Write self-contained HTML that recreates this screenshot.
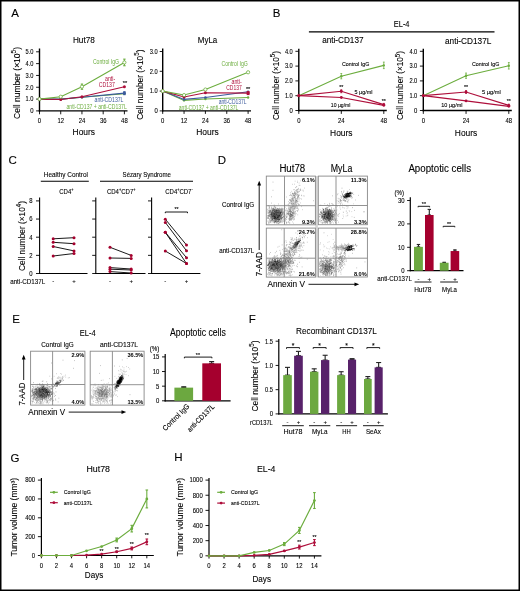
<!DOCTYPE html><html><head><meta charset="utf-8"><style>html,body{margin:0;padding:0;background:#fff;}svg{display:block;}text{font-family:"Liberation Sans", sans-serif;stroke-width:.1px;}</style></head><body>
<svg width="520" height="591" viewBox="0 0 520 591">
<rect x="0" y="0" width="520" height="591" fill="#fff"/>
<defs><filter id="bl" x="-10%" y="-10%" width="120%" height="120%"><feGaussianBlur stdDeviation="0.4"/></filter><filter id="gb" x="0" y="0" width="520" height="591" filterUnits="userSpaceOnUse"><feGaussianBlur stdDeviation="0.28"/></filter></defs>
<g filter="url(#gb)">
<rect x="0" y="0" width="520" height="591" fill="#fff"/>
<text x="11.2" y="16.7" font-size="11.5" stroke="#000">A</text>
<text x="272.8" y="16.7" font-size="11.5" stroke="#000">B</text>
<text x="8.6" y="164" font-size="11.5" stroke="#000">C</text>
<text x="217.8" y="163.8" font-size="11.5" stroke="#000">D</text>
<text x="12.3" y="323.3" font-size="11.5" stroke="#000">E</text>
<text x="248.8" y="323" font-size="11.5" stroke="#000">F</text>
<text x="10.4" y="461.8" font-size="11.5" stroke="#000">G</text>
<text x="174.3" y="461.2" font-size="11.5" stroke="#000">H</text>
<text x="72.95" y="43.01" font-size="8.6" stroke="#000" textLength="21.9" lengthAdjust="spacingAndGlyphs">Hut78</text>
<line x1="39.5" y1="48.5" x2="39.5" y2="111.6" stroke="#000" stroke-width="1.4"/>
<line x1="38.8" y1="110.9" x2="127.5" y2="110.9" stroke="#000" stroke-width="1.4"/>
<line x1="36.1" y1="110.9" x2="39.5" y2="110.9" stroke="#000" stroke-width="0.9"/>
<text x="30.2" y="113.28" font-size="6.6" stroke="#000" textLength="3.3" lengthAdjust="spacingAndGlyphs">0</text>
<line x1="36.1" y1="99.08" x2="39.5" y2="99.08" stroke="#000" stroke-width="0.9"/>
<text x="25.58" y="101.46" font-size="6.6" stroke="#000" textLength="7.92" lengthAdjust="spacingAndGlyphs">1.0</text>
<line x1="36.1" y1="87.26" x2="39.5" y2="87.26" stroke="#000" stroke-width="0.9"/>
<text x="25.58" y="89.64" font-size="6.6" stroke="#000" textLength="7.92" lengthAdjust="spacingAndGlyphs">2.0</text>
<line x1="36.1" y1="75.44" x2="39.5" y2="75.44" stroke="#000" stroke-width="0.9"/>
<text x="25.58" y="77.82" font-size="6.6" stroke="#000" textLength="7.92" lengthAdjust="spacingAndGlyphs">3.0</text>
<line x1="36.1" y1="63.62" x2="39.5" y2="63.62" stroke="#000" stroke-width="0.9"/>
<text x="25.58" y="66" font-size="6.6" stroke="#000" textLength="7.92" lengthAdjust="spacingAndGlyphs">4.0</text>
<line x1="36.1" y1="51.8" x2="39.5" y2="51.8" stroke="#000" stroke-width="0.9"/>
<text x="25.58" y="54.18" font-size="6.6" stroke="#000" textLength="7.92" lengthAdjust="spacingAndGlyphs">5.0</text>
<line x1="39.5" y1="110.9" x2="39.5" y2="114.3" stroke="#000" stroke-width="0.9"/>
<text x="37.85" y="123.3" font-size="6.6" stroke="#000" textLength="3.3" lengthAdjust="spacingAndGlyphs">0</text>
<line x1="60.73" y1="110.9" x2="60.73" y2="114.3" stroke="#000" stroke-width="0.9"/>
<text x="57.43" y="123.3" font-size="6.6" stroke="#000" textLength="6.6" lengthAdjust="spacingAndGlyphs">12</text>
<line x1="81.95" y1="110.9" x2="81.95" y2="114.3" stroke="#000" stroke-width="0.9"/>
<text x="78.65" y="123.3" font-size="6.6" stroke="#000" textLength="6.6" lengthAdjust="spacingAndGlyphs">24</text>
<line x1="103.18" y1="110.9" x2="103.18" y2="114.3" stroke="#000" stroke-width="0.9"/>
<text x="99.88" y="123.3" font-size="6.6" stroke="#000" textLength="6.6" lengthAdjust="spacingAndGlyphs">36</text>
<line x1="124.4" y1="110.9" x2="124.4" y2="114.3" stroke="#000" stroke-width="0.9"/>
<text x="121.1" y="123.3" font-size="6.6" stroke="#000" textLength="6.6" lengthAdjust="spacingAndGlyphs">48</text>
<polyline points="39.5,99.08 60.73,99.32 81.95,97.31 124.4,93.76" fill="none" stroke="#6cad3e" stroke-width="1.1"/>
<circle cx="39.5" cy="99.08" r="1.2" fill="#6cad3e"/>
<circle cx="60.73" cy="99.32" r="1.2" fill="#6cad3e"/>
<circle cx="81.95" cy="97.31" r="1.2" fill="#6cad3e"/>
<circle cx="124.4" cy="93.76" r="1.2" fill="#6cad3e"/>
<polyline points="39.5,99.08 60.73,99.08 81.95,97.31 124.4,93.17" fill="none" stroke="#3b5a9c" stroke-width="1.1"/>
<circle cx="39.5" cy="99.08" r="1.3" fill="#3b5a9c"/>
<circle cx="60.73" cy="99.08" r="1.3" fill="#3b5a9c"/>
<circle cx="81.95" cy="97.31" r="1.3" fill="#3b5a9c"/>
<circle cx="124.4" cy="93.17" r="1.3" fill="#3b5a9c"/>
<rect x="123.2" y="91.17" width="2.4" height="4" fill="#3b5a9c"/>
<polyline points="39.5,99.08 60.73,99.43 81.95,96.72 124.4,86.67" fill="none" stroke="#ae0f3b" stroke-width="1.1"/>
<circle cx="39.5" cy="99.08" r="1.5" fill="#ae0f3b"/>
<circle cx="60.73" cy="99.43" r="1.5" fill="#ae0f3b"/>
<circle cx="81.95" cy="96.72" r="1.5" fill="#ae0f3b"/>
<circle cx="124.4" cy="86.67" r="1.5" fill="#ae0f3b"/>
<line x1="81.95" y1="84.07" x2="81.95" y2="89.27" stroke="#6cad3e" stroke-width="1.1"/>
<line x1="80.75" y1="84.07" x2="83.15" y2="84.07" stroke="#6cad3e" stroke-width="1.1"/>
<line x1="80.75" y1="89.27" x2="83.15" y2="89.27" stroke="#6cad3e" stroke-width="1.1"/>
<line x1="124.4" y1="59.14" x2="124.4" y2="65.74" stroke="#6cad3e" stroke-width="1.1"/>
<line x1="123.2" y1="59.14" x2="125.6" y2="59.14" stroke="#6cad3e" stroke-width="1.1"/>
<line x1="123.2" y1="65.74" x2="125.6" y2="65.74" stroke="#6cad3e" stroke-width="1.1"/>
<polyline points="39.5,99.08 60.73,96.72 81.95,86.67 124.4,62.44" fill="none" stroke="#6cad3e" stroke-width="1.1"/>
<circle cx="39.5" cy="99.08" r="1.6" fill="#fff" stroke="#6cad3e" stroke-width="0.8"/>
<circle cx="60.73" cy="96.72" r="1.6" fill="#fff" stroke="#6cad3e" stroke-width="0.8"/>
<circle cx="81.95" cy="86.67" r="1.6" fill="#fff" stroke="#6cad3e" stroke-width="0.8"/>
<circle cx="124.4" cy="62.44" r="1.6" fill="#fff" stroke="#6cad3e" stroke-width="0.8"/>
<text x="92.9" y="63.54" font-size="6.4" fill="#6cad3e" textLength="26.2" lengthAdjust="spacingAndGlyphs">Control IgG</text>
<text x="105" y="80.54" font-size="6.4" fill="#ae0f3b" textLength="10.2" lengthAdjust="spacingAndGlyphs">anti-</text>
<text x="98.7" y="86.84" font-size="6.4" fill="#ae0f3b" textLength="16.1" lengthAdjust="spacingAndGlyphs">CD137</text>
<text x="122.7" y="85.14" font-size="5.5" stroke="#000" textLength="4.4" lengthAdjust="spacingAndGlyphs">**</text>
<text x="94.6" y="102.04" font-size="6.4" fill="#3b5a9c" textLength="28.9" lengthAdjust="spacingAndGlyphs">anti-CD137L</text>
<text x="66.5" y="109.24" font-size="6.4" fill="#6cad3e" textLength="60.3" lengthAdjust="spacingAndGlyphs">anti-CD137 + anti-CD137L</text>
<text x="72.55" y="135.15" font-size="9" stroke="#000" textLength="22.5" lengthAdjust="spacingAndGlyphs">Hours</text>
<text x="19.8" y="119" font-size="9" text-anchor="start" textLength="72" lengthAdjust="spacingAndGlyphs" transform="rotate(-90 19.8 119)" stroke="#000">Cell number (×10<tspan dy="-3.6" font-size="6.75">5</tspan><tspan dy="3.6">)</tspan></text>
<text x="197.75" y="43.31" font-size="8.6" stroke="#000" textLength="19.5" lengthAdjust="spacingAndGlyphs">MyLa</text>
<line x1="162.7" y1="48.5" x2="162.7" y2="111.6" stroke="#000" stroke-width="1.4"/>
<line x1="162" y1="110.9" x2="251" y2="110.9" stroke="#000" stroke-width="1.4"/>
<line x1="159.7" y1="110.9" x2="162.7" y2="110.9" stroke="#000" stroke-width="0.9"/>
<text x="154.4" y="113.28" font-size="6.6" stroke="#000" textLength="3.3" lengthAdjust="spacingAndGlyphs">0</text>
<line x1="159.7" y1="91.1" x2="162.7" y2="91.1" stroke="#000" stroke-width="0.9"/>
<text x="149.78" y="93.48" font-size="6.6" stroke="#000" textLength="7.92" lengthAdjust="spacingAndGlyphs">1.0</text>
<line x1="159.7" y1="71.3" x2="162.7" y2="71.3" stroke="#000" stroke-width="0.9"/>
<text x="149.78" y="73.68" font-size="6.6" stroke="#000" textLength="7.92" lengthAdjust="spacingAndGlyphs">2.0</text>
<line x1="159.7" y1="51.5" x2="162.7" y2="51.5" stroke="#000" stroke-width="0.9"/>
<text x="149.78" y="53.88" font-size="6.6" stroke="#000" textLength="7.92" lengthAdjust="spacingAndGlyphs">3.0</text>
<line x1="162.7" y1="110.9" x2="162.7" y2="113.9" stroke="#000" stroke-width="0.9"/>
<text x="161.05" y="123.3" font-size="6.6" stroke="#000" textLength="3.3" lengthAdjust="spacingAndGlyphs">0</text>
<line x1="184.05" y1="110.9" x2="184.05" y2="113.9" stroke="#000" stroke-width="0.9"/>
<text x="180.75" y="123.3" font-size="6.6" stroke="#000" textLength="6.6" lengthAdjust="spacingAndGlyphs">12</text>
<line x1="205.4" y1="110.9" x2="205.4" y2="113.9" stroke="#000" stroke-width="0.9"/>
<text x="202.1" y="123.3" font-size="6.6" stroke="#000" textLength="6.6" lengthAdjust="spacingAndGlyphs">24</text>
<line x1="226.75" y1="110.9" x2="226.75" y2="113.9" stroke="#000" stroke-width="0.9"/>
<text x="223.45" y="123.3" font-size="6.6" stroke="#000" textLength="6.6" lengthAdjust="spacingAndGlyphs">36</text>
<line x1="248.1" y1="110.9" x2="248.1" y2="113.9" stroke="#000" stroke-width="0.9"/>
<text x="244.8" y="123.3" font-size="6.6" stroke="#000" textLength="6.6" lengthAdjust="spacingAndGlyphs">48</text>
<polyline points="162.7,91.1 184.05,100.41 205.4,99.02 248.1,97.44" fill="none" stroke="#6cad3e" stroke-width="1.1"/>
<circle cx="162.7" cy="91.1" r="1.2" fill="#6cad3e"/>
<circle cx="184.05" cy="100.41" r="1.2" fill="#6cad3e"/>
<circle cx="205.4" cy="99.02" r="1.2" fill="#6cad3e"/>
<circle cx="248.1" cy="97.44" r="1.2" fill="#6cad3e"/>
<polyline points="162.7,91.1 184.05,99.42 205.4,97.44 248.1,91.69" fill="none" stroke="#3b5a9c" stroke-width="1.1"/>
<circle cx="162.7" cy="91.1" r="1.3" fill="#3b5a9c"/>
<circle cx="184.05" cy="99.42" r="1.3" fill="#3b5a9c"/>
<circle cx="205.4" cy="97.44" r="1.3" fill="#3b5a9c"/>
<circle cx="248.1" cy="91.69" r="1.3" fill="#3b5a9c"/>
<polyline points="162.7,91.1 184.05,97.04 205.4,92.68 248.1,93.08" fill="none" stroke="#ae0f3b" stroke-width="1.1"/>
<circle cx="162.7" cy="91.1" r="1.5" fill="#ae0f3b"/>
<circle cx="184.05" cy="97.04" r="1.5" fill="#ae0f3b"/>
<circle cx="205.4" cy="92.68" r="1.5" fill="#ae0f3b"/>
<circle cx="248.1" cy="93.08" r="1.5" fill="#ae0f3b"/>
<rect x="246.7" y="91.08" width="2.8" height="4" fill="#ae0f3b"/>
<polyline points="162.7,91.1 184.05,95.06 205.4,89.52 248.1,72.29" fill="none" stroke="#6cad3e" stroke-width="1.1"/>
<circle cx="162.7" cy="91.1" r="1.6" fill="#fff" stroke="#6cad3e" stroke-width="0.8"/>
<circle cx="184.05" cy="95.06" r="1.6" fill="#fff" stroke="#6cad3e" stroke-width="0.8"/>
<circle cx="205.4" cy="89.52" r="1.6" fill="#fff" stroke="#6cad3e" stroke-width="0.8"/>
<circle cx="248.1" cy="72.29" r="1.6" fill="#fff" stroke="#6cad3e" stroke-width="0.8"/>
<text x="221.5" y="66.24" font-size="6.4" fill="#6cad3e" textLength="26.3" lengthAdjust="spacingAndGlyphs">Control IgG</text>
<text x="231.5" y="84.44" font-size="6.4" fill="#ae0f3b" textLength="10.2" lengthAdjust="spacingAndGlyphs">anti-</text>
<text x="226.2" y="90.44" font-size="6.4" fill="#ae0f3b" textLength="15.5" lengthAdjust="spacingAndGlyphs">CD137</text>
<text x="245.9" y="90.94" font-size="5.5" stroke="#000" textLength="4.4" lengthAdjust="spacingAndGlyphs">**</text>
<text x="218.7" y="103.84" font-size="6.4" fill="#3b5a9c" textLength="27.9" lengthAdjust="spacingAndGlyphs">anti-CD137L</text>
<text x="178.8" y="109.94" font-size="6.4" fill="#6cad3e" textLength="59.6" lengthAdjust="spacingAndGlyphs">anti-CD137 + anti-CD137L</text>
<text x="196.25" y="135.15" font-size="9" stroke="#000" textLength="22.5" lengthAdjust="spacingAndGlyphs">Hours</text>
<text x="142.8" y="119.85" font-size="9" text-anchor="start" textLength="70.3" lengthAdjust="spacingAndGlyphs" transform="rotate(-90 142.8 119.85)" stroke="#000">Cell number (×10<tspan dy="-3.6" font-size="6.75">5</tspan><tspan dy="3.6">)</tspan></text>
<text x="393.8" y="26.76" font-size="8.6" stroke="#000" textLength="15.7" lengthAdjust="spacingAndGlyphs">EL-4</text>
<line x1="308.9" y1="31.9" x2="494.5" y2="31.9" stroke="#000" stroke-width="1.1"/>
<text x="322.2" y="43.31" font-size="8.6" stroke="#000" textLength="41.3" lengthAdjust="spacingAndGlyphs">anti-CD137</text>
<text x="445" y="43.51" font-size="8.6" stroke="#000" textLength="46.3" lengthAdjust="spacingAndGlyphs">anti-CD137L</text>
<line x1="298.8" y1="48.8" x2="298.8" y2="111.2" stroke="#000" stroke-width="1.4"/>
<line x1="298.1" y1="110.5" x2="386.8" y2="110.5" stroke="#000" stroke-width="1.4"/>
<line x1="295.4" y1="110.5" x2="298.8" y2="110.5" stroke="#000" stroke-width="0.9"/>
<text x="289.5" y="112.88" font-size="6.6" stroke="#000" textLength="3.3" lengthAdjust="spacingAndGlyphs">0</text>
<line x1="295.4" y1="95.7" x2="298.8" y2="95.7" stroke="#000" stroke-width="0.9"/>
<text x="284.88" y="98.08" font-size="6.6" stroke="#000" textLength="7.92" lengthAdjust="spacingAndGlyphs">1.0</text>
<line x1="295.4" y1="80.9" x2="298.8" y2="80.9" stroke="#000" stroke-width="0.9"/>
<text x="284.88" y="83.28" font-size="6.6" stroke="#000" textLength="7.92" lengthAdjust="spacingAndGlyphs">2.0</text>
<line x1="295.4" y1="66.1" x2="298.8" y2="66.1" stroke="#000" stroke-width="0.9"/>
<text x="284.88" y="68.48" font-size="6.6" stroke="#000" textLength="7.92" lengthAdjust="spacingAndGlyphs">3.0</text>
<line x1="295.4" y1="51.3" x2="298.8" y2="51.3" stroke="#000" stroke-width="0.9"/>
<text x="284.88" y="53.68" font-size="6.6" stroke="#000" textLength="7.92" lengthAdjust="spacingAndGlyphs">4.0</text>
<line x1="298.8" y1="110.5" x2="298.8" y2="113.9" stroke="#000" stroke-width="0.9"/>
<text x="297.15" y="122.9" font-size="6.6" stroke="#000" textLength="3.3" lengthAdjust="spacingAndGlyphs">0</text>
<line x1="341.3" y1="110.5" x2="341.3" y2="113.9" stroke="#000" stroke-width="0.9"/>
<text x="338" y="122.9" font-size="6.6" stroke="#000" textLength="6.6" lengthAdjust="spacingAndGlyphs">24</text>
<line x1="383.8" y1="110.5" x2="383.8" y2="113.9" stroke="#000" stroke-width="0.9"/>
<text x="380.5" y="122.9" font-size="6.6" stroke="#000" textLength="6.6" lengthAdjust="spacingAndGlyphs">48</text>
<line x1="341.3" y1="73.5" x2="341.3" y2="78.83" stroke="#6cad3e" stroke-width="0.8"/>
<line x1="340.4" y1="73.5" x2="342.2" y2="73.5" stroke="#6cad3e" stroke-width="0.8"/>
<line x1="340.4" y1="78.83" x2="342.2" y2="78.83" stroke="#6cad3e" stroke-width="0.8"/>
<line x1="383.8" y1="62.1" x2="383.8" y2="68.62" stroke="#6cad3e" stroke-width="0.8"/>
<line x1="382.9" y1="62.1" x2="384.7" y2="62.1" stroke="#6cad3e" stroke-width="0.8"/>
<line x1="382.9" y1="68.62" x2="384.7" y2="68.62" stroke="#6cad3e" stroke-width="0.8"/>
<polyline points="298.8,95.7 341.3,76.16 383.8,65.36" fill="none" stroke="#6cad3e" stroke-width="1.1"/>
<circle cx="298.8" cy="95.7" r="1.2" fill="#6cad3e"/>
<circle cx="341.3" cy="76.16" r="1.2" fill="#6cad3e"/>
<circle cx="383.8" cy="65.36" r="1.2" fill="#6cad3e"/>
<line x1="341.3" y1="89.78" x2="341.3" y2="92.74" stroke="#ae0f3b" stroke-width="0.8"/>
<line x1="340.4" y1="89.78" x2="342.2" y2="89.78" stroke="#ae0f3b" stroke-width="0.8"/>
<line x1="340.4" y1="92.74" x2="342.2" y2="92.74" stroke="#ae0f3b" stroke-width="0.8"/>
<line x1="383.8" y1="103.4" x2="383.8" y2="105.76" stroke="#ae0f3b" stroke-width="0.8"/>
<line x1="382.9" y1="103.4" x2="384.7" y2="103.4" stroke="#ae0f3b" stroke-width="0.8"/>
<line x1="382.9" y1="105.76" x2="384.7" y2="105.76" stroke="#ae0f3b" stroke-width="0.8"/>
<polyline points="298.8,95.7 341.3,91.26 383.8,104.58" fill="none" stroke="#ae0f3b" stroke-width="1.2"/>
<circle cx="298.8" cy="95.7" r="1.4" fill="#ae0f3b"/>
<circle cx="341.3" cy="91.26" r="1.4" fill="#ae0f3b"/>
<circle cx="383.8" cy="104.58" r="1.4" fill="#ae0f3b"/>
<polyline points="298.8,95.7 341.3,97.48 383.8,105.32" fill="none" stroke="#ae0f3b" stroke-width="1.2"/>
<circle cx="298.8" cy="95.7" r="1.4" fill="#ae0f3b"/>
<circle cx="341.3" cy="97.48" r="1.4" fill="#ae0f3b"/>
<circle cx="383.8" cy="105.32" r="1.4" fill="#ae0f3b"/>
<text x="342" y="65.71" font-size="5.6" stroke="#000" textLength="27.3" lengthAdjust="spacingAndGlyphs">Control IgG</text>
<text x="354.5" y="93.76" font-size="5.6" stroke="#000" textLength="18" lengthAdjust="spacingAndGlyphs">5 µg/ml</text>
<text x="330.8" y="107.46" font-size="5.6" stroke="#000" textLength="19.7" lengthAdjust="spacingAndGlyphs">10 µg/ml</text>
<text x="339.22" y="88.76" font-size="5.2" stroke="#000" textLength="4.16" lengthAdjust="spacingAndGlyphs">**</text>
<text x="381.72" y="102.96" font-size="5.2" stroke="#000" textLength="4.16" lengthAdjust="spacingAndGlyphs">**</text>
<text x="330.05" y="135.65" font-size="9" stroke="#000" textLength="22.5" lengthAdjust="spacingAndGlyphs">Hours</text>
<text x="278.8" y="120.1" font-size="8.6" text-anchor="start" textLength="69" lengthAdjust="spacingAndGlyphs" transform="rotate(-90 278.8 120.1)" stroke="#000">Cell number (×10<tspan dy="-3.44" font-size="6.45">5</tspan><tspan dy="3.44">)</tspan></text>
<line x1="423.3" y1="48.8" x2="423.3" y2="111.2" stroke="#000" stroke-width="1.4"/>
<line x1="422.6" y1="110.5" x2="511.8" y2="110.5" stroke="#000" stroke-width="1.4"/>
<line x1="419.9" y1="110.5" x2="423.3" y2="110.5" stroke="#000" stroke-width="0.9"/>
<text x="414" y="112.88" font-size="6.6" stroke="#000" textLength="3.3" lengthAdjust="spacingAndGlyphs">0</text>
<line x1="419.9" y1="95.7" x2="423.3" y2="95.7" stroke="#000" stroke-width="0.9"/>
<text x="409.38" y="98.08" font-size="6.6" stroke="#000" textLength="7.92" lengthAdjust="spacingAndGlyphs">1.0</text>
<line x1="419.9" y1="80.9" x2="423.3" y2="80.9" stroke="#000" stroke-width="0.9"/>
<text x="409.38" y="83.28" font-size="6.6" stroke="#000" textLength="7.92" lengthAdjust="spacingAndGlyphs">2.0</text>
<line x1="419.9" y1="66.1" x2="423.3" y2="66.1" stroke="#000" stroke-width="0.9"/>
<text x="409.38" y="68.48" font-size="6.6" stroke="#000" textLength="7.92" lengthAdjust="spacingAndGlyphs">3.0</text>
<line x1="419.9" y1="51.3" x2="423.3" y2="51.3" stroke="#000" stroke-width="0.9"/>
<text x="409.38" y="53.68" font-size="6.6" stroke="#000" textLength="7.92" lengthAdjust="spacingAndGlyphs">4.0</text>
<line x1="423.3" y1="110.5" x2="423.3" y2="113.9" stroke="#000" stroke-width="0.9"/>
<text x="421.65" y="122.9" font-size="6.6" stroke="#000" textLength="3.3" lengthAdjust="spacingAndGlyphs">0</text>
<line x1="466.05" y1="110.5" x2="466.05" y2="113.9" stroke="#000" stroke-width="0.9"/>
<text x="462.75" y="122.9" font-size="6.6" stroke="#000" textLength="6.6" lengthAdjust="spacingAndGlyphs">24</text>
<line x1="508.8" y1="110.5" x2="508.8" y2="113.9" stroke="#000" stroke-width="0.9"/>
<text x="505.5" y="122.9" font-size="6.6" stroke="#000" textLength="6.6" lengthAdjust="spacingAndGlyphs">48</text>
<line x1="466.05" y1="73.06" x2="466.05" y2="78.38" stroke="#6cad3e" stroke-width="0.8"/>
<line x1="465.15" y1="73.06" x2="466.95" y2="73.06" stroke="#6cad3e" stroke-width="0.8"/>
<line x1="465.15" y1="78.38" x2="466.95" y2="78.38" stroke="#6cad3e" stroke-width="0.8"/>
<line x1="508.8" y1="62.55" x2="508.8" y2="69.06" stroke="#6cad3e" stroke-width="0.8"/>
<line x1="507.9" y1="62.55" x2="509.7" y2="62.55" stroke="#6cad3e" stroke-width="0.8"/>
<line x1="507.9" y1="69.06" x2="509.7" y2="69.06" stroke="#6cad3e" stroke-width="0.8"/>
<polyline points="423.3,95.7 466.05,75.72 508.8,65.8" fill="none" stroke="#6cad3e" stroke-width="1.1"/>
<circle cx="423.3" cy="95.7" r="1.2" fill="#6cad3e"/>
<circle cx="466.05" cy="75.72" r="1.2" fill="#6cad3e"/>
<circle cx="508.8" cy="65.8" r="1.2" fill="#6cad3e"/>
<line x1="466.05" y1="90.52" x2="466.05" y2="93.48" stroke="#ae0f3b" stroke-width="0.8"/>
<line x1="465.15" y1="90.52" x2="466.95" y2="90.52" stroke="#ae0f3b" stroke-width="0.8"/>
<line x1="465.15" y1="93.48" x2="466.95" y2="93.48" stroke="#ae0f3b" stroke-width="0.8"/>
<line x1="508.8" y1="104.14" x2="508.8" y2="106.5" stroke="#ae0f3b" stroke-width="0.8"/>
<line x1="507.9" y1="104.14" x2="509.7" y2="104.14" stroke="#ae0f3b" stroke-width="0.8"/>
<line x1="507.9" y1="106.5" x2="509.7" y2="106.5" stroke="#ae0f3b" stroke-width="0.8"/>
<polyline points="423.3,95.7 466.05,92 508.8,105.32" fill="none" stroke="#ae0f3b" stroke-width="1.2"/>
<circle cx="423.3" cy="95.7" r="1.4" fill="#ae0f3b"/>
<circle cx="466.05" cy="92" r="1.4" fill="#ae0f3b"/>
<circle cx="508.8" cy="105.32" r="1.4" fill="#ae0f3b"/>
<polyline points="423.3,95.7 466.05,100.88 508.8,106.36" fill="none" stroke="#ae0f3b" stroke-width="1.2"/>
<circle cx="423.3" cy="95.7" r="1.4" fill="#ae0f3b"/>
<circle cx="466.05" cy="100.88" r="1.4" fill="#ae0f3b"/>
<circle cx="508.8" cy="106.36" r="1.4" fill="#ae0f3b"/>
<text x="472" y="65.71" font-size="5.6" stroke="#000" textLength="27.3" lengthAdjust="spacingAndGlyphs">Control IgG</text>
<text x="482" y="93.96" font-size="5.6" stroke="#000" textLength="18.8" lengthAdjust="spacingAndGlyphs">5 µg/ml</text>
<text x="441.3" y="107.46" font-size="5.6" stroke="#000" textLength="21.2" lengthAdjust="spacingAndGlyphs">10 µg/ml</text>
<text x="463.97" y="89.26" font-size="5.2" stroke="#000" textLength="4.16" lengthAdjust="spacingAndGlyphs">**</text>
<text x="506.72" y="102.96" font-size="5.2" stroke="#000" textLength="4.16" lengthAdjust="spacingAndGlyphs">**</text>
<text x="454.8" y="135.65" font-size="9" stroke="#000" textLength="22.5" lengthAdjust="spacingAndGlyphs">Hours</text>
<text x="403.3" y="120.1" font-size="8.6" text-anchor="start" textLength="69" lengthAdjust="spacingAndGlyphs" transform="rotate(-90 403.3 120.1)" stroke="#000">Cell number (×10<tspan dy="-3.44" font-size="6.45">5</tspan><tspan dy="3.44">)</tspan></text>
<text x="43.8" y="176.92" font-size="7.2" stroke="#000" textLength="44.2" lengthAdjust="spacingAndGlyphs">Healthy Control</text>
<line x1="40.8" y1="181.2" x2="88.8" y2="181.2" stroke="#000" stroke-width="1.1"/>
<text x="122.6" y="176.82" font-size="7.2" stroke="#000" textLength="48.3" lengthAdjust="spacingAndGlyphs">Sézary Syndrome</text>
<line x1="100" y1="181.2" x2="193" y2="181.2" stroke="#000" stroke-width="1.1"/>
<text x="59.3" y="193.9" font-size="7.6" stroke="#000" textLength="14.2" lengthAdjust="spacingAndGlyphs">CD4<tspan dy="-2.6" font-size="4.8">+</tspan></text>
<text x="106.9" y="193.9" font-size="7.6" stroke="#000" textLength="28.6" lengthAdjust="spacingAndGlyphs">CD4<tspan dy="-2.6" font-size="4.8">+</tspan><tspan dy="2.6">CD7</tspan><tspan dy="-2.6" font-size="4.8">+</tspan></text>
<text x="165.3" y="193.9" font-size="7.6" stroke="#000" textLength="27.4" lengthAdjust="spacingAndGlyphs">CD4<tspan dy="-2.6" font-size="4.8">+</tspan><tspan dy="2.6">CD7</tspan><tspan dy="-2.6" font-size="4.8">-</tspan></text>
<line x1="39.6" y1="197.6" x2="39.6" y2="274.05" stroke="#000" stroke-width="1.1"/>
<line x1="39.05" y1="273.5" x2="87.5" y2="273.5" stroke="#000" stroke-width="1.1"/>
<line x1="36" y1="273.5" x2="39.6" y2="273.5" stroke="#000" stroke-width="0.9"/>
<line x1="36" y1="255.35" x2="39.6" y2="255.35" stroke="#000" stroke-width="0.9"/>
<line x1="36" y1="237.2" x2="39.6" y2="237.2" stroke="#000" stroke-width="0.9"/>
<line x1="36" y1="219.05" x2="39.6" y2="219.05" stroke="#000" stroke-width="0.9"/>
<line x1="36" y1="200.9" x2="39.6" y2="200.9" stroke="#000" stroke-width="0.9"/>
<line x1="95.8" y1="197.6" x2="95.8" y2="274.05" stroke="#000" stroke-width="1.1"/>
<line x1="95.25" y1="273.5" x2="145.5" y2="273.5" stroke="#000" stroke-width="1.1"/>
<line x1="92.2" y1="273.5" x2="95.8" y2="273.5" stroke="#000" stroke-width="0.9"/>
<line x1="92.2" y1="255.35" x2="95.8" y2="255.35" stroke="#000" stroke-width="0.9"/>
<line x1="92.2" y1="237.2" x2="95.8" y2="237.2" stroke="#000" stroke-width="0.9"/>
<line x1="92.2" y1="219.05" x2="95.8" y2="219.05" stroke="#000" stroke-width="0.9"/>
<line x1="92.2" y1="200.9" x2="95.8" y2="200.9" stroke="#000" stroke-width="0.9"/>
<line x1="151.6" y1="197.6" x2="151.6" y2="274.05" stroke="#000" stroke-width="1.1"/>
<line x1="151.05" y1="273.5" x2="200.4" y2="273.5" stroke="#000" stroke-width="1.1"/>
<line x1="148" y1="273.5" x2="151.6" y2="273.5" stroke="#000" stroke-width="0.9"/>
<line x1="148" y1="255.35" x2="151.6" y2="255.35" stroke="#000" stroke-width="0.9"/>
<line x1="148" y1="237.2" x2="151.6" y2="237.2" stroke="#000" stroke-width="0.9"/>
<line x1="148" y1="219.05" x2="151.6" y2="219.05" stroke="#000" stroke-width="0.9"/>
<line x1="148" y1="200.9" x2="151.6" y2="200.9" stroke="#000" stroke-width="0.9"/>
<text x="29.3" y="275.88" font-size="6.6" stroke="#000" textLength="3.3" lengthAdjust="spacingAndGlyphs">0</text>
<text x="29.3" y="257.73" font-size="6.6" stroke="#000" textLength="3.3" lengthAdjust="spacingAndGlyphs">2</text>
<text x="29.3" y="239.58" font-size="6.6" stroke="#000" textLength="3.3" lengthAdjust="spacingAndGlyphs">4</text>
<text x="29.3" y="221.43" font-size="6.6" stroke="#000" textLength="3.3" lengthAdjust="spacingAndGlyphs">6</text>
<text x="29.3" y="203.28" font-size="6.6" stroke="#000" textLength="3.3" lengthAdjust="spacingAndGlyphs">8</text>
<text x="25" y="271" font-size="8.8" text-anchor="start" textLength="70" lengthAdjust="spacingAndGlyphs" transform="rotate(-90 25 271)" stroke="#000">Cell number (×10<tspan dy="-3.52" font-size="6.6">4</tspan><tspan dy="3.52">)</tspan></text>
<text x="10.2" y="283.6" font-size="6.5" stroke="#000" textLength="35" lengthAdjust="spacingAndGlyphs">anti-CD137L</text>
<text x="53.3" y="283" font-size="6" text-anchor="middle" stroke="#000">-</text>
<text x="74" y="283" font-size="6" text-anchor="middle" stroke="#000">+</text>
<text x="110" y="283" font-size="6" text-anchor="middle" stroke="#000">-</text>
<text x="131.2" y="283" font-size="6" text-anchor="middle" stroke="#000">+</text>
<text x="165.3" y="283" font-size="6" text-anchor="middle" stroke="#000">-</text>
<text x="186.5" y="283" font-size="6" text-anchor="middle" stroke="#000">+</text>
<line x1="53.2" y1="238.8" x2="74" y2="237.7" stroke="#000" stroke-width="0.9"/>
<line x1="53.2" y1="242.3" x2="74" y2="243.7" stroke="#000" stroke-width="0.9"/>
<line x1="53.2" y1="246.5" x2="74" y2="250.9" stroke="#000" stroke-width="0.9"/>
<line x1="53.2" y1="256" x2="74" y2="253.5" stroke="#000" stroke-width="0.9"/>
<circle cx="53.2" cy="238.8" r="1.5" fill="#a5002d"/>
<circle cx="74" cy="237.7" r="1.5" fill="#a5002d"/>
<circle cx="53.2" cy="242.3" r="1.5" fill="#a5002d"/>
<circle cx="74" cy="243.7" r="1.5" fill="#a5002d"/>
<circle cx="53.2" cy="246.5" r="1.5" fill="#a5002d"/>
<circle cx="74" cy="250.9" r="1.5" fill="#a5002d"/>
<circle cx="53.2" cy="256" r="1.5" fill="#a5002d"/>
<circle cx="74" cy="253.5" r="1.5" fill="#a5002d"/>
<line x1="110" y1="247.3" x2="131.2" y2="255.4" stroke="#000" stroke-width="0.9"/>
<line x1="110" y1="258" x2="131.2" y2="258.4" stroke="#000" stroke-width="0.9"/>
<line x1="110" y1="267.6" x2="131.2" y2="269" stroke="#000" stroke-width="0.9"/>
<line x1="110" y1="269.2" x2="131.2" y2="270" stroke="#000" stroke-width="0.9"/>
<line x1="110" y1="271.6" x2="131.2" y2="273" stroke="#000" stroke-width="0.9"/>
<circle cx="110" cy="247.3" r="1.5" fill="#a5002d"/>
<circle cx="131.2" cy="255.4" r="1.5" fill="#a5002d"/>
<circle cx="110" cy="258" r="1.5" fill="#a5002d"/>
<circle cx="131.2" cy="258.4" r="1.5" fill="#a5002d"/>
<circle cx="110" cy="267.6" r="1.5" fill="#a5002d"/>
<circle cx="131.2" cy="269" r="1.5" fill="#a5002d"/>
<circle cx="110" cy="269.2" r="1.5" fill="#a5002d"/>
<circle cx="131.2" cy="270" r="1.5" fill="#a5002d"/>
<circle cx="110" cy="271.6" r="1.5" fill="#a5002d"/>
<circle cx="131.2" cy="273" r="1.5" fill="#a5002d"/>
<line x1="165.3" y1="219.2" x2="186.5" y2="245" stroke="#000" stroke-width="0.9"/>
<line x1="165.3" y1="222.4" x2="186.5" y2="250.8" stroke="#000" stroke-width="0.9"/>
<line x1="165.3" y1="232.3" x2="186.5" y2="257.7" stroke="#000" stroke-width="0.9"/>
<line x1="165.3" y1="232.3" x2="186.5" y2="263.5" stroke="#000" stroke-width="0.9"/>
<line x1="165.3" y1="251" x2="186.5" y2="263.5" stroke="#000" stroke-width="0.9"/>
<circle cx="165.3" cy="219.2" r="1.5" fill="#a5002d"/>
<circle cx="186.5" cy="245" r="1.5" fill="#a5002d"/>
<circle cx="165.3" cy="222.4" r="1.5" fill="#a5002d"/>
<circle cx="186.5" cy="250.8" r="1.5" fill="#a5002d"/>
<circle cx="165.3" cy="232.3" r="1.5" fill="#a5002d"/>
<circle cx="186.5" cy="257.7" r="1.5" fill="#a5002d"/>
<circle cx="165.3" cy="232.3" r="1.5" fill="#a5002d"/>
<circle cx="186.5" cy="263.5" r="1.5" fill="#a5002d"/>
<circle cx="165.3" cy="251" r="1.5" fill="#a5002d"/>
<circle cx="186.5" cy="263.5" r="1.5" fill="#a5002d"/>
<polyline points="165.3,213.2 165.3,212 187.5,212 187.5,213.2" fill="none" stroke="#000" stroke-width="0.9"/>
<text x="174.42" y="211.46" font-size="5.2" stroke="#000" textLength="4.16" lengthAdjust="spacingAndGlyphs">**</text>
<text x="279.4" y="172" font-size="10" stroke="#000" textLength="25.8" lengthAdjust="spacingAndGlyphs">Hut78</text>
<text x="330.8" y="172" font-size="10" stroke="#000" textLength="21.5" lengthAdjust="spacingAndGlyphs">MyLa</text>
<rect x="315.3" y="176" width="2.6" height="101.5" fill="#d4d4d4"/>
<rect x="266.3" y="176.1" width="49.1" height="48.7" fill="#fff"/>
<g filter="url(#bl)">
<path d="M276.3 214.9h.6M277.1 214.8h.6M275.6 214.2h.6M273.9 215.2h.6M275.1 213.9h.6M273.6 214.8h.6M276.5 212.2h.6M279.9 214.0h.6M275.0 220.9h.6M274.6 214.8h.6M277.6 214.4h.6M277.3 216.4h.6M276.6 216.8h.6M273.8 212.1h.6M276.2 214.5h.6M278.2 217.4h.6M272.7 215.7h.6M275.1 215.3h.6M271.2 219.0h.6M272.8 213.2h.6M271.3 215.2h.6M275.7 213.6h.6M272.9 218.9h.6M277.0 209.9h.6M276.7 213.3h.6M275.8 213.6h.6M269.5 216.7h.6M274.8 216.6h.6M276.2 218.6h.6M276.6 210.9h.6M272.2 217.0h.6M275.0 214.2h.6M273.7 213.3h.6M274.1 216.4h.6M279.2 212.6h.6M274.1 209.6h.6M276.2 214.0h.6M278.7 211.1h.6M274.7 213.3h.6M276.0 216.0h.6M276.6 215.8h.6M276.5 219.1h.6M273.0 214.5h.6M276.5 211.0h.6M280.0 213.0h.6M272.1 212.6h.6M278.6 211.8h.6M276.6 216.1h.6M274.6 213.3h.6M281.7 209.9h.6M278.4 216.8h.6M273.1 214.7h.6M276.5 215.9h.6M277.9 215.3h.6M275.8 216.6h.6M278.1 215.1h.6M276.1 218.2h.6M278.1 216.1h.6M280.2 216.0h.6M274.5 216.1h.6M276.8 211.2h.6M275.0 214.6h.6M276.6 214.3h.6M273.1 215.5h.6M274.7 211.5h.6M275.8 219.2h.6M278.7 215.3h.6M279.4 211.9h.6M272.7 210.6h.6M274.2 214.3h.6M278.0 214.8h.6M270.9 213.1h.6M275.0 215.2h.6M276.0 213.3h.6M279.7 216.4h.6M278.2 213.1h.6M275.4 214.9h.6M275.3 217.5h.6M275.6 221.7h.6M280.4 212.4h.6M275.1 213.8h.6M275.5 212.8h.6M277.3 217.0h.6M276.0 212.0h.6M275.8 213.7h.6M273.3 214.9h.6M276.3 212.5h.6M275.1 212.5h.6M279.4 213.8h.6M278.1 209.5h.6M276.2 211.2h.6M278.1 213.9h.6M275.4 215.4h.6M279.1 214.5h.6M276.3 210.4h.6M277.9 213.8h.6M272.8 217.1h.6M277.2 216.4h.6M271.7 214.8h.6M270.8 212.7h.6M275.5 216.6h.6M273.9 213.5h.6M276.7 212.0h.6M282.4 212.9h.6M274.1 218.8h.6M274.6 215.6h.6M276.9 218.0h.6M277.6 213.8h.6M275.8 217.4h.6M275.7 213.4h.6M278.2 214.6h.6M277.7 221.5h.6M273.5 217.0h.6M276.1 213.7h.6M276.4 214.8h.6M273.5 215.8h.6M277.0 218.1h.6M274.0 213.7h.6M278.9 210.5h.6M276.8 214.3h.6M276.5 215.0h.6M274.7 215.3h.6M276.0 218.4h.6M270.9 215.8h.6M273.2 217.1h.6M277.3 212.1h.6M270.6 217.3h.6M278.6 220.5h.6M271.6 217.0h.6M278.3 215.7h.6M274.0 215.4h.6M278.4 219.6h.6M276.7 212.6h.6M272.2 214.7h.6M279.7 216.2h.6M280.2 216.9h.6M276.1 213.9h.6M275.6 215.8h.6M275.9 214.3h.6M273.7 215.3h.6M279.3 214.7h.6M274.8 212.0h.6M276.2 214.9h.6M274.2 217.3h.6M274.6 212.5h.6M272.9 214.4h.6M279.7 216.7h.6M275.9 212.2h.6M278.9 215.5h.6M276.3 212.2h.6M274.4 218.0h.6M275.4 221.0h.6M274.8 220.3h.6M276.3 214.4h.6M275.3 216.9h.6M275.5 215.3h.6M272.6 215.3h.6M274.1 219.0h.6M280.8 211.6h.6M274.5 217.7h.6M273.5 214.9h.6M277.2 218.7h.6M280.1 215.5h.6M272.4 213.3h.6M275.7 215.7h.6M274.6 216.9h.6M271.5 215.1h.6M278.3 216.3h.6M276.2 213.6h.6M276.5 209.5h.6M274.3 217.3h.6M277.5 216.8h.6M274.8 215.4h.6M275.9 215.2h.6M273.3 217.7h.6M273.0 213.8h.6M279.9 213.2h.6M274.9 214.5h.6M277.1 218.1h.6M276.2 211.4h.6M275.1 218.1h.6M274.9 213.3h.6M278.0 212.1h.6M275.5 218.3h.6M275.9 214.7h.6M276.4 211.6h.6M279.5 214.1h.6M278.1 217.4h.6M277.3 218.1h.6M274.8 213.9h.6M272.6 216.1h.6M278.9 216.9h.6M278.9 213.3h.6M275.9 215.9h.6M277.8 214.9h.6M278.4 213.6h.6M278.5 213.7h.6M278.8 215.2h.6M275.1 215.1h.6M280.4 213.5h.6M272.9 213.9h.6M278.6 217.9h.6M277.6 215.6h.6M278.7 217.3h.6M281.4 218.1h.6M280.3 216.5h.6M273.2 220.9h.6M271.7 212.9h.6M278.5 217.1h.6M273.6 214.2h.6M276.3 219.8h.6M278.6 219.4h.6M271.9 209.9h.6M270.6 212.5h.6M277.0 216.7h.6M276.4 217.1h.6M275.6 216.9h.6M276.4 214.8h.6M274.0 216.2h.6M272.2 216.7h.6M275.9 214.8h.6M273.7 217.7h.6M271.9 209.1h.6M277.7 216.6h.6M276.1 212.3h.6M277.4 217.5h.6M273.6 214.4h.6M274.5 212.7h.6M273.6 216.0h.6M273.9 212.6h.6M276.8 212.6h.6M274.2 210.9h.6M277.3 214.9h.6M277.2 216.3h.6M281.8 217.7h.6M272.5 214.6h.6M278.7 217.7h.6M276.1 215.0h.6M276.3 214.8h.6M272.4 216.5h.6M275.1 217.8h.6M278.3 214.1h.6M276.1 214.4h.6M276.5 214.6h.6M275.5 215.2h.6M279.4 212.7h.6M276.2 217.7h.6M270.4 214.0h.6M274.4 216.2h.6M271.0 212.9h.6M267.5 215.9h.6M274.9 216.0h.6M279.9 213.9h.6M276.4 220.3h.6M273.1 216.0h.6M273.8 219.6h.6M279.4 217.5h.6M276.7 213.3h.6M276.4 214.0h.6M276.2 216.1h.6M276.4 215.2h.6M278.5 215.1h.6M277.8 214.3h.6M276.9 210.3h.6M273.5 214.4h.6M277.7 209.2h.6M274.5 216.0h.6M279.3 213.1h.6M272.9 213.1h.6M275.9 214.4h.6M276.3 215.7h.6M272.7 211.3h.6M280.9 210.5h.6M280.2 212.2h.6M275.0 209.7h.6M278.4 212.5h.6M277.3 219.1h.6M269.2 212.3h.6M277.0 216.7h.6M276.1 211.4h.6M276.5 215.8h.6M273.4 214.2h.6M275.6 214.8h.6M275.8 216.5h.6M279.5 219.6h.6M277.2 215.5h.6M276.3 215.3h.6M280.4 212.5h.6M274.8 216.5h.6M275.2 214.4h.6M271.4 217.2h.6M280.5 214.9h.6M278.9 219.5h.6M278.8 209.8h.6M278.1 214.2h.6M276.6 217.3h.6M276.9 214.1h.6M275.6 212.9h.6M275.8 214.3h.6M276.4 211.4h.6M280.4 215.3h.6M277.8 221.3h.6M276.1 218.0h.6M274.7 212.1h.6M274.6 212.7h.6M280.6 213.9h.6M277.7 217.6h.6M276.5 212.9h.6M275.4 213.2h.6M273.3 217.3h.6M276.1 217.2h.6M278.7 214.0h.6M275.2 212.1h.6M275.7 211.0h.6M275.7 213.2h.6M276.6 209.2h.6M272.0 216.9h.6M275.7 213.4h.6M274.0 216.3h.6M278.7 219.9h.6M274.2 218.0h.6M277.9 212.0h.6M280.4 217.3h.6M275.5 218.0h.6M274.7 213.1h.6M276.8 212.5h.6M276.3 214.7h.6M273.6 210.8h.6M277.5 218.8h.6M281.7 208.7h.6M275.6 212.1h.6M275.8 214.3h.6M273.5 214.4h.6M277.2 215.4h.6M272.9 215.7h.6M273.3 214.4h.6M279.8 218.0h.6M273.9 209.4h.6M279.2 215.0h.6M280.4 213.1h.6M277.0 215.3h.6M277.8 215.6h.6M281.6 212.6h.6M275.8 213.3h.6M274.7 217.1h.6M272.6 215.9h.6M276.4 213.2h.6M280.3 220.3h.6M278.9 221.0h.6M273.8 211.2h.6M274.0 215.8h.6M274.9 221.5h.6M277.1 217.0h.6M275.7 215.6h.6M276.9 214.5h.6M277.1 213.6h.6M275.5 214.4h.6M276.2 213.6h.6M276.9 216.9h.6M276.1 214.0h.6M277.7 213.9h.6M281.4 211.9h.6M277.9 214.9h.6M276.5 212.7h.6M271.7 214.5h.6M277.3 217.7h.6M271.0 216.0h.6M272.5 216.3h.6M278.6 215.9h.6M278.2 215.2h.6M275.9 214.7h.6M271.7 214.2h.6M275.3 217.0h.6M274.5 212.2h.6M278.0 218.5h.6M282.4 215.1h.6M276.9 213.1h.6M274.2 213.7h.6M273.1 213.2h.6M276.1 215.4h.6M275.8 213.1h.6M273.2 218.0h.6M276.6 213.0h.6M273.2 209.1h.6M279.3 213.1h.6M279.2 209.8h.6M279.2 214.9h.6M275.0 217.8h.6M277.7 216.7h.6M275.9 211.5h.6M275.3 213.0h.6M275.4 219.6h.6M272.8 215.8h.6M272.4 215.0h.6M278.4 217.7h.6M275.8 221.4h.6M276.9 218.4h.6M279.0 215.4h.6M271.6 215.9h.6M274.2 216.6h.6M276.8 213.4h.6M277.4 212.2h.6M275.3 215.1h.6M279.1 212.5h.6M276.9 214.8h.6M273.0 215.2h.6M273.8 221.1h.6M278.5 212.8h.6M277.6 214.7h.6M271.2 214.6h.6M279.9 216.1h.6M277.9 217.7h.6M279.9 213.7h.6M275.3 212.9h.6M275.5 210.7h.6M273.3 212.6h.6M283.1 216.4h.6M275.8 215.1h.6M280.6 212.4h.6M274.6 214.0h.6M276.7 215.1h.6M271.8 216.3h.6M275.3 213.5h.6M279.0 214.3h.6M272.9 210.3h.6M279.2 212.0h.6M277.2 219.2h.6M273.5 209.3h.6M274.9 214.1h.6M275.1 215.6h.6M276.2 214.0h.6M274.9 212.9h.6M274.1 214.8h.6M275.5 215.0h.6M273.5 214.8h.6M272.8 210.1h.6M276.2 214.6h.6M278.7 212.8h.6M272.2 213.6h.6M276.3 215.6h.6M274.5 216.7h.6M273.7 217.3h.6M278.6 213.7h.6M274.9 217.4h.6M280.3 218.1h.6M274.2 218.0h.6M277.3 218.6h.6M275.7 214.6h.6M274.3 214.5h.6M277.9 217.1h.6M275.9 211.4h.6M277.9 215.5h.6M276.2 213.6h.6M273.4 214.0h.6M276.0 210.5h.6M276.4 212.7h.6M278.9 214.9h.6M273.9 217.3h.6M276.2 217.6h.6M271.7 214.8h.6M278.1 214.5h.6M273.4 212.8h.6M271.4 216.0h.6M276.1 214.4h.6M279.3 216.6h.6M272.2 219.6h.6M273.4 214.9h.6M274.3 211.1h.6M273.3 212.8h.6M277.3 211.2h.6M274.1 211.9h.6M274.4 218.4h.6M277.9 215.6h.6M274.3 211.0h.6M277.5 216.7h.6M273.7 218.3h.6M273.0 214.1h.6M271.3 213.2h.6M281.3 214.1h.6M275.4 215.7h.6M277.0 216.7h.6M276.2 218.1h.6M276.7 218.2h.6M276.4 218.1h.6M281.5 218.5h.6M273.5 216.7h.6M272.1 211.0h.6M273.6 214.7h.6M272.7 215.8h.6M278.3 214.0h.6M278.5 217.4h.6M273.7 214.1h.6M272.5 212.6h.6M275.3 218.8h.6M280.1 216.7h.6M268.7 215.6h.6M277.7 217.4h.6M273.4 217.8h.6M279.1 215.9h.6M273.4 208.6h.6M275.5 213.2h.6M272.2 213.8h.6M273.7 212.4h.6M280.0 215.5h.6M278.5 218.1h.6M275.2 213.7h.6M274.0 212.0h.6M271.2 220.3h.6M275.2 213.8h.6M276.2 211.8h.6M276.1 215.6h.6M276.0 216.1h.6M273.3 213.2h.6M276.1 217.1h.6M276.2 213.7h.6M279.8 212.6h.6M281.3 215.5h.6M275.9 217.0h.6M274.2 213.4h.6M276.1 215.9h.6M274.7 214.8h.6M274.3 222.3h.6M276.1 213.2h.6M273.5 218.6h.6M277.9 214.9h.6M276.0 214.7h.6M277.0 216.9h.6M275.8 217.3h.6M274.3 218.3h.6M273.7 215.9h.6M275.7 213.4h.6M274.8 213.6h.6M276.9 216.3h.6M276.3 216.5h.6M272.6 218.6h.6M276.5 216.1h.6M272.7 217.8h.6M274.6 218.9h.6M275.5 215.4h.6M270.7 211.1h.6M276.5 211.9h.6M276.7 211.3h.6M275.9 219.1h.6M275.2 212.8h.6M275.3 218.2h.6M273.7 216.5h.6M275.6 219.5h.6M274.8 217.6h.6M276.5 214.7h.6M273.0 214.5h.6M276.9 215.2h.6M276.7 215.5h.6M275.9 213.6h.6M275.1 214.9h.6M277.8 219.2h.6M271.8 210.6h.6M277.5 215.7h.6M277.0 212.6h.6M277.1 215.5h.6M277.3 217.2h.6M274.5 214.9h.6M275.6 217.0h.6M278.0 210.9h.6M277.5 217.9h.6M276.9 213.4h.6M272.2 216.6h.6M277.8 215.5h.6M279.5 208.3h.6M279.0 213.0h.6M276.9 215.6h.6M272.1 219.0h.6M278.8 215.7h.6M275.9 215.7h.6M269.5 211.3h.6M277.3 218.7h.6M272.3 219.7h.6M272.8 215.1h.6M274.6 214.4h.6M279.7 210.8h.6M275.3 217.3h.6M277.0 222.0h.6M281.0 216.9h.6M280.6 218.3h.6M276.0 216.4h.6M275.6 212.4h.6M272.9 218.5h.6M274.4 211.8h.6M277.4 214.5h.6M277.4 215.7h.6M276.6 217.3h.6M279.0 216.1h.6M274.2 216.0h.6M276.1 213.0h.6M278.3 211.6h.6M277.9 215.2h.6M279.2 213.2h.6M277.4 211.6h.6M275.5 211.7h.6M277.3 213.7h.6M273.6 210.2h.6M271.9 211.5h.6M277.9 210.7h.6M276.2 215.5h.6M277.1 216.1h.6M271.7 220.2h.6M275.3 211.1h.6M274.7 213.2h.6M274.0 217.4h.6M270.2 214.4h.6M275.4 214.1h.6M278.7 219.4h.6M277.3 214.1h.6M274.7 212.0h.6M276.3 211.6h.6M278.3 215.9h.6M268.8 215.8h.6M276.0 211.4h.6M277.8 212.4h.6M278.1 216.4h.6M280.9 216.5h.6M279.4 213.3h.6M277.1 216.6h.6M277.1 216.5h.6M278.4 210.4h.6M274.8 214.2h.6M276.2 216.1h.6M278.7 213.5h.6M281.6 209.4h.6M275.9 214.3h.6M276.2 217.0h.6M276.8 219.1h.6M279.9 209.3h.6M276.2 221.8h.6M280.3 212.1h.6M273.7 217.5h.6M275.8 218.2h.6M275.8 217.6h.6M278.4 215.4h.6M279.1 212.0h.6M272.2 216.6h.6M273.8 213.1h.6M277.2 208.4h.6M274.5 222.4h.6M272.2 216.8h.6M279.1 219.7h.6M277.6 212.6h.6M277.6 218.8h.6M275.0 219.1h.6M279.1 219.0h.6M275.7 214.9h.6M279.3 211.9h.6M273.8 214.5h.6M274.0 209.3h.6M276.9 210.6h.6M274.4 215.2h.6M278.1 212.4h.6M277.0 214.6h.6M273.8 214.7h.6M276.5 220.0h.6M275.4 218.4h.6M278.8 214.9h.6M274.6 218.1h.6M275.1 213.0h.6M279.6 214.1h.6M282.3 217.4h.6M281.7 211.8h.6M276.5 214.3h.6M276.9 211.6h.6M280.4 215.3h.6M276.0 219.2h.6M273.7 213.0h.6M276.6 215.6h.6M277.5 212.7h.6M274.1 212.0h.6M271.9 211.8h.6M272.4 218.8h.6M278.1 221.1h.6M274.3 216.3h.6M275.9 213.1h.6M276.9 216.8h.6M278.0 214.1h.6M275.4 217.1h.6M277.6 215.8h.6M273.9 215.7h.6M275.3 216.6h.6M273.5 213.5h.6M279.4 213.9h.6M276.2 210.5h.6M274.3 213.9h.6M275.3 211.3h.6M275.7 214.6h.6M278.2 212.5h.6M272.0 215.3h.6M273.5 216.2h.6M275.3 211.3h.6M283.1 212.9h.6M278.9 212.5h.6M276.0 216.9h.6M278.2 219.4h.6M281.9 217.2h.6M275.7 214.1h.6M275.3 218.8h.6M279.6 211.1h.6M277.6 218.9h.6M278.1 213.3h.6M274.9 207.8h.6M281.5 221.9h.6M280.9 219.1h.6M277.8 212.3h.6M278.1 215.4h.6M270.8 214.4h.6M278.0 215.3h.6M275.8 211.1h.6M277.5 213.2h.6M278.1 216.2h.6M275.4 215.6h.6M271.7 218.1h.6M277.3 215.2h.6M274.3 221.1h.6M275.4 213.1h.6M274.7 215.7h.6M275.4 210.0h.6M270.1 211.7h.6M279.6 218.5h.6M277.0 212.5h.6M279.3 216.4h.6M281.6 214.8h.6M276.4 212.3h.6M271.4 214.1h.6M273.9 213.7h.6M273.0 213.7h.6M274.9 217.0h.6M276.5 216.7h.6M270.9 213.5h.6M277.2 212.6h.6M272.2 215.7h.6M277.1 214.7h.6M276.0 217.7h.6M275.5 221.9h.6M276.1 217.2h.6M274.8 214.9h.6M274.6 214.6h.6M271.8 212.8h.6M276.2 212.6h.6M281.3 212.4h.6M281.6 214.0h.6M279.9 213.9h.6M278.2 216.9h.6M274.5 214.0h.6M280.2 214.5h.6" stroke="#000" stroke-width=".6" fill="none"/>
<path d="M268.9 220.4h.6M283.2 216.0h.6M277.5 214.8h.6M283.9 214.3h.6M279.0 217.0h.6M282.4 211.6h.6M273.8 213.3h.6M278.6 215.3h.6M288.5 213.0h.6M268.9 215.0h.6M280.9 212.8h.6M277.1 221.3h.6M278.8 217.5h.6M281.4 215.3h.6M277.1 216.9h.6M270.6 215.1h.6M271.5 216.8h.6M271.8 216.8h.6M274.3 221.7h.6M275.7 215.4h.6M267.7 211.6h.6M285.1 218.6h.6M280.9 211.1h.6M278.7 223.5h.6M273.2 214.0h.6M274.5 215.2h.6M277.8 219.6h.6M277.1 221.0h.6M278.8 214.0h.6M289.9 209.4h.6M280.1 215.1h.6M276.9 214.0h.6M274.4 212.5h.6M282.0 213.8h.6M268.9 212.2h.6M275.8 217.8h.6M282.5 222.2h.6M274.0 207.0h.6M272.9 215.0h.6M275.6 213.7h.6M272.7 217.7h.6M282.9 211.3h.6M270.3 214.9h.6M279.5 210.9h.6M268.6 218.6h.6M278.4 215.9h.6M274.5 214.8h.6M275.0 214.4h.6M269.5 208.7h.6M272.7 218.1h.6M282.9 216.8h.6M269.3 214.8h.6M269.6 219.8h.6M282.4 220.9h.6M275.6 210.7h.6M282.9 212.1h.6M276.7 222.3h.6M270.5 221.7h.6M274.7 212.3h.6M281.3 210.3h.6M279.8 212.7h.6M275.0 213.3h.6M275.3 208.5h.6M274.4 215.6h.6M272.0 209.9h.6M284.9 210.2h.6M275.0 219.5h.6M269.2 212.5h.6M272.5 215.2h.6M278.7 218.3h.6M278.3 219.1h.6M274.3 214.0h.6M271.6 215.7h.6M275.1 211.9h.6M268.3 218.4h.6M279.1 210.6h.6M272.5 215.5h.6M276.9 218.6h.6M281.3 217.6h.6M278.3 223.5h.6M275.1 221.5h.6M285.9 213.1h.6M278.4 215.1h.6M273.2 209.9h.6M278.8 216.6h.6M277.1 216.2h.6M275.4 215.9h.6M274.2 206.3h.6M274.1 216.0h.6M273.5 210.0h.6M272.7 211.7h.6M273.2 217.0h.6M274.8 214.8h.6M275.5 211.6h.6M269.2 219.0h.6M278.3 213.1h.6M268.8 213.3h.6M273.8 209.4h.6M281.7 212.0h.6M271.4 218.4h.6M272.4 208.4h.6M280.5 215.2h.6M273.0 218.7h.6M273.5 213.8h.6M276.1 216.6h.6M280.4 210.6h.6M270.7 220.3h.6M269.8 216.5h.6M269.4 207.8h.6M270.6 210.9h.6M270.7 219.8h.6M276.5 223.0h.6M270.4 216.8h.6M275.6 221.0h.6M277.1 212.8h.6M271.3 214.7h.6M275.7 215.5h.6M283.4 217.4h.6M276.7 208.8h.6M271.7 219.6h.6M274.7 221.3h.6M270.3 210.4h.6M276.4 209.5h.6M279.4 217.0h.6M270.8 212.6h.6M273.9 205.1h.6M280.7 219.1h.6M272.5 216.2h.6M276.0 213.4h.6M270.8 216.1h.6M272.4 212.2h.6M285.9 215.9h.6M273.0 210.9h.6M272.4 212.1h.6M272.2 217.2h.6M274.2 213.1h.6M278.3 213.5h.6M275.9 222.8h.6M285.3 219.3h.6M276.1 219.0h.6M282.2 217.8h.6M276.4 217.6h.6M278.0 221.9h.6M267.8 215.4h.6M274.7 211.3h.6M273.8 214.4h.6M279.4 214.0h.6M273.1 217.8h.6M272.8 221.9h.6M273.7 212.6h.6M273.9 215.5h.6M277.0 213.9h.6M268.6 212.3h.6M270.3 210.3h.6M276.5 215.8h.6M275.7 207.9h.6M273.1 216.0h.6M272.1 215.6h.6M270.8 212.6h.6M274.7 211.1h.6M280.9 209.4h.6M282.6 209.6h.6M279.2 222.4h.6M272.7 218.1h.6M278.9 213.9h.6M267.7 210.4h.6M268.6 223.1h.6M273.0 211.4h.6M273.4 214.2h.6M272.4 220.1h.6M275.5 217.0h.6M277.5 213.0h.6M267.9 217.9h.6M271.7 210.0h.6M269.2 212.3h.6M268.1 205.8h.6M270.0 214.9h.6M274.9 214.9h.6M277.8 214.0h.6M270.0 215.4h.6M271.0 218.1h.6M270.4 222.5h.6M277.2 215.2h.6M281.2 217.8h.6M272.6 214.2h.6M271.1 215.8h.6M276.7 215.6h.6M280.2 211.5h.6M276.7 220.8h.6M280.3 209.4h.6M275.7 220.7h.6M281.1 219.7h.6M281.2 215.1h.6M274.5 212.1h.6M282.2 214.5h.6M275.8 217.6h.6M275.4 218.8h.6M270.4 216.8h.6M273.6 219.9h.6M278.9 213.0h.6M268.4 216.5h.6M278.2 208.6h.6M276.7 218.9h.6M276.4 216.2h.6M274.5 220.6h.6M278.2 218.5h.6M271.2 203.1h.6M275.5 215.7h.6M278.4 220.2h.6M279.4 213.2h.6M278.5 214.4h.6M273.8 217.0h.6M279.0 218.3h.6M270.4 221.2h.6M271.9 211.2h.6M286.2 222.4h.6M270.9 211.4h.6M271.5 216.7h.6M273.6 220.6h.6M269.9 218.6h.6M281.0 211.4h.6M283.6 212.4h.6M271.5 213.5h.6M280.9 220.5h.6M280.5 209.8h.6M279.1 217.6h.6M280.8 218.2h.6M270.7 218.0h.6M274.2 217.6h.6M268.1 222.2h.6M267.9 217.6h.6M279.9 219.3h.6M271.6 218.0h.6M286.4 223.4h.6M275.4 207.1h.6M271.8 221.1h.6M279.0 214.4h.6M284.0 214.3h.6M277.4 211.2h.6M268.9 207.3h.6M276.9 213.8h.6M281.9 212.5h.6M272.5 217.7h.6M271.1 209.0h.6M280.1 221.8h.6M275.7 216.7h.6M269.5 214.4h.6M273.1 212.4h.6M271.2 212.0h.6M276.5 210.5h.6M275.5 213.1h.6M280.8 215.5h.6M278.5 214.7h.6M267.2 209.3h.6M277.0 214.3h.6M279.5 211.6h.6M277.3 216.2h.6M272.3 218.3h.6M270.2 214.1h.6M279.7 208.4h.6M269.7 209.3h.6M280.1 218.7h.6M271.4 212.1h.6M273.5 215.8h.6M268.0 212.8h.6M268.4 215.9h.6M269.2 221.7h.6M273.2 212.5h.6M276.8 214.0h.6M278.8 219.3h.6M269.1 211.0h.6M269.7 210.5h.6M278.4 209.4h.6M274.6 209.3h.6M267.3 217.6h.6M270.7 211.1h.6M276.2 219.7h.6M276.0 216.6h.6M282.1 210.7h.6M272.7 214.3h.6M280.0 214.5h.6M271.3 212.5h.6M271.2 207.1h.6M273.2 217.2h.6M284.5 217.0h.6M276.6 212.9h.6M275.5 216.2h.6M286.2 219.4h.6M276.8 216.2h.6M270.9 217.3h.6M278.7 218.5h.6M269.1 206.6h.6M280.6 222.0h.6M272.1 219.8h.6M271.9 220.0h.6M275.9 209.3h.6M275.1 215.0h.6M270.1 211.9h.6M277.8 212.9h.6M272.8 212.0h.6M273.0 214.9h.6M273.6 207.1h.6M276.5 214.8h.6M268.9 215.9h.6M277.9 212.4h.6M274.1 212.3h.6M268.2 210.2h.6M269.1 210.9h.6M276.8 211.9h.6M270.2 220.8h.6M280.3 217.0h.6M280.2 212.3h.6M282.8 213.6h.6M273.5 220.2h.6M269.6 211.5h.6M280.1 221.9h.6M276.5 221.7h.6M280.6 215.8h.6M275.1 218.3h.6M281.0 218.8h.6M279.2 222.3h.6M278.6 210.9h.6M277.5 220.7h.6M277.0 213.8h.6M276.2 212.1h.6M276.1 216.0h.6M280.0 214.6h.6M272.4 211.2h.6M283.7 208.5h.6M274.5 211.4h.6M279.9 221.9h.6M273.8 218.4h.6M285.2 220.7h.6M273.5 213.2h.6M268.6 215.2h.6M271.4 216.7h.6M273.4 210.7h.6M285.8 211.1h.6M276.0 215.9h.6M279.7 214.1h.6M270.0 210.8h.6M276.8 217.2h.6M278.4 214.3h.6M284.0 220.0h.6M271.5 215.5h.6M278.0 214.2h.6M276.5 216.1h.6M269.9 214.7h.6M274.9 212.6h.6M273.7 213.7h.6M278.0 218.3h.6M277.7 221.2h.6M272.8 208.1h.6M268.3 213.8h.6M282.4 213.7h.6M276.3 216.3h.6M280.1 213.5h.6M282.1 213.2h.6M272.4 218.9h.6M279.1 216.3h.6M273.8 210.4h.6M274.7 221.4h.6M274.6 219.9h.6M275.0 213.0h.6M293.3 195.1h.6M292.7 193.7h.6M298.3 188.4h.6M298.8 185.4h.6M293.5 199.7h.6M295.9 191.3h.6M298.7 194.3h.6M294.8 194.0h.6M294.4 193.5h.6M297.3 196.9h.6M300.1 190.2h.6M296.6 193.6h.6M292.3 193.3h.6M295.8 190.3h.6M297.5 192.6h.6M295.7 194.1h.6M298.4 195.7h.6M295.1 187.6h.6M297.1 194.3h.6M293.7 195.9h.6M296.2 200.5h.6M294.3 197.4h.6M295.3 201.1h.6M294.0 195.1h.6M292.8 193.9h.6M289.8 203.9h.6M293.9 195.5h.6M294.1 192.5h.6M297.5 196.1h.6M296.1 200.9h.6M297.5 190.8h.6M292.0 198.2h.6M292.9 201.1h.6M292.1 200.1h.6M297.7 197.0h.6M297.1 192.0h.6M297.7 191.4h.6M294.6 194.8h.6M289.4 199.7h.6M292.5 198.2h.6M291.5 199.0h.6M295.4 197.0h.6M292.5 203.6h.6M293.7 195.0h.6M295.3 193.0h.6M297.7 197.7h.6M293.9 193.4h.6M291.8 199.3h.6M292.3 202.0h.6M292.7 198.2h.6M296.0 190.8h.6M297.6 192.0h.6M297.6 199.1h.6M293.5 189.7h.6M294.5 197.4h.6M297.4 189.6h.6M295.6 193.9h.6M294.0 197.8h.6M295.6 192.4h.6M295.7 200.0h.6M272.7 190.3h.6M290.5 192.8h.6M302.7 190.2h.6M271.1 196.8h.6M292.3 215.2h.6M313.1 200.7h.6M278.3 204.0h.6M272.7 182.1h.6" stroke="#666" stroke-width=".6" fill="none"/>
<path d="M297.3 197.5h.6M292.9 211.7h.6M301.4 195.7h.6M293.3 206.7h.6M294.8 212.9h.6M288.9 207.1h.6M286.8 210.4h.6M297.9 203.9h.6M298.0 204.1h.6M294.7 204.6h.6M292.3 209.8h.6M291.1 203.1h.6M293.1 223.2h.6M295.6 202.8h.6M297.3 194.5h.6M294.8 202.3h.6M295.3 208.9h.6M294.1 206.6h.6M295.0 206.3h.6M288.0 208.6h.6M293.1 210.3h.6M297.5 214.8h.6M294.3 193.2h.6M292.6 204.5h.6M298.1 196.5h.6M295.3 207.6h.6M295.1 204.4h.6M287.6 204.7h.6M295.7 200.7h.6M291.4 195.9h.6M291.0 201.6h.6M293.0 211.1h.6M290.2 211.4h.6M299.6 189.9h.6M302.0 209.7h.6M294.7 207.8h.6M298.8 191.7h.6M292.9 193.8h.6M292.3 199.1h.6M288.7 207.3h.6M297.1 182.5h.6M290.6 200.0h.6M292.3 198.9h.6M291.9 205.9h.6M286.4 216.6h.6M285.3 215.6h.6M289.8 199.6h.6M295.4 201.3h.6M292.6 206.8h.6M293.3 216.1h.6M292.7 218.6h.6M291.1 207.2h.6M291.5 218.4h.6M290.8 195.1h.6M302.9 195.8h.6M303.7 179.5h.6M294.5 196.3h.6M287.9 209.0h.6M292.0 212.8h.6M289.1 209.3h.6M294.9 206.7h.6M295.6 195.7h.6M293.0 198.5h.6M297.4 199.9h.6M290.3 201.7h.6M295.5 198.7h.6M295.0 190.8h.6M287.8 213.6h.6M293.3 209.1h.6M286.5 216.4h.6M302.9 191.2h.6M294.4 192.1h.6M301.0 199.2h.6M286.7 214.6h.6M295.3 203.4h.6M288.7 205.7h.6M289.1 202.6h.6M293.0 206.4h.6M296.4 200.3h.6M288.1 207.1h.6M298.8 197.6h.6M291.1 201.6h.6M292.7 207.3h.6M293.9 205.8h.6M293.8 209.0h.6M289.4 195.5h.6M297.3 208.3h.6M295.5 202.3h.6M290.7 207.7h.6M286.2 217.3h.6M290.0 194.8h.6M286.2 213.1h.6M296.4 198.7h.6M293.0 200.4h.6M285.4 218.8h.6M289.0 212.7h.6M296.6 210.5h.6M290.0 211.8h.6M288.3 214.9h.6M299.0 198.8h.6M293.8 207.1h.6M294.1 201.0h.6M290.1 207.9h.6M289.0 200.4h.6M287.5 210.4h.6M291.4 204.3h.6M293.8 199.0h.6M294.2 204.4h.6M293.6 209.2h.6M291.0 214.7h.6M294.1 203.1h.6M290.7 200.5h.6M285.7 205.1h.6M289.5 211.1h.6M291.4 198.7h.6M297.1 181.2h.6M291.4 207.0h.6M290.0 200.4h.6M290.5 200.1h.6M293.7 203.5h.6M289.2 210.4h.6M297.9 192.2h.6M291.7 206.6h.6M287.9 210.8h.6M292.6 206.5h.6M299.2 204.5h.6M289.5 209.1h.6M296.5 205.9h.6M293.9 218.1h.6M297.1 207.8h.6M292.4 196.7h.6M304.1 188.1h.6M295.1 198.1h.6M292.9 201.8h.6M295.2 193.4h.6M297.4 195.6h.6M297.2 189.3h.6M295.1 194.4h.6M296.7 206.6h.6M291.4 201.5h.6M290.2 202.0h.6M296.2 202.4h.6M295.7 203.2h.6M294.5 212.6h.6M284.5 222.9h.6M294.7 211.6h.6M289.5 223.5h.6M298.6 205.3h.6M289.2 203.4h.6M289.6 220.1h.6M293.8 198.0h.6M290.2 195.2h.6M291.0 203.0h.6M300.6 190.1h.6M296.2 186.9h.6M287.8 215.0h.6M298.2 195.7h.6M297.1 201.3h.6M297.1 201.5h.6M292.9 195.3h.6M291.1 211.1h.6M294.7 210.8h.6M288.9 211.5h.6M288.8 210.8h.6M295.3 206.1h.6M294.3 219.1h.6M286.9 213.1h.6M286.4 197.0h.6M288.3 203.9h.6M290.8 200.1h.6M287.9 221.7h.6M293.0 212.2h.6M291.2 209.5h.6M290.9 203.6h.6M292.0 210.0h.6M292.3 195.1h.6M292.7 205.0h.6M291.1 203.8h.6M301.3 206.6h.6M297.3 198.7h.6M289.3 208.1h.6M292.7 193.4h.6M292.8 199.9h.6M288.3 201.7h.6M290.8 203.5h.6M292.0 199.1h.6M298.2 195.9h.6M294.0 195.5h.6M291.5 200.4h.6M291.0 195.3h.6M289.7 202.4h.6M295.9 193.0h.6M292.3 204.6h.6M294.3 191.7h.6M296.5 204.4h.6M290.9 215.5h.6M292.5 206.3h.6M284.6 210.9h.6M294.2 184.2h.6M296.5 200.5h.6M293.5 220.1h.6M295.0 199.7h.6M294.4 208.8h.6M296.5 186.6h.6M289.3 213.9h.6M296.2 204.7h.6M293.2 208.0h.6M291.3 208.1h.6M295.8 201.0h.6M298.1 189.4h.6M285.7 221.3h.6M301.2 195.2h.6M292.4 209.9h.6M298.8 183.0h.6M298.6 201.7h.6M295.7 207.1h.6M295.4 194.3h.6M296.0 200.1h.6M288.2 209.1h.6M292.8 197.5h.6M284.8 207.3h.6M292.4 221.9h.6M292.1 184.3h.6M294.2 208.3h.6M288.9 209.4h.6M290.8 200.6h.6M288.6 218.7h.6M290.5 217.1h.6M293.7 209.6h.6M297.2 210.7h.6M294.3 204.1h.6M298.5 194.9h.6M290.0 208.4h.6M296.4 200.6h.6M295.0 199.1h.6M288.9 214.1h.6M293.3 202.3h.6M290.5 213.1h.6M296.2 194.9h.6M295.4 200.7h.6M291.5 203.9h.6M287.4 216.2h.6M295.6 204.1h.6M285.9 210.1h.6M292.8 197.5h.6M297.5 206.9h.6M282.6 209.7h.6M293.1 195.4h.6M296.9 198.4h.6M286.4 208.6h.6M303.9 196.0h.6M284.3 205.1h.6M296.7 208.5h.6M298.1 204.7h.6M294.0 212.2h.6M291.2 208.4h.6M293.7 206.3h.6M294.0 189.7h.6M299.2 191.4h.6M288.9 205.9h.6M296.1 189.5h.6M296.0 205.7h.6M290.5 200.1h.6M294.0 196.1h.6M294.2 202.0h.6M294.8 181.2h.6M297.2 203.2h.6M291.1 215.8h.6M291.5 191.3h.6M291.8 208.2h.6M289.9 206.7h.6M295.7 195.4h.6M292.8 196.4h.6M297.9 198.0h.6M293.2 194.9h.6M300.2 189.8h.6M292.8 204.9h.6M298.0 196.6h.6M289.5 210.9h.6M290.6 207.3h.6M292.0 193.8h.6M295.7 201.4h.6M292.6 217.5h.6M300.4 202.9h.6M296.5 207.2h.6M291.8 212.2h.6M293.4 200.3h.6M293.2 208.5h.6M289.1 218.9h.6M294.8 215.9h.6M300.3 189.0h.6M286.7 217.7h.6M291.4 201.9h.6M298.7 200.0h.6M295.5 198.9h.6M289.3 215.6h.6M295.9 208.4h.6M292.1 202.9h.6M294.1 196.9h.6M290.0 210.0h.6M284.1 213.6h.6M298.1 196.0h.6M292.0 193.4h.6M292.2 200.6h.6M289.2 209.5h.6M296.2 201.4h.6M293.1 203.4h.6M295.1 196.8h.6M284.7 214.6h.6M293.0 203.4h.6M288.0 204.7h.6M291.2 214.9h.6M294.7 202.8h.6M293.0 204.2h.6M298.3 210.0h.6M295.6 201.3h.6M291.4 218.0h.6M293.3 205.1h.6M293.5 200.4h.6M296.7 202.7h.6M299.1 195.5h.6M286.0 214.4h.6M292.6 219.2h.6M295.2 202.7h.6M297.1 201.1h.6M299.7 185.4h.6M290.7 197.8h.6M287.2 211.5h.6M300.6 198.6h.6M291.7 212.5h.6M285.0 217.0h.6M300.5 180.8h.6M292.7 201.2h.6" stroke="#888" stroke-width=".6" fill="none"/>
<path d="M282.8 219.1h.6M288.1 222.2h.6M289.4 220.0h.6M294.8 214.7h.6M287.5 213.9h.6M294.3 216.4h.6M290.2 213.4h.6M292.6 212.9h.6M283.2 220.2h.6M290.5 215.6h.6M289.0 217.1h.6M290.8 219.1h.6M290.2 216.4h.6M288.0 214.3h.6M292.3 215.9h.6M290.7 219.8h.6M291.3 216.5h.6M294.5 208.3h.6M291.9 218.7h.6M288.9 220.2h.6M287.9 212.8h.6M288.1 211.7h.6M293.8 213.7h.6M291.0 218.7h.6M291.6 211.2h.6M288.9 216.9h.6M289.5 218.4h.6M290.0 216.6h.6M289.7 214.7h.6M289.7 211.7h.6M295.7 213.6h.6M291.0 214.7h.6M290.1 211.0h.6M287.8 213.5h.6M289.8 211.1h.6M290.8 219.7h.6M290.7 220.3h.6M290.7 211.8h.6M289.4 219.2h.6M289.6 215.3h.6M288.1 214.2h.6M292.8 216.9h.6M290.9 216.2h.6M297.0 211.2h.6M286.6 222.6h.6M291.0 211.4h.6M294.5 207.2h.6M290.0 214.3h.6M287.5 213.8h.6M289.1 211.5h.6M292.4 208.4h.6M290.2 218.7h.6M290.4 214.1h.6M292.5 215.7h.6M293.1 213.2h.6M291.3 214.1h.6M291.2 212.3h.6M289.6 215.8h.6M291.7 214.6h.6M291.8 217.3h.6M290.0 216.8h.6M291.3 215.2h.6M289.7 214.8h.6M286.4 217.7h.6M289.8 208.6h.6M292.0 215.4h.6M290.2 219.4h.6M294.9 211.7h.6M289.9 217.1h.6M292.8 213.3h.6M293.3 215.3h.6M292.8 214.2h.6M289.4 213.6h.6M289.6 216.3h.6M290.8 214.4h.6M290.2 207.1h.6M289.5 222.3h.6M292.7 214.9h.6M289.9 212.8h.6M293.7 219.2h.6M288.6 219.0h.6M292.0 207.1h.6M289.7 215.6h.6M290.9 207.1h.6M291.9 212.9h.6M290.6 214.3h.6M294.5 213.8h.6M292.4 212.7h.6M292.7 210.8h.6M290.4 212.9h.6M287.6 213.2h.6M290.5 213.9h.6M289.9 209.4h.6M293.3 212.3h.6M289.5 217.9h.6M293.5 217.6h.6M292.4 213.8h.6M291.7 217.1h.6M290.6 215.9h.6M290.1 217.9h.6M291.7 215.8h.6M292.8 213.6h.6M289.9 210.7h.6M291.6 214.7h.6M297.9 209.0h.6M290.2 214.7h.6M292.8 203.6h.6M289.9 210.7h.6M287.9 212.0h.6M292.6 216.9h.6" stroke="#555" stroke-width=".6" fill="none"/>
<path d="M280.4 216.3h.6M282.1 212.7h.6M273.4 211.4h.6M275.8 220.8h.6M275.7 211.9h.6M268.6 212.8h.6M275.9 211.8h.6M275.6 219.7h.6M281.7 208.5h.6M270.1 212.7h.6M281.5 214.4h.6M271.6 211.5h.6M276.2 221.7h.6M279.0 213.2h.6M269.5 214.4h.6M283.1 215.2h.6M283.3 221.5h.6M283.5 210.8h.6M277.9 223.6h.6M278.4 211.7h.6M282.0 210.0h.6M270.4 220.8h.6M269.1 212.5h.6M280.8 211.0h.6M271.4 208.4h.6M268.1 217.7h.6M268.6 223.4h.6M278.0 222.4h.6M276.1 217.3h.6M279.7 214.7h.6M282.0 219.0h.6M282.9 219.2h.6M280.1 219.3h.6M273.5 209.2h.6M271.2 211.4h.6M282.5 208.2h.6M274.1 223.3h.6M278.9 217.6h.6M278.7 209.7h.6M278.8 209.2h.6M277.6 214.8h.6M275.6 213.8h.6M280.0 210.4h.6M273.7 208.6h.6M271.5 218.3h.6M282.5 220.9h.6M281.4 208.1h.6M279.2 212.4h.6M269.9 212.3h.6M267.8 216.5h.6M282.7 217.6h.6M283.0 214.2h.6M271.6 222.2h.6M277.7 213.8h.6M267.3 212.3h.6M273.7 220.4h.6M279.0 221.7h.6M273.1 222.4h.6M280.7 210.0h.6M282.5 210.4h.6M269.3 215.1h.6M273.4 217.9h.6M270.0 217.9h.6M272.9 212.7h.6M282.2 210.2h.6M280.0 216.8h.6M268.0 221.2h.6M283.9 221.2h.6M276.5 213.8h.6M277.4 211.7h.6M281.1 216.7h.6M276.5 211.9h.6M277.1 209.4h.6M271.2 221.1h.6M280.2 221.8h.6M270.6 217.0h.6M269.3 213.7h.6M277.2 218.5h.6M272.0 217.1h.6M272.1 220.8h.6M269.5 222.4h.6M277.3 220.2h.6M280.1 215.5h.6M269.1 210.1h.6M276.1 219.2h.6M276.2 221.6h.6M276.0 209.7h.6M271.6 209.0h.6M270.4 218.1h.6M283.8 221.5h.6M268.5 208.3h.6M272.8 217.7h.6M277.5 211.7h.6M267.3 213.3h.6M281.7 208.4h.6M271.1 220.7h.6M274.0 212.3h.6M282.4 214.3h.6M283.5 209.3h.6M282.6 212.8h.6M274.0 209.3h.6M279.7 211.5h.6M281.4 217.1h.6M270.4 212.2h.6M283.5 218.7h.6M268.7 222.8h.6M278.2 217.1h.6M271.1 207.5h.6M269.3 210.5h.6M283.0 213.1h.6M269.2 216.2h.6M282.5 217.8h.6M269.8 213.0h.6M272.6 214.7h.6M270.6 218.0h.6M283.8 215.0h.6M268.6 212.0h.6M281.6 214.2h.6M272.1 213.7h.6M283.2 212.1h.6M279.8 217.5h.6M271.5 216.0h.6M275.7 214.2h.6M269.7 219.4h.6M273.9 221.2h.6M267.4 218.4h.6M278.6 213.0h.6M277.1 223.4h.6M271.6 208.8h.6M267.2 221.1h.6M283.0 214.4h.6M269.1 213.9h.6M272.6 221.8h.6M267.4 218.5h.6M273.8 222.4h.6" stroke="#999" stroke-width=".6" fill="none"/>
</g>
<line x1="284.5" y1="176.1" x2="284.5" y2="224.8" stroke="#777" stroke-width="0.8"/>
<line x1="266.3" y1="205.7" x2="315.4" y2="205.7" stroke="#777" stroke-width="0.8"/>
<rect x="266.3" y="176.1" width="49.1" height="48.7" fill="none" stroke="#888" stroke-width="0.9"/>
<text x="301.9" y="182.1" font-size="6" stroke="#000" textLength="12.8" lengthAdjust="spacingAndGlyphs" font-weight="bold" style="stroke-width:0">6.1%</text>
<text x="301.9" y="223.6" font-size="6" stroke="#000" textLength="12.8" lengthAdjust="spacingAndGlyphs" font-weight="bold" style="stroke-width:0">9.3%</text>
<rect x="318.3" y="176.1" width="49.1" height="48.6" fill="#fff"/>
<g filter="url(#bl)">
<path d="M330.0 219.4h.6M330.7 213.1h.6M323.3 218.1h.6M324.0 216.6h.6M330.5 219.1h.6M326.7 220.0h.6M326.5 214.8h.6M328.3 211.5h.6M323.5 217.0h.6M329.6 221.1h.6M327.4 217.9h.6M328.7 216.5h.6M325.3 223.0h.6M328.8 212.7h.6M325.2 218.5h.6M330.2 214.1h.6M330.7 215.9h.6M330.0 216.1h.6M328.8 220.3h.6M329.2 213.0h.6M319.2 214.2h.6M329.8 211.0h.6M326.5 217.3h.6M327.6 214.4h.6M326.4 217.1h.6M323.1 212.6h.6M325.7 214.7h.6M329.3 218.9h.6M331.6 215.3h.6M325.4 217.7h.6M324.6 217.4h.6M331.7 214.7h.6M324.7 211.1h.6M333.5 218.8h.6M327.5 216.3h.6M324.6 218.7h.6M330.3 209.8h.6M332.4 210.8h.6M323.0 209.4h.6M332.0 213.2h.6M326.5 218.9h.6M331.8 217.5h.6M326.2 215.7h.6M322.6 216.2h.6M328.8 218.1h.6M330.1 214.9h.6M333.6 217.0h.6M332.5 216.2h.6M329.4 209.2h.6M326.6 214.6h.6M325.7 219.9h.6M326.4 214.6h.6M324.8 215.4h.6M326.5 214.0h.6M319.7 214.3h.6M327.8 219.2h.6M327.2 215.0h.6M335.0 212.7h.6M329.6 206.5h.6M325.9 214.1h.6M329.0 209.9h.6M323.6 210.3h.6M325.5 218.2h.6M321.7 217.9h.6M331.6 210.0h.6M329.1 218.4h.6M323.8 217.2h.6M327.1 213.4h.6M330.1 218.0h.6M328.8 210.9h.6M328.4 212.2h.6M324.7 211.5h.6M325.4 212.5h.6M327.6 218.4h.6M330.1 211.8h.6M324.8 212.3h.6M323.9 212.9h.6M330.7 216.4h.6M324.5 214.8h.6M330.5 218.4h.6M328.0 213.7h.6M329.9 211.9h.6M332.5 214.3h.6M329.4 215.9h.6M329.6 213.0h.6M324.5 216.6h.6M325.2 221.2h.6M329.2 214.0h.6M331.9 215.9h.6M331.5 219.8h.6M334.2 213.8h.6M328.2 213.2h.6M327.9 212.5h.6M330.3 217.0h.6M327.4 217.3h.6M327.1 215.3h.6M324.2 215.9h.6M330.3 219.6h.6M324.1 218.3h.6M328.8 211.5h.6M323.0 215.7h.6M330.6 216.1h.6M324.2 217.9h.6M329.8 215.1h.6M322.5 213.8h.6M326.0 214.4h.6M330.8 210.4h.6M324.9 215.6h.6M327.5 213.9h.6M325.9 217.1h.6M320.4 212.6h.6M328.2 214.4h.6M328.6 212.8h.6M324.0 212.5h.6M329.0 217.8h.6M324.9 214.3h.6M324.3 217.0h.6M327.3 212.3h.6M325.3 216.0h.6M334.2 210.6h.6M322.6 214.3h.6M329.5 214.2h.6M330.3 217.4h.6M321.4 216.2h.6M322.1 215.2h.6M329.0 218.2h.6M325.9 216.2h.6M328.5 217.3h.6M330.7 218.0h.6M326.2 215.5h.6M324.1 214.8h.6M319.1 216.7h.6M327.9 214.4h.6M324.5 216.8h.6M328.2 219.0h.6M328.0 218.2h.6M323.1 214.5h.6M332.5 211.8h.6M330.5 215.5h.6M329.8 215.3h.6M323.7 219.0h.6M326.1 214.5h.6M325.7 215.0h.6M326.1 217.9h.6M323.9 214.2h.6M328.6 215.2h.6M328.0 220.8h.6M328.4 220.1h.6M325.8 217.5h.6M331.2 216.5h.6M327.9 212.8h.6M325.4 215.8h.6M327.1 216.3h.6M330.2 214.1h.6M326.4 215.6h.6M326.5 215.1h.6M325.3 216.6h.6M329.3 219.9h.6M326.0 216.7h.6M325.5 210.7h.6M325.1 212.8h.6M329.0 210.9h.6M325.7 213.3h.6M322.3 217.3h.6M329.2 216.9h.6M325.2 213.9h.6M328.4 216.5h.6M328.4 213.4h.6M330.9 211.4h.6M330.4 211.4h.6M325.6 213.1h.6M326.8 219.9h.6M323.4 211.6h.6M332.3 219.4h.6M328.6 219.6h.6M331.5 215.1h.6M326.3 215.5h.6M321.2 213.8h.6M331.9 215.6h.6M327.6 217.6h.6M327.7 215.7h.6M327.5 218.6h.6M329.2 219.2h.6M328.9 216.7h.6M322.5 216.6h.6M330.6 215.5h.6M325.7 216.7h.6M325.9 212.3h.6M332.5 216.9h.6M330.1 216.3h.6M326.3 213.1h.6M321.7 222.1h.6M327.8 212.7h.6M328.9 213.0h.6M327.1 216.5h.6M323.6 209.8h.6M324.9 213.3h.6M323.5 211.1h.6M327.9 212.7h.6M329.8 215.2h.6M330.4 216.6h.6M325.1 218.9h.6M328.0 218.1h.6M329.0 219.2h.6M325.8 217.4h.6M326.9 214.2h.6M333.7 219.0h.6M327.9 214.2h.6M329.9 213.8h.6M326.0 220.2h.6M327.4 218.0h.6M322.2 216.3h.6M327.2 217.9h.6M330.9 218.3h.6M333.6 211.6h.6M330.9 215.4h.6M329.4 212.1h.6M327.5 216.0h.6M325.5 213.6h.6M326.8 219.7h.6M329.1 217.2h.6M324.9 213.2h.6M330.1 215.6h.6M324.3 212.0h.6M322.0 215.8h.6M324.3 217.3h.6M322.3 216.4h.6M323.2 209.8h.6M330.7 214.6h.6M326.7 217.2h.6M328.0 216.5h.6M330.8 219.1h.6M331.1 211.8h.6M325.8 217.2h.6M331.3 213.7h.6M328.5 216.2h.6M327.3 216.8h.6M328.6 217.7h.6M323.0 213.9h.6M324.9 216.2h.6M327.0 212.1h.6M329.1 211.4h.6M326.2 217.3h.6M326.9 215.5h.6M330.2 210.8h.6M331.5 213.1h.6M329.6 215.7h.6M331.1 220.3h.6M326.1 218.8h.6M326.4 218.0h.6M328.3 210.3h.6M326.4 215.3h.6M325.8 217.1h.6M332.3 216.8h.6M326.7 216.9h.6M324.4 214.9h.6M328.8 220.9h.6M332.8 220.1h.6M327.5 215.3h.6M331.0 212.7h.6M326.0 221.8h.6M325.8 214.0h.6M325.2 219.2h.6M326.9 221.4h.6M332.8 212.8h.6M323.8 216.5h.6M332.2 214.6h.6M324.3 217.2h.6M326.6 216.6h.6M329.8 221.5h.6M329.2 217.4h.6M328.1 215.6h.6M322.4 219.0h.6M328.4 214.8h.6M324.2 214.5h.6M335.0 222.3h.6M326.7 213.2h.6M327.9 214.2h.6M323.9 215.8h.6M325.9 212.5h.6M323.4 209.3h.6M330.2 218.8h.6M326.5 213.3h.6M329.0 214.0h.6M325.2 214.5h.6M325.8 212.7h.6M331.2 212.4h.6M324.4 216.1h.6M321.9 222.8h.6M328.5 217.8h.6M323.9 217.9h.6M326.0 211.1h.6M330.0 215.6h.6M324.8 212.1h.6M329.9 217.9h.6M325.3 214.9h.6M331.8 215.7h.6M331.3 215.4h.6M325.9 213.9h.6M326.7 211.1h.6M324.8 217.4h.6M327.9 211.5h.6M330.7 212.1h.6M323.0 214.7h.6M330.1 213.5h.6M323.3 216.4h.6M324.7 218.7h.6M321.9 216.4h.6M333.6 216.2h.6M327.5 215.7h.6M328.0 218.2h.6M325.3 210.1h.6M330.5 216.7h.6M321.0 212.8h.6M327.4 211.9h.6M333.9 215.6h.6M326.2 214.5h.6M327.4 217.4h.6M329.3 218.9h.6M324.9 208.6h.6M327.4 215.4h.6M330.2 221.5h.6M327.9 218.2h.6M328.4 220.0h.6M326.3 215.9h.6M328.2 211.3h.6M327.5 212.2h.6M331.7 217.8h.6M329.5 218.5h.6M326.6 213.4h.6M320.0 214.8h.6M329.4 216.4h.6M329.6 210.4h.6M324.5 214.6h.6M321.3 220.5h.6M323.9 222.2h.6M330.1 215.3h.6M324.1 221.1h.6M325.9 214.0h.6M328.0 213.2h.6M331.0 208.9h.6M327.2 218.5h.6M327.0 214.5h.6M325.7 222.6h.6M332.2 216.6h.6M330.5 216.2h.6M327.0 210.2h.6M323.1 220.1h.6M324.9 214.5h.6M329.0 215.1h.6M325.1 209.0h.6M330.0 218.4h.6M328.4 218.6h.6M328.2 213.8h.6M329.3 215.9h.6M328.8 216.8h.6M324.7 218.5h.6M326.3 215.9h.6M334.3 220.8h.6M323.7 214.9h.6M325.9 213.8h.6M330.5 214.2h.6M326.8 208.0h.6M324.9 213.2h.6M323.3 218.7h.6M328.9 216.4h.6M330.4 213.2h.6M331.5 216.7h.6M327.5 209.6h.6M330.4 214.8h.6M324.2 217.2h.6M327.8 217.7h.6M325.3 213.3h.6M327.8 218.4h.6M329.6 221.2h.6M330.5 214.4h.6M324.3 217.9h.6M331.1 211.0h.6M325.9 209.8h.6M324.2 217.5h.6M326.8 215.8h.6M322.9 216.2h.6M327.3 213.9h.6M328.2 214.8h.6M326.7 218.1h.6M328.9 220.8h.6M326.4 215.0h.6M327.3 210.7h.6M323.0 219.5h.6M327.4 217.5h.6M324.7 217.7h.6M326.0 216.2h.6M327.0 222.6h.6M327.9 215.9h.6M322.4 217.2h.6M322.6 210.1h.6M326.4 213.9h.6M328.7 213.6h.6M328.4 215.6h.6M330.0 216.7h.6M331.2 213.4h.6M328.8 220.8h.6M327.2 212.4h.6M324.2 214.3h.6M324.5 216.4h.6M325.9 211.9h.6M328.1 217.4h.6M328.0 217.5h.6M327.3 214.8h.6M326.8 221.4h.6M329.2 215.9h.6M327.9 216.5h.6M328.2 212.8h.6M328.2 210.6h.6M325.7 213.8h.6M324.2 214.7h.6M328.8 214.3h.6M328.6 218.0h.6M326.6 208.5h.6M326.1 212.2h.6M334.1 210.2h.6M325.0 219.7h.6M326.6 214.0h.6M328.1 214.1h.6M323.8 212.3h.6M327.7 218.3h.6M332.7 214.4h.6M330.1 216.3h.6M329.2 209.5h.6M329.1 219.2h.6M327.6 216.8h.6M330.2 217.3h.6M326.8 219.4h.6M326.0 215.1h.6M327.6 215.1h.6M330.0 217.8h.6M328.3 216.9h.6M329.3 214.9h.6M321.2 215.8h.6M330.9 214.1h.6M334.3 217.8h.6M331.3 218.5h.6M326.3 215.7h.6M324.8 221.3h.6M328.1 211.0h.6M324.3 215.0h.6M329.5 220.8h.6M325.7 214.4h.6M330.2 210.8h.6M331.4 219.8h.6M321.2 217.3h.6M328.2 212.1h.6M325.2 218.0h.6M323.1 212.6h.6M325.4 211.6h.6M326.6 215.2h.6M330.4 214.2h.6M322.7 212.4h.6M330.5 214.6h.6M333.4 212.6h.6M329.1 215.8h.6M328.9 215.6h.6M327.3 217.9h.6M323.8 214.3h.6M328.9 211.7h.6M328.5 211.7h.6M329.5 214.9h.6M335.0 220.3h.6M329.5 218.2h.6M328.6 213.7h.6M332.0 218.5h.6M323.3 212.2h.6M323.9 218.7h.6M326.2 214.5h.6M325.3 218.0h.6M329.4 217.5h.6M326.3 214.8h.6M332.5 216.6h.6M331.9 212.4h.6M329.6 215.4h.6M326.1 218.9h.6M329.7 217.8h.6M324.1 215.9h.6M328.3 212.6h.6M329.4 218.8h.6M327.9 210.7h.6M332.0 213.2h.6M330.9 216.7h.6M324.8 212.0h.6M327.7 220.3h.6M324.8 218.9h.6M329.0 214.0h.6M324.7 214.0h.6M330.1 211.7h.6M328.5 211.4h.6M330.2 217.0h.6M326.9 217.5h.6M322.9 216.7h.6M332.6 216.5h.6M326.8 214.0h.6M331.4 216.7h.6M328.6 211.2h.6M329.3 215.7h.6M332.8 220.1h.6M328.3 219.6h.6M331.5 214.3h.6M322.8 214.7h.6M329.9 219.8h.6M326.6 221.0h.6M326.9 211.2h.6M327.3 214.4h.6M328.3 216.4h.6M332.3 219.3h.6M321.7 213.1h.6M327.4 217.6h.6M325.2 214.8h.6M330.8 222.8h.6M326.0 217.0h.6M328.7 215.3h.6M326.1 214.7h.6M329.3 218.8h.6M330.3 217.7h.6M326.1 212.4h.6M327.4 216.3h.6M323.0 211.6h.6M328.2 213.4h.6M329.9 211.8h.6M325.6 211.7h.6M330.7 213.6h.6M321.1 212.7h.6M321.7 217.3h.6M323.1 218.1h.6M325.8 214.9h.6M327.4 212.3h.6M327.1 218.1h.6M327.1 209.6h.6M329.5 209.8h.6M325.9 217.9h.6M323.5 217.6h.6M323.6 218.6h.6M333.6 215.0h.6M320.2 211.9h.6M326.8 214.1h.6M331.7 217.4h.6M328.8 213.4h.6M324.8 213.6h.6M327.3 211.5h.6M329.9 212.2h.6" stroke="#222" stroke-width=".6" fill="none"/>
<path d="M331.5 216.2h.6M329.4 204.3h.6M321.0 213.4h.6M321.4 212.4h.6M324.1 218.6h.6M329.9 220.4h.6M321.0 211.4h.6M320.5 205.1h.6M329.3 203.4h.6M321.0 215.3h.6M323.0 212.4h.6M331.2 211.9h.6M325.0 210.1h.6M324.2 222.8h.6M329.8 215.4h.6M332.9 214.8h.6M331.2 203.6h.6M324.1 220.2h.6M326.4 213.9h.6M326.8 214.6h.6M322.0 214.4h.6M332.1 221.8h.6M332.3 211.9h.6M328.6 218.4h.6M326.4 212.7h.6M329.9 222.2h.6M329.6 220.8h.6M333.4 216.1h.6M325.0 219.0h.6M325.9 218.7h.6M325.8 214.4h.6M336.9 220.5h.6M332.0 214.6h.6M322.3 219.0h.6M325.3 210.9h.6M323.4 216.3h.6M327.2 218.0h.6M328.2 211.7h.6M339.1 213.6h.6M332.5 219.6h.6M329.4 212.1h.6M323.4 218.1h.6M324.5 217.7h.6M327.4 207.4h.6M332.3 216.5h.6M319.2 221.2h.6M333.9 214.3h.6M325.1 221.6h.6M334.9 219.0h.6M329.2 218.0h.6M333.5 214.5h.6M330.1 213.2h.6M332.8 214.5h.6M327.4 216.2h.6M322.8 218.6h.6M330.6 218.0h.6M330.8 214.3h.6M338.1 216.2h.6M326.1 207.4h.6M332.7 211.9h.6M320.6 211.7h.6M325.9 214.8h.6M338.2 214.4h.6M334.5 214.5h.6M322.5 211.3h.6M334.6 219.4h.6M333.3 217.3h.6M331.2 207.3h.6M329.1 215.9h.6M328.4 210.0h.6M324.4 213.5h.6M331.0 213.8h.6M327.9 216.3h.6M336.8 214.8h.6M325.4 215.6h.6M325.4 217.1h.6M328.6 220.2h.6M329.1 221.7h.6M327.5 210.8h.6M334.9 219.5h.6M323.7 220.9h.6M330.9 211.4h.6M325.7 220.1h.6M320.9 218.0h.6M334.5 213.1h.6M322.7 218.8h.6M329.4 214.6h.6M325.3 216.9h.6M331.1 220.6h.6M326.6 221.8h.6M324.8 218.9h.6M338.4 222.2h.6M326.4 209.5h.6M321.5 213.4h.6M323.3 211.0h.6M330.6 216.4h.6M330.1 223.4h.6M327.2 219.3h.6M323.5 210.5h.6M330.8 214.4h.6M325.4 213.1h.6M325.9 215.4h.6M322.8 217.5h.6M328.0 206.4h.6M323.7 220.0h.6M323.0 217.7h.6M336.6 218.9h.6M331.1 210.8h.6M333.5 211.9h.6M327.5 212.8h.6M332.2 217.2h.6M331.3 216.3h.6M333.5 216.6h.6M326.1 222.7h.6M328.6 212.2h.6M327.0 212.5h.6M320.0 214.3h.6M327.3 223.1h.6M324.3 213.1h.6M333.2 214.5h.6M333.9 216.3h.6M325.1 211.4h.6M334.7 210.8h.6M336.4 213.8h.6M329.7 220.3h.6M322.2 213.6h.6M334.9 214.8h.6M326.4 213.5h.6M325.3 208.8h.6M324.5 203.7h.6M332.9 212.5h.6M331.3 218.8h.6M333.6 208.6h.6M330.3 219.0h.6M323.2 222.4h.6M326.5 211.4h.6M331.9 217.0h.6M325.2 210.1h.6M342.5 218.5h.6M326.0 216.4h.6M324.3 217.0h.6M333.3 223.0h.6M331.2 218.4h.6M327.2 222.9h.6M326.1 219.2h.6M329.5 209.7h.6M331.6 217.3h.6M331.3 218.4h.6M325.7 208.4h.6M329.5 222.8h.6M331.7 216.3h.6M331.3 217.8h.6M322.7 216.3h.6M323.3 217.5h.6M326.1 214.2h.6M328.2 216.3h.6M332.1 204.9h.6M330.5 223.0h.6M326.6 210.1h.6M327.4 204.6h.6M336.4 210.9h.6M324.1 211.6h.6M328.9 218.7h.6M335.4 211.1h.6M329.1 217.4h.6M325.3 218.7h.6M332.8 210.6h.6M329.7 219.3h.6M325.9 210.9h.6M331.9 218.9h.6M329.6 219.4h.6M327.8 207.6h.6M328.9 210.0h.6M328.6 209.8h.6M325.5 208.1h.6M324.9 212.1h.6M327.4 210.9h.6M322.3 208.4h.6M320.8 216.4h.6M334.1 218.7h.6M326.1 209.0h.6M327.2 213.0h.6M326.6 215.9h.6M327.4 214.7h.6M327.4 212.2h.6M327.6 220.1h.6M323.1 220.3h.6M332.1 219.4h.6M323.7 214.8h.6M321.8 213.8h.6M332.5 215.2h.6M326.5 222.0h.6M323.8 211.7h.6M329.3 217.9h.6M321.9 216.1h.6M351.6 198.3h.6M336.3 205.5h.6M339.9 199.5h.6M345.9 196.3h.6M338.4 201.5h.6M348.7 199.7h.6M340.6 203.0h.6M344.1 196.7h.6M337.7 193.7h.6M345.9 206.1h.6M346.6 201.2h.6M344.5 199.5h.6M343.4 200.3h.6M352.5 192.8h.6M343.1 195.3h.6M340.1 199.3h.6M348.0 196.0h.6M346.9 195.0h.6M347.3 191.6h.6M351.3 194.1h.6M341.5 202.1h.6M348.1 194.9h.6M349.2 196.4h.6M341.4 191.9h.6M345.2 197.4h.6M332.1 203.8h.6M340.3 195.7h.6M349.2 189.6h.6M337.8 203.2h.6M341.1 197.0h.6M346.4 199.5h.6M346.2 196.1h.6M352.1 197.4h.6M336.8 200.8h.6M342.4 193.6h.6M347.9 196.6h.6M338.7 200.0h.6M345.3 200.7h.6M351.5 193.5h.6M349.3 194.7h.6M348.0 200.2h.6M335.6 207.2h.6M345.1 201.2h.6M347.6 201.1h.6M343.9 200.5h.6M345.4 201.1h.6M358.4 195.4h.6M344.2 200.2h.6M340.6 200.5h.6M345.7 198.5h.6M346.8 206.7h.6M343.3 199.1h.6M343.8 197.9h.6M347.1 195.9h.6M345.4 197.9h.6M340.0 201.6h.6M342.3 195.2h.6M343.5 191.3h.6M343.0 200.3h.6M346.8 191.2h.6M348.1 197.8h.6M340.7 200.8h.6M347.5 201.5h.6M355.1 200.0h.6M351.4 196.7h.6M343.5 196.8h.6M346.4 193.1h.6M340.6 197.3h.6M338.7 201.4h.6M343.7 190.9h.6M345.6 198.3h.6M346.6 197.5h.6M345.4 200.6h.6M345.3 196.8h.6M342.6 199.8h.6M345.3 195.3h.6M347.2 195.4h.6M341.6 193.0h.6M348.0 197.3h.6M339.6 206.8h.6M341.5 200.5h.6M350.9 196.9h.6M350.2 192.0h.6M347.6 202.6h.6M342.9 196.3h.6M340.5 203.5h.6M346.1 198.1h.6M346.3 194.0h.6M340.0 204.6h.6M346.8 197.5h.6M346.8 198.1h.6M347.0 199.1h.6M339.9 200.6h.6M346.1 196.3h.6M339.1 202.8h.6M350.0 194.4h.6M345.1 198.5h.6M338.8 198.6h.6M347.8 191.2h.6M348.2 194.2h.6M341.1 198.2h.6M353.5 194.4h.6M342.2 204.2h.6M343.3 192.5h.6M349.5 196.7h.6M332.0 195.8h.6M347.0 193.3h.6M343.5 197.0h.6M341.1 191.4h.6M337.4 194.7h.6M346.1 198.4h.6M340.1 200.9h.6M340.4 200.0h.6M341.5 196.8h.6M342.7 207.7h.6M350.7 195.0h.6M337.8 198.3h.6M343.9 205.3h.6M344.1 201.1h.6M344.0 197.3h.6" stroke="#777" stroke-width=".6" fill="none"/>
<path d="M346.6 194.3h.6M347.2 193.0h.6M345.1 194.6h.6M346.8 193.6h.6M344.4 194.8h.6M352.0 193.4h.6M350.2 192.3h.6M350.0 193.3h.6M348.3 193.6h.6M349.3 192.4h.6M350.1 193.5h.6M349.6 193.3h.6M349.3 193.1h.6M346.1 193.9h.6M349.0 195.1h.6M346.8 193.9h.6M345.5 193.5h.6M345.7 193.9h.6M348.5 193.4h.6M349.6 193.1h.6M345.4 194.4h.6M350.7 192.5h.6M350.4 193.4h.6M347.1 193.7h.6M346.8 193.4h.6M347.6 193.4h.6M349.5 193.2h.6M347.2 194.4h.6M345.9 194.5h.6M348.4 193.5h.6M344.2 194.8h.6M348.1 193.8h.6M350.1 194.2h.6M348.3 193.4h.6M349.2 193.7h.6M348.8 193.9h.6M348.9 193.0h.6M348.1 193.8h.6M346.4 194.3h.6M347.3 193.7h.6M347.7 194.1h.6M350.1 193.7h.6M350.8 193.6h.6M348.5 193.5h.6M346.5 194.2h.6M346.8 195.3h.6M347.3 193.4h.6M350.2 193.3h.6M348.5 194.1h.6M347.7 193.9h.6M346.6 194.5h.6M349.4 193.5h.6M348.4 194.0h.6M347.9 194.4h.6M348.0 193.6h.6M350.8 193.1h.6M347.5 193.8h.6M350.7 192.8h.6M350.0 193.2h.6M347.7 193.2h.6M349.4 193.7h.6M347.8 194.7h.6M346.6 195.0h.6M347.5 194.5h.6M346.1 193.8h.6M348.9 194.3h.6M347.7 193.4h.6M348.8 193.5h.6M349.5 194.3h.6M342.2 194.7h.6M348.7 196.2h.6M347.4 195.6h.6M346.6 196.0h.6M345.1 195.7h.6M347.7 195.1h.6M346.1 196.6h.6M349.1 196.5h.6M349.6 197.0h.6M344.3 196.7h.6M346.0 196.3h.6M346.3 195.8h.6M344.8 197.3h.6M344.8 196.9h.6M347.1 195.9h.6M346.7 196.8h.6M343.8 197.2h.6M345.7 195.4h.6M348.1 196.6h.6M344.6 196.8h.6M345.1 196.4h.6M350.1 195.5h.6M349.8 196.9h.6M344.0 197.8h.6M344.5 197.8h.6M347.6 195.5h.6M344.6 196.3h.6M346.6 196.9h.6M346.0 195.7h.6M348.0 195.7h.6M341.8 196.1h.6M342.9 198.2h.6M344.7 197.4h.6M349.0 196.2h.6M346.7 196.5h.6M343.6 196.6h.6M347.9 195.9h.6M348.5 196.4h.6M346.4 196.0h.6M346.5 197.1h.6M347.8 195.9h.6M349.3 195.4h.6M347.4 197.0h.6M348.0 196.0h.6M347.0 196.6h.6M346.2 196.2h.6M345.0 195.3h.6M347.6 196.5h.6M346.3 195.6h.6M346.6 197.0h.6M348.7 195.1h.6M347.8 195.0h.6M348.7 196.2h.6M343.9 197.1h.6M348.1 196.2h.6M345.7 195.8h.6M345.5 197.1h.6M345.2 195.7h.6M349.3 195.6h.6M348.5 195.5h.6M345.5 196.3h.6M344.8 197.2h.6M347.0 195.9h.6M346.2 196.8h.6M350.3 196.1h.6M343.9 195.8h.6M343.3 196.2h.6M346.5 196.2h.6M347.0 195.9h.6M347.3 196.4h.6M348.3 194.9h.6M351.2 196.0h.6M346.4 196.9h.6M345.9 196.4h.6M343.4 196.1h.6M347.5 196.2h.6M348.6 195.7h.6M346.5 196.7h.6M349.3 195.8h.6M347.1 196.7h.6M349.9 195.5h.6" stroke="#000" stroke-width=".6" fill="none"/>
<path d="M349.2 211.6h.6M342.9 212.1h.6M345.9 210.8h.6M343.4 216.8h.6M335.8 212.8h.6M347.8 206.5h.6M343.0 212.4h.6M335.9 213.6h.6M337.4 206.4h.6M347.7 207.8h.6M339.8 208.1h.6M342.3 207.0h.6M345.9 211.7h.6M342.8 215.1h.6M332.8 219.5h.6M345.8 216.0h.6M347.6 215.1h.6M347.2 215.7h.6M351.7 216.7h.6M344.2 208.1h.6M346.7 213.5h.6M351.5 211.6h.6M340.3 209.4h.6M352.4 207.7h.6M352.4 207.5h.6M346.7 208.7h.6M353.0 203.8h.6M347.1 212.6h.6M336.7 209.9h.6M348.8 210.5h.6" stroke="#999" stroke-width=".6" fill="none"/>
<path d="M335.2 220.5h.6M332.9 217.5h.6M320.1 219.8h.6M329.9 216.7h.6M320.5 213.2h.6M329.6 220.8h.6M333.4 210.0h.6M330.9 213.3h.6M321.0 214.3h.6M326.2 218.9h.6M322.3 220.3h.6M330.2 216.9h.6M331.1 217.6h.6M331.5 211.9h.6M325.1 217.4h.6M329.2 221.8h.6M322.5 214.7h.6M334.8 220.2h.6M335.0 215.9h.6M319.5 216.0h.6M328.6 217.6h.6M331.2 209.4h.6M322.9 210.8h.6M319.6 210.1h.6M331.0 218.7h.6M319.2 219.4h.6M325.6 210.6h.6M332.6 212.8h.6M319.9 209.6h.6M331.0 218.4h.6M326.3 214.4h.6M325.6 211.8h.6M327.2 210.9h.6M333.7 215.4h.6M325.6 212.6h.6M321.0 210.8h.6M327.6 219.5h.6M336.0 223.0h.6M334.2 209.9h.6M320.2 222.1h.6M325.1 217.3h.6M327.0 222.8h.6M320.9 214.5h.6M322.2 223.5h.6M328.1 210.2h.6M331.3 214.8h.6M331.2 214.8h.6M330.4 211.3h.6M330.5 215.5h.6M319.1 220.2h.6M322.7 208.9h.6M324.7 215.4h.6M323.4 216.2h.6M325.6 210.4h.6M325.8 218.2h.6M324.8 211.4h.6M319.2 217.0h.6M333.7 217.0h.6M335.3 220.1h.6M329.5 223.4h.6M323.6 223.2h.6M326.7 215.8h.6M334.5 211.6h.6M329.2 211.2h.6M330.8 220.8h.6M330.9 220.3h.6M335.7 220.9h.6M330.1 221.6h.6M320.8 216.9h.6M327.6 222.7h.6M334.7 218.5h.6M321.2 218.0h.6M319.9 221.6h.6M319.9 218.4h.6M320.2 220.4h.6M321.8 223.3h.6" stroke="#aaa" stroke-width=".6" fill="none"/>
<path d="M337.5 215.8h.6M353.9 217.4h.6M333.1 204.9h.6M341.7 188.2h.6M359.6 177.9h.6M364.2 211.8h.6M363.0 211.8h.6M354.2 210.4h.6" stroke="#666" stroke-width=".6" fill="none"/>
</g>
<line x1="336" y1="176.1" x2="336" y2="224.7" stroke="#777" stroke-width="0.8"/>
<line x1="318.3" y1="205.5" x2="367.4" y2="205.5" stroke="#777" stroke-width="0.8"/>
<rect x="318.3" y="176.1" width="49.1" height="48.6" fill="none" stroke="#888" stroke-width="0.9"/>
<text x="350.7" y="182.1" font-size="6" stroke="#000" textLength="16" lengthAdjust="spacingAndGlyphs" font-weight="bold" style="stroke-width:0">11.3%</text>
<text x="353.9" y="223.5" font-size="6" stroke="#000" textLength="12.8" lengthAdjust="spacingAndGlyphs" font-weight="bold" style="stroke-width:0">3.3%</text>
<rect x="266.3" y="228.1" width="49.1" height="49" fill="#fff"/>
<g filter="url(#bl)">
<path d="M279.6 267.1h.6M277.2 262.9h.6M269.7 263.8h.6M274.5 266.7h.6M276.7 270.4h.6M283.8 265.4h.6M277.8 271.7h.6M275.8 273.1h.6M281.2 261.9h.6M275.8 265.4h.6M276.1 262.8h.6M276.9 265.1h.6M269.9 264.0h.6M280.2 265.3h.6M278.0 268.1h.6M275.0 268.1h.6M271.4 266.2h.6M277.1 265.5h.6M282.1 265.8h.6M273.5 265.8h.6M271.8 267.0h.6M278.0 265.5h.6M269.5 266.8h.6M274.4 267.7h.6M273.3 270.3h.6M275.1 266.0h.6M273.9 261.5h.6M277.6 269.2h.6M275.3 264.5h.6M273.7 257.2h.6M274.3 264.9h.6M278.9 267.1h.6M280.3 266.5h.6M280.0 268.9h.6M279.2 267.2h.6M272.0 260.0h.6M274.9 262.4h.6M277.1 266.0h.6M269.5 267.3h.6M282.2 262.6h.6M277.5 263.8h.6M273.6 266.8h.6M276.9 260.2h.6M274.8 260.1h.6M273.1 264.8h.6M278.4 266.2h.6M274.3 264.1h.6M270.3 259.1h.6M273.6 265.5h.6M275.8 261.8h.6M271.7 267.3h.6M281.6 265.2h.6M271.7 266.2h.6M283.6 267.2h.6M280.0 264.0h.6M272.3 267.8h.6M276.8 268.9h.6M281.2 266.6h.6M275.5 269.2h.6M271.3 263.7h.6M276.7 268.0h.6M284.6 266.2h.6M270.0 262.7h.6M278.6 265.2h.6M276.3 264.0h.6M275.8 263.9h.6M274.6 265.7h.6M274.9 268.4h.6M280.6 264.6h.6M278.8 265.8h.6M272.1 261.4h.6M282.8 265.8h.6M270.8 268.7h.6M279.1 267.7h.6M277.1 266.8h.6M281.3 264.0h.6M277.8 262.8h.6M280.7 265.2h.6M276.2 261.8h.6M280.4 262.0h.6M277.7 268.1h.6M285.3 262.9h.6M273.4 270.4h.6M281.3 261.5h.6M278.3 266.7h.6M277.0 262.2h.6M273.9 266.0h.6M278.2 262.6h.6M270.1 265.6h.6M270.6 265.0h.6M279.3 264.2h.6M269.8 266.9h.6M282.3 269.7h.6M275.2 263.8h.6M277.4 267.9h.6M276.6 265.7h.6M278.1 265.4h.6M275.1 271.5h.6M274.8 259.4h.6M275.8 263.6h.6M280.7 260.4h.6M281.1 264.6h.6M281.7 264.8h.6M275.5 266.4h.6M269.3 270.4h.6M279.0 269.1h.6M279.8 264.2h.6M274.6 266.8h.6M279.7 270.1h.6M281.7 265.9h.6M276.7 266.0h.6M280.8 266.9h.6M277.6 261.3h.6M269.0 263.2h.6M274.3 266.4h.6M274.6 267.0h.6M278.5 262.9h.6M272.7 264.6h.6M274.5 265.1h.6M272.3 265.0h.6M276.2 267.4h.6M276.6 265.8h.6M280.4 265.9h.6M279.7 261.5h.6M277.0 262.5h.6M277.3 266.4h.6M276.8 261.0h.6M276.8 266.2h.6M282.8 263.6h.6M275.6 267.3h.6M277.6 263.6h.6M281.1 263.1h.6M271.7 263.6h.6M277.8 265.6h.6M279.9 273.1h.6M274.5 259.6h.6M268.3 265.4h.6M274.8 264.8h.6M271.3 268.1h.6M279.1 264.4h.6M272.8 258.6h.6M283.8 269.1h.6M276.9 262.4h.6M272.9 265.3h.6M274.2 261.6h.6M271.7 262.4h.6M278.0 264.1h.6M282.6 267.8h.6M275.4 267.8h.6M280.2 263.8h.6M272.4 266.8h.6M277.6 264.4h.6M286.0 265.7h.6M270.4 265.9h.6M281.5 267.2h.6M281.3 263.7h.6M268.4 265.1h.6M270.3 266.0h.6M272.2 265.7h.6M280.4 263.2h.6M274.5 270.2h.6M275.6 264.1h.6M279.3 267.5h.6M276.8 266.0h.6M277.3 268.8h.6M275.0 259.3h.6M281.0 271.1h.6M273.1 264.8h.6M283.4 262.0h.6M274.9 265.8h.6M273.0 271.7h.6M279.0 266.8h.6M278.2 262.0h.6M268.0 264.1h.6M277.2 269.1h.6M270.6 261.5h.6M272.8 264.9h.6M279.6 264.6h.6M272.7 271.4h.6M277.8 264.6h.6M274.7 269.1h.6M284.4 263.5h.6M275.9 263.2h.6M271.4 268.2h.6M271.7 267.1h.6M272.5 260.6h.6M276.8 267.2h.6M276.3 267.2h.6M280.4 263.7h.6M277.0 266.0h.6M276.8 266.2h.6M277.6 264.1h.6M275.7 263.8h.6M277.5 263.5h.6M279.6 264.7h.6M279.6 261.7h.6M274.0 265.3h.6M268.9 261.3h.6M272.9 265.6h.6M277.5 265.2h.6M274.3 267.8h.6M278.2 270.8h.6M273.9 269.1h.6M271.6 261.6h.6M283.6 268.9h.6M282.1 266.0h.6M275.2 265.3h.6M281.8 263.8h.6M281.7 265.4h.6M271.5 269.3h.6M287.5 266.9h.6M272.3 264.3h.6M275.1 263.5h.6M271.6 264.2h.6M276.6 267.0h.6M270.7 270.6h.6M276.2 262.5h.6M280.8 265.4h.6M277.1 264.3h.6M275.1 263.3h.6M282.7 266.5h.6M272.5 266.9h.6M280.3 261.5h.6M275.0 262.5h.6M277.1 268.7h.6M276.4 266.3h.6M276.8 266.9h.6M276.0 264.0h.6M272.9 264.3h.6M273.8 266.7h.6M278.1 264.0h.6M275.8 262.3h.6M271.3 265.4h.6M273.2 267.9h.6M273.3 262.5h.6M276.0 268.3h.6M276.9 267.4h.6M276.6 263.0h.6M273.4 265.4h.6M276.3 265.3h.6M270.4 267.2h.6M275.9 261.8h.6M269.2 261.7h.6M272.2 268.3h.6M271.1 265.7h.6M278.8 266.6h.6M271.1 266.3h.6M277.3 269.7h.6M274.1 262.1h.6M270.9 268.4h.6M269.5 263.1h.6M278.1 267.4h.6M277.7 269.1h.6M279.4 261.6h.6M283.8 266.5h.6M277.3 264.6h.6M277.3 264.6h.6M275.6 265.5h.6M276.5 262.5h.6M274.6 262.7h.6M272.3 267.2h.6M284.5 267.7h.6M268.3 263.8h.6M277.1 261.4h.6M277.9 271.8h.6M276.7 268.4h.6M272.0 266.4h.6M275.3 262.6h.6M274.1 263.8h.6M271.5 266.1h.6M275.9 262.7h.6M274.3 269.8h.6M273.7 265.8h.6M278.9 266.5h.6M271.6 262.6h.6M277.9 262.9h.6M273.5 263.2h.6M277.8 266.2h.6M276.3 264.7h.6M277.0 264.6h.6M271.9 266.3h.6M272.7 266.0h.6M272.4 269.5h.6M276.7 264.9h.6M279.1 262.6h.6M280.5 265.4h.6M273.9 269.4h.6M276.3 263.9h.6M269.2 265.5h.6M272.3 266.5h.6M273.2 266.1h.6M269.5 263.2h.6M268.5 264.8h.6M278.2 268.0h.6M272.6 268.4h.6M268.9 267.9h.6M285.7 267.8h.6M276.7 264.5h.6M274.6 264.4h.6M278.8 268.0h.6M272.8 262.2h.6M282.6 265.2h.6M269.5 260.3h.6M270.4 264.4h.6M275.3 263.5h.6M272.7 262.1h.6M281.8 267.0h.6M269.2 263.4h.6M272.8 264.4h.6M276.9 264.7h.6M278.3 263.4h.6M280.1 269.3h.6M277.3 264.0h.6M285.1 265.9h.6M273.9 261.8h.6M276.6 264.1h.6M279.5 264.5h.6M274.5 264.6h.6M274.6 263.8h.6M273.9 265.8h.6M273.2 269.7h.6M271.1 265.0h.6M273.5 265.0h.6M269.4 264.3h.6M277.4 272.4h.6M269.2 269.8h.6M284.5 266.9h.6M283.0 267.3h.6M280.5 263.5h.6M274.9 265.0h.6M273.4 266.0h.6M280.9 265.7h.6M276.6 263.1h.6M278.2 263.3h.6M272.8 266.8h.6M280.3 266.3h.6M272.5 259.6h.6M276.3 265.7h.6M268.6 268.9h.6M273.1 263.6h.6M277.9 266.1h.6M273.9 261.4h.6M273.9 267.7h.6M279.1 262.4h.6M275.5 262.0h.6M281.0 264.5h.6M278.2 263.7h.6M277.9 261.9h.6M269.3 266.7h.6M270.4 266.0h.6M279.5 270.0h.6M271.3 261.9h.6M273.1 261.0h.6M278.3 264.5h.6M274.4 266.5h.6M277.8 266.4h.6M272.2 268.4h.6M277.0 261.3h.6M280.3 263.1h.6M277.1 265.1h.6M278.5 266.7h.6M276.0 264.3h.6M272.0 262.6h.6M281.6 267.8h.6M268.5 268.0h.6M283.6 272.9h.6M273.1 264.9h.6M282.4 269.9h.6M275.6 262.1h.6M270.2 263.9h.6M276.2 263.6h.6M277.2 264.1h.6M278.0 263.0h.6M280.2 263.9h.6M272.0 265.3h.6M277.8 264.2h.6M278.9 267.2h.6M274.6 265.2h.6M271.9 265.4h.6M271.8 269.5h.6M278.9 266.3h.6M279.1 265.8h.6M272.3 265.4h.6M270.2 265.6h.6M281.0 267.0h.6M269.3 263.2h.6M276.4 268.6h.6M272.4 269.7h.6M268.4 268.6h.6M276.3 264.1h.6M275.0 261.0h.6M281.8 264.2h.6M285.3 265.8h.6M275.0 267.7h.6M280.1 264.9h.6M280.1 264.6h.6M273.6 269.6h.6M272.1 263.6h.6M282.5 268.3h.6M274.2 267.9h.6M275.7 261.8h.6M274.5 266.2h.6M275.2 263.9h.6M273.2 262.8h.6M278.9 260.3h.6M281.0 261.1h.6M274.2 266.6h.6M270.0 264.4h.6M276.0 266.2h.6M269.5 262.5h.6M273.1 264.5h.6M280.9 264.7h.6M285.5 261.2h.6M277.3 260.9h.6M271.3 266.6h.6M279.0 265.8h.6M272.9 265.1h.6M282.1 267.2h.6M278.9 270.4h.6M270.0 263.0h.6M268.8 267.1h.6M279.3 271.2h.6M275.6 265.6h.6M273.3 269.4h.6M277.5 258.3h.6M273.4 269.4h.6M267.7 265.4h.6M279.1 260.3h.6M273.1 267.6h.6M271.6 268.3h.6M270.2 268.7h.6M276.8 268.7h.6M272.4 265.3h.6M278.4 263.4h.6M274.6 264.2h.6M280.3 265.3h.6M274.2 266.5h.6M273.0 264.1h.6M267.5 265.6h.6M271.2 267.8h.6M278.8 266.3h.6M288.5 271.7h.6M270.5 271.3h.6M271.4 262.3h.6M277.2 263.9h.6M277.8 261.8h.6M272.9 262.2h.6M276.1 266.9h.6M269.0 262.7h.6M274.5 262.5h.6M279.5 264.7h.6M282.6 267.6h.6M275.1 264.4h.6M274.7 264.4h.6M277.7 267.9h.6M280.4 266.7h.6M277.8 266.7h.6M272.6 268.0h.6M277.3 262.6h.6M279.8 266.0h.6M272.8 263.7h.6M270.2 268.2h.6M277.9 267.7h.6M277.3 262.5h.6M279.8 269.1h.6M276.1 262.2h.6M273.1 268.6h.6M273.9 266.0h.6M271.5 263.0h.6M271.8 262.3h.6M273.4 264.6h.6M273.8 265.4h.6M280.4 263.5h.6M270.7 267.0h.6M275.6 261.6h.6M273.3 265.4h.6M282.0 265.4h.6M276.9 260.3h.6M274.2 266.3h.6M279.2 261.9h.6M276.1 258.5h.6M273.8 263.7h.6M282.2 264.8h.6M278.8 267.9h.6M283.0 264.1h.6M280.6 269.5h.6M279.0 269.4h.6M276.4 268.4h.6M271.3 269.1h.6M278.8 266.4h.6M276.1 263.9h.6M278.6 267.2h.6M275.8 268.1h.6M272.9 266.1h.6M271.6 264.7h.6M278.7 261.1h.6M281.2 267.3h.6M274.6 266.4h.6M277.7 261.8h.6M281.6 265.7h.6M272.3 267.4h.6M274.4 265.1h.6M271.1 267.6h.6M280.7 267.5h.6M276.9 261.3h.6M273.9 264.6h.6M268.9 266.8h.6M275.1 267.9h.6M280.0 269.3h.6M274.6 260.1h.6M274.1 265.2h.6M278.5 267.4h.6M270.7 268.8h.6M276.0 270.1h.6M278.3 262.8h.6M272.6 264.4h.6M272.4 262.5h.6M276.9 267.7h.6M275.4 261.8h.6M274.9 268.7h.6M276.7 268.0h.6M276.8 266.8h.6M272.0 259.4h.6M273.1 263.5h.6M277.7 267.5h.6M280.5 261.5h.6M281.5 264.8h.6M272.3 265.1h.6M280.4 267.9h.6M279.0 266.2h.6M275.7 266.2h.6M277.9 264.2h.6M279.3 265.4h.6M283.3 265.0h.6M271.5 267.4h.6M278.4 264.9h.6M275.3 268.3h.6M275.0 260.7h.6M280.6 268.7h.6M279.3 264.9h.6M271.6 268.5h.6M274.7 265.6h.6M276.8 267.8h.6M270.0 269.5h.6M279.5 263.9h.6M275.6 265.6h.6M276.5 264.9h.6M277.3 266.0h.6M283.4 260.9h.6M276.0 264.9h.6M274.4 264.7h.6M283.1 263.2h.6M273.8 264.9h.6M273.7 261.1h.6M270.1 269.3h.6M280.4 266.6h.6M277.0 270.6h.6M277.8 263.0h.6M276.6 262.2h.6M275.3 266.2h.6M272.6 260.8h.6M272.6 266.0h.6M277.7 263.5h.6M276.4 264.5h.6M282.7 266.1h.6M272.7 265.5h.6M273.9 270.6h.6M271.6 267.2h.6M281.6 261.8h.6M270.8 268.1h.6M279.1 261.7h.6M281.9 265.6h.6M275.3 262.0h.6M278.9 263.1h.6M274.3 263.9h.6M269.0 263.6h.6M276.6 263.8h.6M275.9 264.5h.6M272.7 269.4h.6M279.8 262.1h.6M277.4 262.0h.6M273.7 267.0h.6M273.8 261.0h.6M269.8 264.4h.6M275.1 268.5h.6M284.7 265.4h.6M272.9 264.1h.6M277.6 263.4h.6M273.6 262.9h.6M279.2 263.8h.6M277.7 265.8h.6M274.9 268.8h.6M268.5 268.1h.6M273.8 263.8h.6M280.9 263.4h.6M274.9 267.3h.6M278.5 260.4h.6M273.9 264.2h.6M268.1 264.5h.6M277.7 262.3h.6M277.2 262.6h.6M273.5 266.3h.6M274.4 260.8h.6M277.1 262.8h.6M273.4 263.6h.6M277.3 265.6h.6M275.1 261.6h.6M275.3 264.5h.6M273.4 264.6h.6M272.4 264.3h.6M277.6 263.5h.6M273.9 262.6h.6M278.1 268.5h.6M280.4 265.9h.6M276.5 265.0h.6M269.5 268.1h.6M272.9 263.4h.6M279.7 267.1h.6M274.8 265.4h.6M272.6 262.9h.6M275.5 267.4h.6M278.0 261.2h.6M277.0 267.1h.6M278.6 262.9h.6M272.5 266.4h.6M274.8 269.1h.6M274.9 266.9h.6M275.8 263.6h.6M267.2 265.2h.6M274.9 264.3h.6M270.3 262.1h.6M281.7 262.2h.6M282.4 265.4h.6M282.9 266.8h.6M279.3 260.4h.6M273.9 265.1h.6M279.9 266.7h.6M275.1 265.6h.6M295.3 244.3h.6M299.8 240.4h.6M295.5 244.4h.6M298.5 239.9h.6M296.2 242.5h.6M296.6 242.8h.6M296.9 244.8h.6M297.5 243.4h.6M295.1 244.1h.6M295.9 245.6h.6M296.1 243.7h.6M294.8 244.5h.6M297.3 243.1h.6M296.0 242.8h.6M294.9 243.2h.6M297.0 244.7h.6M294.8 243.0h.6M299.9 240.1h.6M295.4 242.7h.6M295.4 244.8h.6M295.8 244.1h.6M297.3 241.9h.6M294.6 242.7h.6M296.1 243.8h.6M296.0 244.1h.6M296.1 242.7h.6M297.1 242.7h.6M297.9 243.2h.6M293.0 246.6h.6M294.7 246.0h.6M290.9 248.5h.6M298.1 242.0h.6M298.9 241.5h.6M300.5 242.2h.6M297.3 243.7h.6M298.8 241.3h.6M297.3 244.4h.6M295.5 243.2h.6M294.4 247.5h.6M294.7 244.9h.6M295.0 244.5h.6M298.8 242.2h.6M299.6 240.1h.6M296.5 245.3h.6M296.1 241.9h.6M297.1 243.1h.6M294.7 244.9h.6M293.2 247.1h.6M293.8 244.1h.6M294.5 247.2h.6M296.0 244.3h.6M295.5 243.3h.6M295.2 243.2h.6M295.5 243.4h.6M298.3 243.3h.6M294.7 245.5h.6M297.8 241.5h.6M293.8 247.4h.6M296.6 243.4h.6M297.3 242.8h.6M295.5 245.7h.6M293.8 247.2h.6M298.2 242.7h.6M294.4 244.3h.6M297.9 241.9h.6M297.6 241.7h.6M296.5 243.6h.6M296.4 243.5h.6M297.8 241.1h.6M296.9 242.5h.6M295.4 246.1h.6M296.4 242.9h.6M296.6 241.7h.6M297.2 243.5h.6M297.4 243.7h.6M296.0 243.7h.6M296.3 243.9h.6M294.2 245.1h.6M293.7 246.5h.6M299.2 241.8h.6M295.8 245.4h.6M296.9 243.2h.6M293.6 246.6h.6M295.6 242.3h.6M295.2 245.5h.6M302.1 237.5h.6M295.3 246.3h.6M296.1 246.8h.6M298.4 241.8h.6M299.1 241.7h.6M291.9 247.4h.6M297.7 243.7h.6M298.6 242.2h.6M295.2 246.9h.6M298.1 242.5h.6M295.8 244.9h.6M295.7 246.5h.6M295.4 243.9h.6M296.1 244.9h.6M294.7 247.1h.6M299.9 238.3h.6M294.9 243.9h.6M295.4 245.4h.6M298.1 241.8h.6M296.7 244.1h.6M299.3 241.1h.6M295.5 243.7h.6M297.3 243.0h.6M297.4 244.0h.6M296.5 243.0h.6M295.9 243.8h.6M295.5 243.2h.6M300.0 240.5h.6M296.6 246.1h.6M294.6 244.0h.6M296.4 244.7h.6M298.1 242.9h.6M296.8 242.4h.6M297.9 241.4h.6M293.4 245.8h.6M296.4 242.6h.6M296.3 244.0h.6M296.4 244.5h.6M296.8 243.3h.6M293.5 248.2h.6M297.1 243.1h.6M295.9 242.6h.6M294.9 247.4h.6M297.1 244.4h.6M298.7 239.9h.6" stroke="#111" stroke-width=".6" fill="none"/>
<path d="M270.0 263.2h.6M285.0 272.9h.6M268.4 270.0h.6M282.2 268.9h.6M289.2 275.2h.6M279.3 269.9h.6M279.7 263.3h.6M279.0 259.7h.6M271.7 266.4h.6M275.1 264.8h.6M278.3 265.1h.6M281.3 258.7h.6M272.4 273.5h.6M270.5 261.1h.6M273.8 263.3h.6M277.3 269.2h.6M277.8 258.8h.6M276.6 270.8h.6M277.8 270.9h.6M267.7 265.0h.6M281.8 264.3h.6M287.8 257.8h.6M272.4 266.8h.6M279.5 263.0h.6M284.3 262.2h.6M282.1 269.2h.6M286.7 273.6h.6M276.9 260.5h.6M280.3 263.8h.6M280.3 258.2h.6M274.1 269.7h.6M286.1 267.2h.6M284.5 265.9h.6M274.4 264.4h.6M284.9 263.1h.6M269.5 270.5h.6M280.2 258.8h.6M269.8 267.7h.6M282.7 264.1h.6M274.0 262.2h.6M278.5 271.5h.6M288.6 264.4h.6M281.6 269.0h.6M277.1 274.8h.6M280.3 263.6h.6M279.7 265.3h.6M287.6 260.7h.6M278.8 265.8h.6M275.4 264.5h.6M286.7 263.0h.6M281.4 259.0h.6M274.2 260.1h.6M281.7 261.9h.6M278.1 269.5h.6M281.7 264.1h.6M270.7 269.6h.6M282.1 269.2h.6M275.6 262.9h.6M279.8 263.5h.6M291.6 269.6h.6M275.0 268.2h.6M279.0 262.5h.6M273.2 267.6h.6M272.7 266.4h.6M276.7 271.8h.6M287.3 268.6h.6M276.5 261.7h.6M285.5 271.5h.6M278.1 270.8h.6M278.3 260.2h.6M282.5 261.0h.6M268.4 262.1h.6M286.1 265.0h.6M270.1 270.2h.6M278.7 269.3h.6M296.0 266.0h.6M277.8 273.0h.6M289.5 268.4h.6M274.7 273.2h.6M277.6 267.4h.6M280.3 254.2h.6M271.0 264.3h.6M270.5 261.3h.6M279.7 266.9h.6M271.1 260.6h.6M282.0 261.0h.6M272.8 265.2h.6M270.8 265.6h.6M269.1 254.0h.6M278.3 271.2h.6M274.6 266.6h.6M278.4 266.5h.6M275.9 267.9h.6M290.8 261.6h.6M274.1 266.3h.6M278.1 271.7h.6M277.3 268.7h.6M278.4 265.2h.6M285.5 272.9h.6M277.0 269.0h.6M277.0 264.5h.6M280.7 262.3h.6M276.8 257.1h.6M287.1 272.5h.6M274.2 267.4h.6M268.2 262.9h.6M278.2 265.2h.6M280.3 272.4h.6M269.4 260.0h.6M276.3 265.9h.6M275.6 260.5h.6M277.0 258.1h.6M273.5 267.3h.6M276.8 274.1h.6M273.0 266.7h.6M278.4 264.7h.6M275.3 267.5h.6M276.8 259.3h.6M287.4 257.3h.6M279.5 275.7h.6M281.6 267.9h.6M280.6 274.4h.6M273.8 267.7h.6M267.6 273.8h.6M283.2 263.5h.6M284.9 268.9h.6M281.4 274.1h.6M280.4 271.5h.6M280.1 264.2h.6M277.1 270.9h.6M279.3 263.2h.6M277.4 259.5h.6M279.6 269.1h.6M270.4 273.4h.6M272.7 270.7h.6M281.4 260.3h.6M274.8 270.8h.6M278.2 264.2h.6M291.1 271.5h.6M282.5 270.9h.6M282.1 269.0h.6M272.5 257.9h.6M269.1 259.1h.6M275.7 271.5h.6M277.4 270.5h.6M271.7 269.0h.6M278.4 265.3h.6M282.3 268.5h.6M281.6 263.8h.6M269.8 264.9h.6M277.3 267.8h.6M272.6 264.4h.6M280.5 271.2h.6M289.1 270.1h.6M289.1 262.5h.6M279.4 275.6h.6M285.3 260.9h.6M289.2 268.7h.6M277.7 271.9h.6M279.3 272.9h.6M283.5 255.5h.6M277.1 271.5h.6M273.8 272.6h.6M272.0 273.7h.6M277.4 255.4h.6M272.9 263.1h.6M283.1 266.0h.6M275.0 264.3h.6M287.9 273.2h.6M286.1 263.1h.6M268.5 272.6h.6M285.1 269.3h.6M274.5 259.2h.6M287.2 261.5h.6M281.1 264.2h.6M277.1 267.0h.6M282.2 271.5h.6M273.4 265.6h.6M279.8 271.0h.6M280.2 258.6h.6M276.4 251.3h.6M280.2 264.8h.6M270.3 268.8h.6M281.4 264.7h.6M268.8 261.5h.6M281.9 268.6h.6M282.5 266.0h.6M273.5 262.9h.6M299.2 262.3h.6M278.6 266.3h.6M272.1 269.6h.6M287.7 272.6h.6M274.1 271.9h.6M284.6 261.9h.6M270.8 271.3h.6M279.7 270.7h.6M274.9 268.9h.6M284.2 271.5h.6M275.5 263.7h.6M271.4 266.1h.6M280.8 263.9h.6M269.1 270.3h.6M270.8 263.2h.6M283.0 268.5h.6M283.0 265.9h.6M274.7 264.7h.6M271.1 265.9h.6M279.3 267.2h.6M282.1 265.6h.6M273.5 265.4h.6M276.4 256.1h.6M283.3 272.0h.6M283.0 263.4h.6M277.3 265.3h.6M272.2 262.4h.6M270.9 271.5h.6M273.4 262.0h.6M282.5 269.0h.6M281.8 272.4h.6M279.8 274.7h.6M287.6 272.4h.6M275.6 269.6h.6M275.0 260.5h.6M275.0 273.0h.6M291.3 272.4h.6M279.8 270.5h.6M280.9 266.9h.6M278.2 263.9h.6M294.3 271.9h.6M286.0 272.9h.6M283.2 261.3h.6M271.4 271.1h.6M281.3 267.8h.6M275.1 271.0h.6M278.1 267.9h.6M279.2 272.1h.6M274.4 271.7h.6M282.3 271.0h.6M289.3 259.7h.6M285.1 270.7h.6M279.3 266.8h.6M285.5 270.1h.6M285.5 259.8h.6M276.5 271.0h.6M274.5 275.0h.6M282.5 264.1h.6M272.1 271.2h.6M283.5 268.8h.6M270.2 269.8h.6M271.4 259.9h.6M278.0 269.6h.6M267.6 267.3h.6M277.9 270.3h.6M281.6 266.6h.6M268.6 272.0h.6M284.4 268.0h.6M273.9 270.0h.6M281.8 273.4h.6M279.4 267.5h.6M274.7 271.6h.6M274.2 267.8h.6M273.0 264.0h.6M272.5 270.5h.6M289.5 272.7h.6M285.1 266.2h.6M268.3 270.6h.6M283.6 268.8h.6M279.5 261.2h.6M275.3 268.4h.6M281.2 273.2h.6M283.5 264.3h.6M273.9 257.9h.6M276.0 267.7h.6M279.1 263.5h.6M279.3 266.5h.6M277.4 266.6h.6M273.2 263.6h.6M272.0 267.9h.6M280.1 263.9h.6M284.1 262.2h.6M280.3 266.4h.6M272.0 262.7h.6M283.2 273.2h.6M279.2 260.9h.6M282.1 266.3h.6M286.1 263.3h.6M271.6 259.9h.6M277.0 274.8h.6M273.8 256.3h.6M271.8 273.8h.6M292.0 259.7h.6M284.6 267.1h.6M281.0 256.2h.6M274.1 259.9h.6M286.0 273.1h.6M278.6 267.5h.6M276.8 264.0h.6M279.0 266.5h.6M280.7 261.9h.6M278.2 267.3h.6M276.4 274.0h.6M277.0 264.8h.6M281.6 267.4h.6M270.1 272.6h.6M277.1 263.8h.6M274.6 268.2h.6M283.2 263.9h.6M268.9 263.5h.6M275.4 264.7h.6M272.0 263.6h.6M281.8 258.2h.6M274.7 256.9h.6M278.3 263.1h.6M280.7 267.3h.6M281.2 264.1h.6M272.8 265.9h.6M276.2 269.9h.6M277.2 270.3h.6M283.7 266.1h.6M283.2 266.4h.6M290.4 275.9h.6M279.2 265.0h.6M274.7 264.3h.6M274.5 258.7h.6M282.6 268.8h.6M289.2 265.4h.6M274.0 265.0h.6M279.9 270.7h.6M279.8 271.2h.6M278.2 274.7h.6M272.8 260.3h.6M274.2 266.7h.6M285.4 266.2h.6M279.5 265.2h.6M278.0 265.0h.6M291.9 269.2h.6M279.3 267.0h.6M269.6 262.0h.6M283.6 266.4h.6M281.9 268.5h.6M278.2 264.8h.6M269.7 275.0h.6M282.7 262.8h.6M268.6 265.9h.6M287.4 264.0h.6M278.4 265.5h.6M270.8 270.2h.6M289.3 263.1h.6M288.2 266.0h.6M269.2 267.1h.6M289.5 264.7h.6M279.2 266.5h.6M276.5 263.1h.6M277.4 263.1h.6M276.1 266.9h.6M288.0 261.6h.6M279.1 268.7h.6M292.7 262.2h.6M284.2 263.7h.6M270.4 264.3h.6M275.5 265.9h.6M271.7 267.2h.6M278.3 265.6h.6M280.8 262.4h.6M279.7 273.6h.6M273.8 271.1h.6M272.4 267.2h.6M283.9 271.3h.6M277.3 268.2h.6M293.8 265.4h.6M272.3 267.1h.6M278.3 271.5h.6M272.7 271.7h.6M287.5 264.7h.6M278.9 269.6h.6M275.8 268.7h.6M285.1 271.9h.6M269.4 272.8h.6M287.7 269.8h.6M282.8 274.3h.6M276.0 267.8h.6M287.5 269.1h.6M290.3 263.6h.6M279.2 268.1h.6M290.9 267.2h.6M288.5 273.4h.6M271.5 264.3h.6M276.5 266.6h.6M276.5 262.9h.6M275.1 266.8h.6M267.5 264.8h.6M284.3 269.3h.6M278.6 266.0h.6M278.7 263.7h.6M287.9 265.2h.6M274.0 266.1h.6M277.6 264.2h.6M279.9 271.2h.6M275.0 269.9h.6M277.2 267.3h.6M283.4 260.9h.6M277.9 269.1h.6M287.4 260.5h.6M272.7 267.5h.6M279.4 266.9h.6M268.0 263.8h.6M277.2 262.6h.6M268.6 273.1h.6M302.4 234.0h.6M281.5 229.7h.6M301.8 266.9h.6M274.9 252.7h.6M297.5 230.7h.6M306.9 259.2h.6M270.3 252.5h.6" stroke="#666" stroke-width=".6" fill="none"/>
<path d="M292.2 259.7h.6M297.8 231.2h.6M289.1 252.5h.6M285.6 249.3h.6M296.2 243.0h.6M286.1 242.3h.6M292.0 238.9h.6M282.6 259.3h.6M285.4 259.6h.6M292.1 251.9h.6M292.9 255.4h.6M294.1 250.9h.6M298.8 244.4h.6M281.5 258.0h.6M292.2 248.1h.6M300.6 257.7h.6M301.7 250.2h.6M294.5 251.1h.6M290.4 256.5h.6M289.3 259.7h.6M276.4 269.1h.6M302.4 247.2h.6M281.8 261.5h.6M288.6 253.7h.6M306.9 242.2h.6M282.4 249.6h.6M295.5 246.7h.6M284.6 248.7h.6M292.9 243.8h.6M290.9 250.3h.6M287.2 254.0h.6M299.0 240.4h.6M287.2 251.2h.6M283.3 261.1h.6M285.6 250.8h.6M292.8 245.6h.6M280.7 256.5h.6M297.4 245.9h.6M291.3 241.9h.6M304.9 235.5h.6M286.2 254.9h.6M293.8 244.9h.6M285.5 266.4h.6M289.1 254.3h.6M285.8 245.8h.6M294.8 248.6h.6M281.8 244.9h.6M291.4 252.0h.6M286.4 254.7h.6M284.3 251.2h.6M293.0 248.5h.6M293.2 245.7h.6M300.7 250.0h.6M295.2 241.9h.6M303.6 245.6h.6M285.4 267.9h.6M286.3 253.5h.6M287.7 250.2h.6M291.6 258.6h.6M296.4 242.2h.6M295.7 245.2h.6M289.7 251.0h.6M288.0 247.2h.6M296.9 240.0h.6M286.2 251.4h.6M284.6 249.9h.6M295.1 243.0h.6M299.1 250.9h.6M303.9 243.1h.6M292.9 247.7h.6M295.6 245.1h.6M289.6 256.1h.6M290.1 261.0h.6M292.0 251.5h.6M275.0 270.5h.6M292.1 246.7h.6M299.9 245.6h.6M299.5 255.8h.6M287.9 251.1h.6M290.7 237.7h.6M293.3 252.8h.6M296.2 242.9h.6M303.5 233.8h.6M298.9 247.7h.6M296.4 243.5h.6M289.7 244.0h.6M286.4 244.5h.6M292.4 248.5h.6M287.8 247.7h.6M297.9 242.9h.6M278.3 260.6h.6M288.5 252.1h.6M290.1 242.4h.6M285.3 256.5h.6M289.1 250.6h.6M289.1 257.5h.6M297.6 250.2h.6M295.2 243.6h.6M296.4 237.5h.6M299.9 251.0h.6M288.2 257.1h.6M294.3 250.1h.6M296.1 247.6h.6M303.3 242.8h.6M282.4 269.7h.6M295.2 249.3h.6M283.4 266.7h.6M292.3 243.3h.6M291.6 245.9h.6M293.5 246.6h.6M296.2 244.0h.6M293.2 247.7h.6M288.5 256.5h.6M293.1 248.0h.6M296.3 240.4h.6M285.4 248.1h.6M293.8 252.3h.6M286.3 261.5h.6M294.7 239.7h.6M289.9 255.8h.6M288.2 257.4h.6M288.8 254.4h.6M280.6 253.5h.6M286.0 250.1h.6M296.2 239.4h.6M300.4 248.0h.6M296.2 237.7h.6M298.1 238.3h.6M282.7 255.3h.6M292.2 245.9h.6M300.3 239.7h.6M274.5 255.6h.6M285.3 263.3h.6M293.7 247.1h.6M287.4 252.0h.6M288.6 260.6h.6M296.2 249.9h.6M280.2 252.3h.6M278.1 268.1h.6M294.4 253.3h.6M289.7 248.3h.6M293.6 245.1h.6M299.2 245.5h.6M291.2 248.7h.6M286.0 250.0h.6M285.3 254.5h.6M277.9 260.7h.6M290.4 255.4h.6M291.2 239.2h.6M297.7 247.8h.6M297.2 231.1h.6M290.4 252.0h.6M276.7 261.5h.6M294.6 243.6h.6M299.9 244.9h.6M288.1 262.3h.6M286.3 266.2h.6M291.6 249.4h.6M295.3 245.4h.6M285.6 260.0h.6M291.1 254.8h.6M285.5 256.0h.6M288.0 262.4h.6M284.8 261.8h.6M295.4 252.2h.6M290.5 254.7h.6M289.5 257.5h.6M274.5 269.6h.6M299.3 236.2h.6M281.8 255.4h.6M289.4 251.2h.6M284.2 259.3h.6M295.7 249.7h.6M278.8 259.9h.6M301.6 257.1h.6M289.6 252.0h.6M300.0 246.4h.6M288.2 261.6h.6M279.6 250.4h.6M288.9 252.1h.6M307.1 237.7h.6M275.4 257.1h.6M295.0 250.2h.6M284.6 254.0h.6M291.2 247.4h.6M295.3 246.2h.6M286.0 245.7h.6M293.0 249.2h.6M290.5 247.2h.6M285.4 253.8h.6M292.0 254.1h.6M292.8 271.4h.6M290.1 254.4h.6M288.5 258.1h.6M289.4 252.7h.6M292.8 243.5h.6M293.9 248.4h.6M298.3 250.5h.6M297.6 242.6h.6M280.7 271.4h.6M292.6 247.0h.6M298.7 256.5h.6M285.3 248.0h.6M285.6 262.4h.6M295.6 247.8h.6M298.1 242.5h.6M293.1 240.4h.6M286.9 249.1h.6M293.7 245.4h.6M296.3 243.9h.6M297.1 234.0h.6M294.3 239.0h.6M293.5 251.0h.6M294.7 252.4h.6M290.1 248.4h.6M290.0 247.6h.6M285.9 253.2h.6M302.9 250.3h.6M288.7 257.4h.6M286.3 257.0h.6M296.0 250.3h.6M294.9 260.4h.6M293.2 255.3h.6M275.1 264.0h.6M295.0 244.5h.6M289.6 250.1h.6M289.1 251.1h.6M289.7 244.6h.6M290.8 248.4h.6M283.7 254.0h.6M302.9 236.0h.6M288.6 254.5h.6M291.8 240.2h.6M295.6 232.9h.6M286.0 254.7h.6M293.4 251.6h.6M288.0 258.4h.6M296.4 242.5h.6M278.8 246.3h.6M283.3 258.4h.6M295.8 239.0h.6M294.9 243.0h.6M282.2 255.2h.6M296.0 240.7h.6M289.9 247.9h.6M302.5 239.0h.6M287.2 254.8h.6M289.3 252.9h.6M285.7 257.5h.6M292.2 250.3h.6M289.9 249.6h.6M294.9 245.1h.6M294.6 252.5h.6M285.4 264.2h.6M287.4 257.9h.6M302.8 242.8h.6M297.9 242.4h.6M286.9 250.0h.6M284.7 248.1h.6M287.8 250.7h.6M290.8 250.6h.6M282.9 264.9h.6M299.1 246.3h.6M285.5 254.8h.6M289.2 248.0h.6M279.4 272.4h.6M295.8 251.7h.6M296.7 239.4h.6M279.7 269.1h.6M303.5 242.0h.6M294.5 247.9h.6M286.7 256.5h.6M275.7 258.8h.6M301.4 244.7h.6M294.3 250.3h.6M294.5 246.5h.6M287.9 252.0h.6M282.6 254.4h.6M295.3 243.9h.6M285.3 258.1h.6M299.2 246.3h.6M277.9 261.3h.6M290.3 261.3h.6M283.0 262.3h.6M301.8 243.3h.6M278.3 262.5h.6M285.7 260.6h.6M298.3 248.4h.6M292.5 249.4h.6M298.3 230.5h.6M299.9 235.8h.6M295.9 247.2h.6M290.3 242.5h.6M276.4 262.0h.6M286.8 258.3h.6M286.1 251.4h.6M292.0 253.8h.6M279.7 259.1h.6M280.0 254.2h.6M283.8 255.9h.6M301.4 245.9h.6M290.5 245.7h.6M289.0 253.5h.6M290.1 253.6h.6M289.5 246.6h.6M290.5 258.8h.6M290.0 253.4h.6M282.8 265.4h.6M289.3 242.0h.6M290.7 239.6h.6M284.3 242.1h.6M292.9 246.8h.6M292.2 247.6h.6M304.3 236.5h.6M296.6 252.6h.6M282.8 260.7h.6M284.3 258.6h.6M296.2 246.3h.6M301.5 245.9h.6M292.5 243.1h.6M297.4 245.7h.6M291.1 248.9h.6M281.7 261.9h.6M289.5 258.3h.6M278.5 263.4h.6M285.4 251.6h.6M285.5 263.1h.6M291.3 250.1h.6M289.1 251.7h.6M279.7 265.9h.6M296.4 246.3h.6M293.9 244.2h.6M285.6 263.5h.6M293.0 250.7h.6M299.4 248.6h.6M293.2 256.0h.6M298.2 246.1h.6M291.3 249.0h.6M297.1 242.8h.6M290.0 248.2h.6M298.8 258.5h.6M293.0 246.5h.6M296.9 246.0h.6M296.5 252.0h.6M284.1 251.5h.6M283.9 255.4h.6M287.6 253.1h.6M284.6 253.3h.6M288.0 246.6h.6M290.2 248.5h.6M294.4 254.5h.6M293.1 252.6h.6M291.9 249.7h.6M299.6 238.7h.6M292.3 237.9h.6M289.8 257.1h.6M294.5 248.6h.6M285.6 251.3h.6M290.9 252.3h.6M288.9 252.5h.6M285.8 254.8h.6M280.2 259.6h.6M275.1 269.0h.6M289.0 247.4h.6M298.8 242.7h.6M286.9 259.0h.6M294.6 247.8h.6M288.1 253.7h.6M291.1 248.0h.6M292.7 261.9h.6M283.7 248.8h.6M293.9 254.6h.6M278.8 270.6h.6M292.2 249.5h.6M288.5 251.1h.6M276.4 270.2h.6M290.7 243.4h.6M286.3 248.3h.6M291.6 249.2h.6M287.6 244.6h.6M291.1 256.2h.6M288.3 262.0h.6M277.6 247.1h.6M283.6 251.1h.6M303.9 234.1h.6M301.7 237.0h.6M288.4 255.2h.6M289.8 255.3h.6M294.9 250.2h.6M296.6 248.5h.6M292.5 260.5h.6M285.3 259.1h.6M304.2 237.7h.6M291.6 239.2h.6M281.7 263.2h.6M277.2 262.5h.6M290.5 260.7h.6M299.3 254.5h.6M295.5 248.0h.6M284.8 251.0h.6M281.4 263.7h.6M292.1 249.5h.6M294.7 246.8h.6M294.1 253.6h.6M291.0 257.2h.6M285.7 240.8h.6M294.7 254.6h.6M283.0 259.0h.6M289.5 249.2h.6M288.0 264.6h.6M295.3 242.9h.6M289.1 244.5h.6M281.1 256.2h.6M292.1 249.6h.6M300.6 243.2h.6M283.5 271.5h.6M289.4 251.9h.6" stroke="#777" stroke-width=".6" fill="none"/>
<path d="M293.1 262.2h.6M288.7 266.2h.6M287.5 260.8h.6M293.6 262.9h.6M278.5 258.2h.6M281.6 261.6h.6M289.5 265.7h.6M286.2 262.6h.6M283.8 261.6h.6M292.2 255.3h.6M288.7 260.0h.6M282.7 257.3h.6M284.8 263.4h.6M290.0 259.0h.6M293.2 262.2h.6M280.2 258.2h.6M287.9 266.7h.6M285.8 257.7h.6M281.1 261.5h.6M286.5 268.9h.6M281.6 261.8h.6M285.3 258.6h.6M292.6 263.0h.6M288.8 264.1h.6M289.8 263.7h.6M289.1 255.3h.6M288.3 261.8h.6M290.4 254.9h.6M283.1 266.7h.6M285.9 261.4h.6M290.0 259.8h.6M284.6 263.1h.6M285.6 262.6h.6M291.2 257.6h.6M292.4 265.9h.6M285.0 260.4h.6M284.3 255.9h.6M289.1 265.3h.6M288.0 265.7h.6M284.8 264.9h.6M289.2 262.8h.6M289.0 258.5h.6M287.4 263.9h.6M297.2 266.7h.6M291.8 263.6h.6M289.9 265.9h.6M290.6 258.8h.6M297.3 264.2h.6M290.9 263.9h.6M284.7 256.7h.6M288.2 256.3h.6M287.4 259.0h.6M285.2 261.4h.6M288.0 262.5h.6M288.0 260.5h.6M287.0 261.0h.6M285.5 260.8h.6M290.0 261.4h.6M281.7 262.9h.6M290.0 262.6h.6M287.2 261.0h.6M288.1 261.9h.6M279.0 259.8h.6M292.9 263.5h.6M281.2 259.7h.6M284.2 266.0h.6M289.3 261.1h.6M285.1 262.0h.6M285.8 258.9h.6M279.5 260.1h.6M285.7 261.6h.6M287.9 261.2h.6M289.5 259.3h.6M286.2 257.7h.6M287.9 261.3h.6M288.7 261.6h.6M284.8 262.8h.6M284.6 264.9h.6M293.9 260.2h.6M284.2 255.2h.6M291.4 260.7h.6M287.4 255.7h.6M292.2 257.3h.6M285.0 264.2h.6M288.9 262.8h.6M288.3 259.2h.6M286.4 259.3h.6M288.2 260.9h.6M284.5 255.9h.6M286.9 262.6h.6M285.8 260.1h.6M289.8 266.6h.6M286.8 258.0h.6M282.4 264.2h.6M285.9 259.1h.6M286.8 264.2h.6M284.1 258.2h.6M291.7 263.4h.6M288.5 259.9h.6M290.0 258.7h.6M284.5 260.7h.6M285.8 262.6h.6M290.6 262.4h.6M282.2 265.9h.6M288.4 263.6h.6M287.5 253.3h.6M285.4 260.0h.6M287.5 255.2h.6M283.5 260.0h.6M287.9 263.0h.6M283.0 257.2h.6M282.8 257.6h.6M292.0 261.6h.6M284.7 260.3h.6M279.9 265.9h.6M290.5 262.1h.6M284.5 262.8h.6M275.1 266.4h.6M287.0 259.7h.6M290.3 261.2h.6" stroke="#555" stroke-width=".6" fill="none"/>
<path d="M269.0 273.1h.6M270.9 267.0h.6M290.6 263.1h.6M285.4 269.6h.6M273.3 260.1h.6M274.8 262.6h.6M277.9 274.3h.6M272.8 268.4h.6M270.5 265.1h.6M291.2 261.6h.6M272.3 261.9h.6M285.7 263.1h.6M285.0 267.3h.6M285.4 259.4h.6M274.6 262.7h.6M272.6 266.7h.6M282.4 274.9h.6M291.9 274.6h.6M276.7 275.8h.6M272.5 263.1h.6M279.7 261.2h.6M271.7 274.3h.6M275.7 271.6h.6M285.4 263.4h.6M273.1 266.8h.6M278.2 275.6h.6M283.1 273.7h.6M271.0 275.9h.6M270.6 267.9h.6M291.1 262.5h.6M288.7 268.7h.6M289.1 261.0h.6M281.3 261.1h.6M279.6 260.6h.6M269.7 263.5h.6M273.0 262.0h.6M269.8 263.6h.6M280.3 271.5h.6M277.9 271.1h.6M271.3 259.5h.6M269.5 274.5h.6M281.4 273.8h.6M267.3 262.9h.6M272.6 272.1h.6M287.1 269.0h.6M283.4 271.7h.6M279.9 275.3h.6M272.6 260.5h.6M278.7 274.1h.6M267.2 274.5h.6M275.1 270.6h.6M279.0 266.2h.6M269.3 268.7h.6M281.5 261.5h.6M278.1 272.4h.6M268.4 268.9h.6M270.7 269.4h.6M279.2 271.8h.6M289.4 260.8h.6M268.4 259.9h.6M281.1 261.1h.6M274.1 260.4h.6M276.7 273.4h.6M290.1 261.4h.6M282.7 265.8h.6M274.1 270.8h.6M278.3 263.6h.6M291.5 275.4h.6M288.7 275.5h.6M277.6 266.0h.6M280.2 269.6h.6M278.5 273.1h.6M291.2 271.5h.6M272.7 267.1h.6M272.5 259.8h.6M269.8 270.6h.6M290.5 270.9h.6M289.9 271.5h.6M282.9 265.3h.6M280.2 274.5h.6M281.5 269.7h.6M276.3 265.8h.6M289.2 263.4h.6M280.9 259.6h.6M288.4 271.8h.6M284.4 264.7h.6M284.0 274.4h.6M283.8 264.8h.6M286.4 264.5h.6M287.3 273.1h.6M284.1 265.8h.6M273.6 269.2h.6M271.9 275.9h.6M288.4 261.2h.6M279.1 259.8h.6M282.0 274.8h.6M288.6 267.6h.6M290.0 272.2h.6M290.5 268.5h.6M271.4 273.6h.6M279.9 267.6h.6M284.7 262.3h.6M283.1 265.9h.6M276.0 266.0h.6M267.9 265.5h.6M289.3 271.9h.6M286.5 274.1h.6M288.7 273.9h.6M276.6 262.5h.6M273.2 262.0h.6M288.1 271.1h.6M283.4 272.2h.6M283.7 273.1h.6M267.9 275.3h.6M269.7 265.0h.6M286.2 260.2h.6M289.1 265.7h.6M275.8 264.8h.6M288.8 261.0h.6M271.5 271.2h.6M281.5 268.2h.6M275.7 270.2h.6M280.3 274.6h.6M271.9 269.4h.6M276.6 275.0h.6M278.5 273.7h.6M281.5 268.5h.6M272.1 270.1h.6M282.1 267.5h.6M272.3 266.0h.6M291.4 272.2h.6M273.0 269.8h.6M269.7 265.7h.6M273.8 270.8h.6M281.2 268.6h.6M278.2 261.0h.6M283.5 272.4h.6M269.7 267.9h.6M277.3 275.7h.6M280.9 275.2h.6M291.4 261.0h.6M289.2 263.8h.6M281.3 271.5h.6M274.5 262.6h.6M269.9 273.8h.6M282.8 271.1h.6M278.9 265.3h.6M285.0 271.4h.6M278.6 269.8h.6M286.5 271.3h.6M275.2 265.3h.6M289.8 263.2h.6M281.5 273.5h.6M290.9 261.7h.6M268.5 268.9h.6M290.1 275.7h.6M268.4 274.2h.6M285.7 271.4h.6M281.5 259.3h.6M274.6 267.1h.6M279.0 264.2h.6M281.0 260.2h.6M279.2 261.6h.6M267.7 259.8h.6M291.9 269.1h.6M275.8 265.9h.6M285.1 264.3h.6M290.2 273.7h.6M291.4 260.4h.6M271.6 266.6h.6M289.3 273.5h.6M279.8 273.9h.6M283.4 271.8h.6M273.1 268.4h.6M270.6 261.9h.6M281.5 266.1h.6M289.6 272.1h.6M277.5 273.1h.6M290.8 270.0h.6M284.6 275.2h.6M267.5 269.2h.6M290.3 274.3h.6M269.8 275.3h.6M272.5 262.0h.6M281.1 261.6h.6M270.4 264.3h.6M274.4 267.1h.6M268.1 266.6h.6M269.2 274.3h.6M277.8 259.2h.6M281.4 267.8h.6M279.8 267.3h.6M268.2 260.8h.6M277.7 267.0h.6M278.1 274.7h.6M290.4 259.9h.6M275.2 263.5h.6M282.8 269.9h.6M279.2 268.8h.6M286.5 272.7h.6M282.1 265.2h.6M291.8 261.2h.6M282.9 265.7h.6M275.5 273.9h.6M277.5 266.8h.6M288.4 266.1h.6M276.2 273.1h.6M290.2 269.5h.6M278.0 261.5h.6M290.6 265.8h.6M270.8 275.4h.6" stroke="#999" stroke-width=".6" fill="none"/>
</g>
<line x1="284.2" y1="228.1" x2="284.2" y2="277.1" stroke="#777" stroke-width="0.8"/>
<line x1="266.3" y1="258.2" x2="315.4" y2="258.2" stroke="#777" stroke-width="0.8"/>
<rect x="266.3" y="228.1" width="49.1" height="49" fill="none" stroke="#888" stroke-width="0.9"/>
<text x="298.7" y="234.1" font-size="6" stroke="#000" textLength="16" lengthAdjust="spacingAndGlyphs" font-weight="bold" style="stroke-width:0">24.7%</text>
<text x="298.7" y="275.9" font-size="6" stroke="#000" textLength="16" lengthAdjust="spacingAndGlyphs" font-weight="bold" style="stroke-width:0">21.6%</text>
<rect x="318.3" y="228.1" width="49.1" height="48.9" fill="#fff"/>
<g filter="url(#bl)">
<path d="M334.0 261.7h.6M322.8 263.2h.6M325.0 266.2h.6M330.6 266.8h.6M333.7 268.2h.6M326.0 271.4h.6M329.3 267.7h.6M329.3 266.0h.6M321.0 267.2h.6M326.2 268.5h.6M326.9 272.4h.6M329.5 274.4h.6M328.7 264.0h.6M328.0 269.4h.6M323.3 274.1h.6M324.5 272.3h.6M324.8 268.6h.6M328.8 263.9h.6M323.5 264.5h.6M332.4 266.7h.6M328.5 268.5h.6M319.2 266.3h.6M333.2 261.6h.6M327.7 264.4h.6M325.1 269.3h.6M327.5 270.5h.6M320.5 261.9h.6M327.8 265.9h.6M323.4 265.1h.6M331.7 267.5h.6M325.8 266.0h.6M323.6 265.0h.6M330.5 262.6h.6M326.9 260.1h.6M327.8 267.1h.6M329.3 266.2h.6M323.2 273.0h.6M330.0 260.9h.6M319.4 269.0h.6M332.4 272.5h.6M321.4 259.7h.6M324.8 269.9h.6M324.6 261.0h.6M329.7 269.3h.6M329.8 273.0h.6M328.4 267.3h.6M329.0 268.4h.6M328.8 264.6h.6M326.8 268.4h.6M320.1 271.7h.6M326.9 268.8h.6M326.2 270.5h.6M326.5 260.9h.6M327.9 267.5h.6M326.2 264.6h.6M323.4 269.2h.6M321.6 271.3h.6M320.1 268.5h.6M331.5 272.3h.6M330.3 263.5h.6M322.1 265.7h.6M326.0 263.5h.6M328.6 267.5h.6M332.9 267.7h.6M324.8 266.5h.6M327.7 262.6h.6M331.3 267.0h.6M320.7 265.6h.6M324.3 269.7h.6M326.9 266.3h.6M324.4 271.8h.6M334.7 268.2h.6M330.2 260.1h.6M327.7 266.6h.6M323.5 261.7h.6M330.2 271.1h.6M329.3 272.9h.6M325.1 267.2h.6M325.4 269.0h.6M321.7 261.7h.6M326.7 258.6h.6M330.2 265.1h.6M330.7 266.3h.6M329.1 261.4h.6M330.0 267.7h.6M324.9 268.5h.6M325.3 269.8h.6M331.4 273.3h.6M328.7 270.5h.6M324.1 265.9h.6M328.8 267.7h.6M330.0 269.6h.6M329.6 263.2h.6M327.4 272.5h.6M325.1 270.8h.6M328.5 266.4h.6M333.2 264.8h.6M324.6 270.6h.6M328.2 271.0h.6M322.5 274.3h.6M327.8 271.1h.6M325.9 268.1h.6M330.5 270.0h.6M327.4 263.8h.6M330.8 270.1h.6M335.4 261.3h.6M326.2 269.0h.6M323.9 269.5h.6M328.7 261.3h.6M326.7 274.8h.6M327.5 262.8h.6M324.8 271.4h.6M329.0 265.3h.6M327.2 268.5h.6M319.1 264.8h.6M328.2 271.3h.6M331.3 274.4h.6M324.9 270.4h.6M324.1 270.1h.6M331.2 267.9h.6M324.8 266.4h.6M327.4 269.7h.6M328.7 268.0h.6M329.7 266.8h.6M327.0 262.0h.6M322.9 266.2h.6M330.7 269.7h.6M325.4 265.5h.6M325.1 268.7h.6M334.3 266.8h.6M330.2 263.4h.6M323.1 263.9h.6M325.2 264.5h.6M326.1 266.3h.6M324.2 266.4h.6M320.0 271.7h.6M329.9 263.2h.6M329.8 259.4h.6M327.9 270.1h.6M325.5 265.6h.6M327.7 266.9h.6M323.2 273.1h.6M325.8 269.7h.6M324.9 271.1h.6M329.5 267.9h.6M327.9 271.1h.6M322.3 265.0h.6M324.7 264.6h.6M333.4 265.6h.6M323.4 273.6h.6M327.5 273.5h.6M324.7 265.0h.6M331.5 271.9h.6M326.7 266.8h.6M325.4 271.6h.6M322.7 266.2h.6M326.1 271.1h.6M330.0 267.0h.6M329.4 266.3h.6M322.2 267.3h.6M332.6 268.0h.6M326.1 265.2h.6M323.1 262.1h.6M327.4 274.0h.6M324.7 265.9h.6M324.9 260.3h.6M324.7 258.6h.6M326.6 256.5h.6M325.1 265.0h.6M320.8 272.7h.6M328.8 261.1h.6M325.1 266.2h.6M331.3 260.3h.6M328.9 271.7h.6M329.2 268.9h.6M327.6 268.7h.6M331.6 272.7h.6M325.8 273.9h.6M323.3 271.5h.6M328.2 265.2h.6M325.6 263.4h.6M327.7 260.6h.6M325.4 274.5h.6M331.5 266.7h.6M329.5 268.0h.6M327.3 268.2h.6M325.5 275.3h.6M330.9 265.3h.6M324.5 272.1h.6M325.4 268.6h.6M329.6 266.9h.6M329.1 260.0h.6M334.3 271.0h.6M326.1 264.5h.6M320.1 265.7h.6M329.3 268.3h.6M331.5 267.8h.6M326.3 271.9h.6M332.6 264.8h.6M333.4 268.1h.6M324.5 268.5h.6M325.2 267.6h.6M322.4 270.1h.6M328.9 266.5h.6M329.5 272.2h.6M329.1 264.7h.6M322.5 261.8h.6M324.2 267.3h.6M321.7 272.1h.6M321.1 265.4h.6M322.1 265.0h.6M321.2 266.1h.6M326.3 268.1h.6M328.4 266.8h.6M329.2 268.7h.6M326.8 260.7h.6M324.5 273.3h.6M326.9 269.7h.6M329.0 264.1h.6M325.8 272.8h.6M327.1 269.2h.6M325.8 273.2h.6M325.0 262.9h.6M327.0 274.0h.6M322.9 267.6h.6M330.7 259.4h.6M321.3 270.4h.6M328.6 266.3h.6M322.0 263.5h.6M332.4 266.6h.6M330.0 259.9h.6M324.0 269.7h.6M325.3 266.6h.6M322.8 266.4h.6M326.7 273.0h.6M328.4 267.6h.6M336.1 264.9h.6M322.0 263.7h.6M331.4 267.2h.6M324.8 271.6h.6M327.9 265.2h.6M330.1 263.4h.6M328.9 271.1h.6M328.4 267.7h.6M326.2 267.4h.6M326.9 275.6h.6M327.5 262.7h.6M331.2 268.2h.6M321.6 260.5h.6M325.1 266.3h.6M322.4 269.8h.6M323.4 271.9h.6M324.0 262.5h.6M330.9 270.7h.6M334.6 270.5h.6M331.8 267.0h.6M327.2 267.5h.6M322.8 264.0h.6M328.5 269.1h.6M331.5 260.2h.6M329.0 273.6h.6M330.0 271.3h.6M326.4 265.9h.6M319.8 269.9h.6M319.8 269.6h.6M326.5 275.0h.6M329.0 265.1h.6M331.5 262.4h.6M325.6 259.5h.6M327.2 266.3h.6M327.8 261.3h.6M330.7 266.8h.6M326.6 269.1h.6M323.0 265.7h.6M330.8 263.8h.6M328.4 272.1h.6M328.3 266.7h.6M322.3 268.4h.6M326.9 271.2h.6M320.7 262.4h.6M319.7 263.8h.6M325.3 266.8h.6M328.9 263.4h.6M332.1 266.5h.6M326.8 265.2h.6M333.3 262.6h.6M324.8 265.9h.6M329.6 267.4h.6M322.3 267.4h.6M327.4 269.6h.6M325.8 260.7h.6M326.1 261.6h.6M329.0 270.5h.6M320.1 265.7h.6M327.3 272.2h.6M324.0 268.6h.6M327.3 261.9h.6M328.3 269.6h.6M325.6 263.5h.6M325.6 268.5h.6M322.8 272.3h.6M328.9 275.7h.6M324.5 267.2h.6M328.5 270.2h.6M321.8 268.6h.6M331.8 270.5h.6M323.2 257.5h.6M331.1 265.9h.6M325.3 268.6h.6M328.9 269.3h.6M326.4 264.5h.6M329.3 270.7h.6M326.9 271.8h.6M331.5 267.7h.6M329.3 266.6h.6M329.3 266.1h.6M332.9 268.0h.6M324.4 272.1h.6M331.6 273.3h.6M327.2 265.6h.6M321.6 263.8h.6M328.6 264.4h.6M326.2 271.3h.6M333.0 268.3h.6M325.1 268.6h.6M327.1 269.3h.6M327.7 268.9h.6M320.1 267.0h.6M328.7 263.4h.6M323.3 265.0h.6M332.0 267.9h.6M332.9 269.0h.6M326.9 266.0h.6M321.2 265.8h.6M327.6 272.8h.6M327.5 265.6h.6M329.5 268.3h.6M325.8 266.2h.6M322.6 264.1h.6M326.4 261.5h.6M323.6 265.4h.6M333.3 264.3h.6M324.4 270.8h.6M324.6 263.0h.6M326.7 265.9h.6M322.4 270.0h.6M325.3 267.0h.6M326.4 269.4h.6M325.1 270.7h.6M326.0 261.0h.6M331.4 265.9h.6M328.5 263.7h.6M322.1 272.7h.6M325.4 267.0h.6M329.6 269.4h.6M324.6 274.1h.6M327.2 266.1h.6M326.8 267.7h.6M328.8 269.0h.6M326.3 266.4h.6M326.4 272.3h.6M323.8 270.6h.6M328.2 271.3h.6M323.6 267.6h.6M333.1 266.1h.6M326.8 266.1h.6M326.1 266.0h.6M329.7 261.1h.6M326.6 268.9h.6M327.2 270.6h.6M326.7 267.4h.6M324.3 265.5h.6M323.6 267.6h.6M324.4 268.3h.6M331.0 268.7h.6M324.6 274.4h.6M325.4 264.1h.6M325.3 268.9h.6M329.4 270.1h.6M334.0 267.8h.6M323.6 266.5h.6M328.9 263.5h.6M327.3 265.2h.6M325.8 270.2h.6M328.7 273.1h.6M322.3 264.9h.6M329.9 269.3h.6M327.7 269.5h.6M323.3 271.3h.6M332.6 268.4h.6M329.9 269.2h.6M331.1 270.9h.6M321.7 263.0h.6M325.9 267.6h.6M325.0 260.6h.6M329.1 259.9h.6M331.8 264.3h.6M320.1 261.5h.6M327.0 269.4h.6M326.4 271.3h.6M330.5 266.3h.6M326.8 266.9h.6M322.3 266.5h.6M326.2 266.4h.6M323.2 268.0h.6M324.1 268.8h.6M327.1 265.7h.6M325.2 264.4h.6M327.9 265.4h.6M321.5 270.5h.6M335.2 265.8h.6M331.4 273.0h.6M329.5 266.5h.6M322.3 272.7h.6M319.2 262.9h.6M323.8 264.8h.6M326.1 269.3h.6M334.9 269.3h.6M331.6 266.8h.6M325.0 275.3h.6M331.2 267.7h.6M331.3 268.5h.6M327.0 265.3h.6M331.3 273.8h.6M328.1 270.7h.6M324.6 269.0h.6M322.7 261.2h.6M326.5 268.8h.6M330.5 265.6h.6M322.0 268.9h.6M321.1 270.9h.6M328.9 264.6h.6M333.4 270.8h.6M325.3 268.1h.6M329.5 266.2h.6M333.6 263.4h.6" stroke="#444" stroke-width=".6" fill="none"/>
<path d="M323.4 268.4h.6M320.1 270.5h.6M332.5 272.0h.6M327.7 275.4h.6M320.4 269.9h.6M327.1 261.3h.6M333.8 271.9h.6M333.6 274.6h.6M323.1 265.4h.6M328.2 264.6h.6M325.0 273.8h.6M322.4 261.0h.6M324.2 265.6h.6M325.7 275.6h.6M324.0 270.9h.6M328.2 265.3h.6M322.9 260.2h.6M327.2 269.8h.6M335.0 270.1h.6M326.6 262.8h.6M328.9 268.5h.6M329.3 260.2h.6M328.5 270.3h.6M334.0 265.6h.6M320.9 272.4h.6M326.7 264.9h.6M327.9 263.7h.6M324.3 269.5h.6M323.8 274.1h.6M334.1 256.1h.6M323.1 268.0h.6M324.4 270.8h.6M325.5 259.7h.6M325.9 262.6h.6M327.9 270.9h.6M325.9 262.9h.6M329.1 263.9h.6M329.7 262.3h.6M334.6 262.7h.6M322.4 254.8h.6M336.1 261.4h.6M324.6 260.7h.6M327.9 274.0h.6M325.4 260.5h.6M335.9 271.5h.6M322.9 266.4h.6M322.7 271.7h.6M332.9 269.4h.6M327.4 263.2h.6M337.5 257.8h.6M336.3 262.4h.6M330.9 267.3h.6M328.4 265.4h.6M331.2 263.3h.6M319.8 272.6h.6M328.0 261.6h.6M327.8 272.2h.6M324.4 264.7h.6M328.4 267.9h.6M332.0 267.3h.6M334.1 263.1h.6M319.9 257.9h.6M327.8 267.2h.6M335.5 267.1h.6M329.3 271.8h.6M321.4 268.9h.6M321.6 261.8h.6M331.7 264.0h.6M337.1 253.9h.6M321.1 261.3h.6M327.2 274.4h.6M322.8 275.6h.6M325.5 271.5h.6M328.7 269.0h.6M326.8 270.5h.6M323.3 270.0h.6M338.5 257.9h.6M326.1 262.6h.6M326.0 273.8h.6M333.1 273.7h.6M327.1 268.6h.6M325.9 265.7h.6M332.2 265.2h.6M321.4 264.4h.6M331.1 262.3h.6M332.6 256.9h.6M330.6 268.1h.6M326.0 264.9h.6M327.0 266.2h.6M326.3 270.5h.6M328.6 263.5h.6M331.7 270.5h.6M327.8 259.2h.6M324.9 273.0h.6M322.4 268.8h.6M326.8 266.3h.6M327.7 270.4h.6M333.6 275.2h.6M327.1 264.8h.6M324.3 262.0h.6M324.4 267.4h.6M325.7 275.5h.6M320.5 263.8h.6M329.5 270.8h.6M326.6 265.8h.6M327.8 263.7h.6M333.3 275.8h.6M321.3 269.2h.6M333.2 256.3h.6M329.1 266.0h.6M323.1 262.3h.6M335.1 260.7h.6M319.2 264.1h.6M320.9 264.7h.6M325.9 267.5h.6M329.2 263.0h.6M326.0 257.2h.6M325.4 272.1h.6M326.5 259.9h.6M340.8 270.7h.6M334.5 269.8h.6M327.7 264.9h.6M321.1 269.0h.6M328.9 263.2h.6M320.7 265.1h.6M328.1 261.7h.6M329.0 269.9h.6M324.8 274.8h.6M328.3 263.6h.6M325.2 273.8h.6M323.9 255.7h.6M335.3 262.5h.6M330.1 261.8h.6M322.8 264.1h.6" stroke="#888" stroke-width=".6" fill="none"/>
<path d="M351.1 246.1h.6M345.3 248.6h.6M349.8 246.9h.6M350.5 245.6h.6M349.5 247.2h.6M343.9 248.8h.6M349.7 246.2h.6M351.2 246.1h.6M352.3 246.1h.6M350.3 246.4h.6M346.0 247.8h.6M349.2 247.3h.6M351.3 246.0h.6M348.1 248.5h.6M350.6 246.1h.6M348.4 246.8h.6M350.0 247.9h.6M351.5 247.8h.6M348.0 247.2h.6M355.5 245.1h.6M349.7 246.1h.6M350.4 247.3h.6M348.0 247.3h.6M349.5 246.3h.6M349.0 247.2h.6M346.6 248.4h.6M346.4 248.1h.6M350.5 247.9h.6M349.5 247.5h.6M344.0 248.5h.6M344.9 248.0h.6M348.9 247.3h.6M349.5 247.5h.6M350.9 247.0h.6M347.0 248.1h.6M350.8 246.6h.6M349.0 247.4h.6M348.6 247.8h.6M349.2 246.8h.6M351.4 245.5h.6M351.0 247.5h.6M351.5 246.6h.6M348.0 246.9h.6M348.9 247.1h.6M347.0 247.3h.6M348.1 246.1h.6M348.6 246.9h.6M348.3 246.2h.6M351.0 246.5h.6M350.4 246.5h.6M351.3 247.0h.6M349.8 246.7h.6M351.8 246.4h.6M349.7 246.6h.6M351.5 246.0h.6M350.4 245.7h.6M351.2 247.0h.6M349.4 246.9h.6M346.8 247.2h.6M346.5 247.7h.6M353.6 245.4h.6M350.2 246.2h.6M350.5 246.7h.6M349.3 247.6h.6M348.5 246.9h.6M355.4 244.3h.6M347.0 247.1h.6M349.6 247.9h.6M349.3 246.4h.6M347.3 248.1h.6M346.8 247.4h.6M348.1 247.6h.6M348.8 246.9h.6M348.2 246.2h.6M351.2 246.1h.6M347.3 248.7h.6M350.3 246.5h.6M352.7 246.3h.6M351.3 246.1h.6M347.1 247.4h.6M343.3 248.7h.6M351.4 246.6h.6M350.9 247.8h.6M348.3 247.1h.6M352.2 246.0h.6M348.5 246.6h.6M349.5 246.0h.6M347.0 246.5h.6M350.3 247.0h.6M348.3 246.0h.6M352.1 249.1h.6M350.9 249.2h.6M348.4 250.1h.6M346.5 249.9h.6M349.1 249.8h.6M349.0 248.8h.6M351.5 249.3h.6M347.4 250.4h.6M348.2 250.1h.6M348.9 249.7h.6M348.4 249.3h.6M347.6 249.3h.6M345.3 250.1h.6M345.5 250.7h.6M347.5 249.7h.6M348.6 250.3h.6M351.2 249.1h.6M354.1 249.8h.6M352.7 248.6h.6M349.9 249.5h.6M353.1 248.5h.6M348.8 249.9h.6M347.9 250.0h.6M354.0 248.5h.6M346.6 249.3h.6M348.1 249.3h.6M348.4 248.7h.6M352.2 248.7h.6M347.7 249.1h.6M350.8 249.8h.6M348.2 250.4h.6M346.3 249.5h.6M349.5 249.3h.6M349.4 249.6h.6M346.4 249.4h.6M347.1 249.5h.6M347.3 250.2h.6M351.1 249.5h.6M350.0 249.4h.6M349.5 249.1h.6M350.2 250.3h.6M347.9 249.2h.6M350.1 249.5h.6M347.6 249.0h.6M346.1 249.4h.6M347.5 249.7h.6M349.5 249.2h.6M349.2 249.8h.6M351.3 249.3h.6M345.2 249.0h.6M348.4 248.2h.6M349.9 250.0h.6M346.9 249.3h.6M349.6 250.3h.6M348.1 249.6h.6M346.5 249.3h.6M351.5 249.6h.6M346.0 249.6h.6M351.2 249.3h.6M348.1 249.0h.6M347.0 250.1h.6M347.1 250.3h.6M347.4 249.3h.6M347.3 250.7h.6M349.6 249.1h.6M344.9 250.0h.6M351.6 248.3h.6M350.7 248.2h.6M352.2 250.5h.6M346.9 250.5h.6M344.0 250.6h.6M347.6 248.6h.6M348.7 249.7h.6M349.7 249.7h.6M347.9 249.7h.6M348.9 249.7h.6M349.3 248.9h.6M345.6 249.7h.6M352.9 248.5h.6M346.5 249.5h.6M349.6 249.7h.6M351.3 248.8h.6M347.3 249.5h.6M349.0 249.2h.6M352.6 249.2h.6M348.5 250.1h.6M351.3 249.4h.6M349.7 249.7h.6M349.4 248.6h.6M350.6 249.2h.6" stroke="#000" stroke-width=".6" fill="none"/>
<path d="M347.0 245.1h.6M338.6 246.2h.6M340.9 248.0h.6M338.4 250.0h.6M349.5 244.4h.6M340.6 245.4h.6M339.4 248.0h.6M346.2 247.7h.6M348.3 244.9h.6M345.3 244.6h.6M347.8 245.6h.6M344.2 248.5h.6M342.4 247.5h.6M341.0 248.8h.6M340.5 247.5h.6M340.1 247.7h.6M345.0 248.2h.6M342.5 247.3h.6M343.5 247.8h.6M345.9 245.8h.6M342.7 246.6h.6M336.3 248.8h.6M339.1 247.5h.6M337.4 246.8h.6M333.6 249.3h.6M343.6 248.2h.6M337.1 248.0h.6M336.6 246.9h.6M337.8 249.3h.6M347.7 250.8h.6M341.4 246.4h.6M347.8 244.7h.6M342.5 246.3h.6M340.7 246.3h.6M345.7 245.3h.6M345.8 245.4h.6M343.7 248.7h.6M338.0 249.2h.6M340.9 249.9h.6M337.2 249.1h.6M341.7 246.9h.6M343.6 249.0h.6M350.3 245.9h.6M350.0 246.3h.6M346.2 245.4h.6M347.9 248.9h.6M344.3 248.9h.6M356.8 245.6h.6M350.6 246.3h.6M356.2 246.4h.6M344.9 247.6h.6M345.2 248.5h.6M348.3 247.1h.6M344.0 248.0h.6M344.4 245.1h.6M338.1 247.4h.6M347.5 244.4h.6M343.9 250.1h.6M347.2 249.2h.6M342.0 248.6h.6M334.3 249.9h.6M345.8 250.2h.6M348.9 248.4h.6M336.4 245.6h.6M338.1 247.6h.6M341.2 244.1h.6M341.7 246.3h.6M334.4 246.3h.6M351.7 246.7h.6M348.1 247.6h.6M339.8 246.3h.6M333.9 247.8h.6M344.8 247.7h.6M352.9 246.4h.6M347.1 246.8h.6M348.4 243.4h.6M338.3 247.2h.6M344.3 248.5h.6M335.6 248.5h.6M352.7 244.4h.6M345.8 246.8h.6M332.5 248.8h.6M333.7 246.8h.6M345.5 248.2h.6M343.6 246.2h.6M341.4 247.1h.6M346.0 247.0h.6M353.3 249.9h.6M344.8 246.8h.6M333.9 247.4h.6M342.3 248.6h.6M336.4 247.3h.6M339.0 248.1h.6M344.3 243.9h.6M342.2 248.0h.6M337.7 247.9h.6M342.7 245.5h.6M339.1 249.8h.6M345.6 246.9h.6M341.7 247.3h.6M344.7 245.3h.6M341.4 245.1h.6M346.6 246.3h.6M342.1 245.2h.6M343.0 248.2h.6M340.3 249.0h.6M343.6 246.4h.6M333.9 245.8h.6M356.2 245.7h.6M339.4 246.2h.6M343.5 247.7h.6M340.6 247.9h.6M340.5 247.0h.6M345.0 247.4h.6M340.5 249.2h.6M341.0 250.2h.6M336.0 247.3h.6M338.4 248.9h.6M337.1 247.6h.6M351.8 245.1h.6M343.1 262.6h.6M341.5 261.2h.6M339.3 270.7h.6M340.9 264.4h.6M340.5 260.5h.6M337.7 266.0h.6M345.3 255.6h.6M344.1 252.5h.6M341.4 260.1h.6M341.9 265.4h.6M345.0 251.4h.6M339.7 264.7h.6M341.3 264.8h.6M340.8 257.0h.6M342.0 261.0h.6M340.7 258.3h.6M345.7 261.2h.6M339.5 264.2h.6M342.7 255.6h.6M340.8 265.7h.6M339.4 264.5h.6M341.9 265.2h.6M342.7 249.0h.6M341.9 249.5h.6M340.3 263.7h.6M340.0 256.4h.6M344.0 256.5h.6M342.9 255.9h.6M344.2 252.8h.6M338.6 257.8h.6M342.2 256.0h.6M340.1 256.0h.6M340.6 262.5h.6M344.6 253.8h.6M340.4 266.1h.6M342.8 247.6h.6M340.7 274.1h.6M344.3 252.7h.6M344.0 263.7h.6M336.4 264.2h.6M341.6 260.0h.6M339.4 263.8h.6M339.3 259.0h.6M342.9 250.2h.6M338.3 261.4h.6M335.4 265.4h.6M339.7 256.5h.6M342.1 250.4h.6M345.2 257.2h.6M339.2 261.4h.6M338.3 261.1h.6M336.0 265.3h.6M339.7 262.8h.6M340.0 262.6h.6M343.2 248.9h.6M335.9 271.6h.6M339.4 259.9h.6M335.6 263.8h.6M341.6 258.0h.6M338.0 258.5h.6M335.5 259.2h.6M341.7 269.0h.6M340.5 268.4h.6M341.0 263.4h.6M339.7 270.9h.6M339.3 257.3h.6M342.5 263.1h.6M339.3 257.0h.6M343.4 267.7h.6M341.3 260.2h.6M336.4 264.6h.6M341.0 269.7h.6M346.8 249.1h.6M338.3 271.8h.6M342.7 262.0h.6M340.8 258.1h.6M341.6 249.1h.6M336.1 257.3h.6M345.6 247.6h.6M340.0 260.2h.6M341.8 259.1h.6M336.9 269.6h.6M339.5 257.8h.6M342.1 266.2h.6M339.0 266.2h.6M338.1 271.2h.6M338.7 258.1h.6M340.6 264.2h.6M344.0 251.8h.6M341.1 253.6h.6M340.8 258.3h.6M338.6 259.4h.6M344.9 253.7h.6M340.1 257.4h.6M339.9 263.8h.6M344.7 258.0h.6M340.6 259.0h.6M338.7 254.5h.6M337.8 267.3h.6M338.5 269.7h.6M344.3 261.7h.6M341.5 259.4h.6M338.9 269.1h.6M342.1 262.9h.6M344.2 256.7h.6M340.8 252.2h.6M344.3 257.2h.6M340.5 272.4h.6M342.4 256.8h.6M333.4 275.2h.6M341.3 260.0h.6M343.9 259.2h.6M339.1 267.2h.6M345.8 259.4h.6M340.7 262.1h.6M340.0 253.8h.6M343.3 253.3h.6M342.3 256.0h.6M342.4 261.5h.6M341.2 256.2h.6M345.5 249.5h.6M339.4 262.4h.6M341.4 259.1h.6M338.8 258.0h.6M340.0 256.3h.6M343.6 247.5h.6M338.1 268.6h.6M340.5 257.1h.6M340.0 262.8h.6M340.1 267.8h.6M341.4 266.5h.6M342.3 261.4h.6M343.0 260.4h.6M341.1 261.8h.6M339.0 264.8h.6M337.2 262.6h.6M340.7 257.4h.6M338.9 262.2h.6M337.0 261.4h.6M343.6 264.4h.6M337.1 260.5h.6M340.3 267.7h.6M341.9 261.3h.6M339.6 264.8h.6M346.1 261.1h.6M341.6 256.8h.6M340.4 254.5h.6M344.6 259.7h.6M338.8 262.7h.6M336.9 266.5h.6M339.0 259.1h.6M340.2 256.9h.6M341.5 257.2h.6M340.4 267.3h.6M337.8 260.0h.6M342.1 257.3h.6M344.7 264.9h.6M340.8 252.4h.6M340.6 260.6h.6M342.4 260.0h.6M343.5 259.7h.6M340.8 253.3h.6M338.1 265.1h.6M337.3 269.0h.6M344.4 253.0h.6M342.6 261.0h.6M336.0 262.8h.6M334.5 271.8h.6M338.9 257.2h.6M338.9 254.2h.6" stroke="#777" stroke-width=".6" fill="none"/>
<path d="M333.0 247.5h.6M345.4 254.1h.6M333.4 258.0h.6M334.6 256.8h.6M343.9 254.5h.6M319.9 249.9h.6M319.7 244.4h.6M338.6 251.1h.6M337.8 248.3h.6M324.5 256.2h.6M336.2 251.2h.6M333.3 255.5h.6M334.3 242.1h.6M328.0 258.0h.6M330.2 246.8h.6M327.6 242.4h.6M333.3 243.5h.6M331.6 248.1h.6M343.4 258.9h.6M336.9 256.4h.6M323.3 244.8h.6M335.6 252.5h.6M341.8 251.4h.6M334.7 242.4h.6M339.7 245.9h.6M332.8 239.5h.6M337.3 246.6h.6M327.2 235.7h.6M337.8 247.1h.6M324.5 246.2h.6M340.9 247.1h.6M323.7 246.9h.6M320.0 259.1h.6M336.3 249.9h.6M331.9 253.5h.6M333.7 256.6h.6M335.6 257.5h.6M332.8 256.2h.6M327.6 248.6h.6M334.3 245.3h.6M335.1 247.2h.6M336.0 249.1h.6M345.2 252.0h.6M328.5 251.5h.6M333.4 258.7h.6M336.4 251.4h.6M330.2 263.0h.6M325.6 258.3h.6M329.5 249.0h.6M339.5 257.3h.6M331.3 234.3h.6M336.8 260.5h.6M328.5 254.5h.6M335.7 254.4h.6M328.8 241.7h.6M327.8 267.5h.6M333.7 250.4h.6M333.3 251.1h.6M342.1 258.9h.6M323.0 250.8h.6M336.1 246.8h.6M342.9 256.0h.6M341.4 245.8h.6M330.6 256.6h.6M328.8 252.8h.6M330.0 258.9h.6M334.9 244.6h.6M334.2 259.6h.6M335.2 253.8h.6M336.7 264.1h.6M326.4 248.0h.6M326.1 263.4h.6M325.5 256.3h.6M324.7 256.8h.6M332.4 247.5h.6M334.9 255.4h.6M348.6 256.1h.6M336.3 246.9h.6M333.1 244.9h.6M341.7 247.3h.6" stroke="#999" stroke-width=".6" fill="none"/>
<path d="M320.7 272.6h.6M323.4 259.4h.6M320.9 261.3h.6M325.8 270.5h.6M321.4 260.7h.6M334.6 267.4h.6M332.4 267.7h.6M328.9 259.5h.6M322.2 273.8h.6M322.6 272.3h.6M329.1 273.2h.6M334.4 270.7h.6M334.9 264.1h.6M334.8 271.5h.6M324.5 269.3h.6M330.9 270.2h.6M327.8 272.5h.6M328.4 264.2h.6M330.5 275.5h.6M324.0 267.3h.6M323.6 264.7h.6M326.0 268.5h.6M333.6 271.7h.6M325.2 260.7h.6M319.7 264.0h.6M329.8 271.1h.6M328.3 268.7h.6M323.8 268.7h.6M334.3 259.0h.6M329.7 261.8h.6M329.5 273.5h.6M326.8 263.4h.6M332.1 268.7h.6M330.4 271.3h.6M328.3 269.7h.6M324.7 272.8h.6M332.3 270.6h.6M334.5 264.6h.6M320.6 269.5h.6M319.4 271.5h.6M320.7 260.2h.6M329.5 270.1h.6M335.6 274.5h.6M335.1 259.6h.6M326.2 260.5h.6M325.3 274.4h.6M328.1 263.4h.6M329.1 275.4h.6M333.9 272.8h.6M323.8 270.2h.6M333.5 266.9h.6M320.3 275.4h.6M322.5 270.3h.6M326.1 260.7h.6M320.3 272.1h.6M324.9 265.0h.6M319.5 261.4h.6M332.7 265.6h.6M330.5 274.5h.6M323.4 272.4h.6M327.9 265.8h.6M325.6 273.8h.6M332.9 269.1h.6M324.0 265.1h.6M323.0 260.8h.6M332.2 271.3h.6M331.9 263.5h.6M331.0 268.1h.6M320.1 263.3h.6M319.7 270.4h.6M334.8 260.1h.6M335.5 264.0h.6M322.5 270.3h.6M327.4 274.2h.6M326.9 272.1h.6M323.8 264.2h.6M320.3 266.2h.6M323.3 268.0h.6M326.5 262.2h.6M322.5 273.2h.6M320.3 261.0h.6M330.0 274.1h.6M333.3 261.0h.6M323.3 265.9h.6" stroke="#aaa" stroke-width=".6" fill="none"/>
<path d="M336.3 266.0h.6M350.1 247.8h.6M333.9 252.6h.6M356.5 267.9h.6M364.7 261.9h.6M352.4 253.3h.6M320.3 242.9h.6M323.7 232.8h.6" stroke="#666" stroke-width=".6" fill="none"/>
</g>
<line x1="336" y1="228.1" x2="336" y2="277" stroke="#777" stroke-width="0.8"/>
<line x1="318.3" y1="258.2" x2="367.4" y2="258.2" stroke="#777" stroke-width="0.8"/>
<rect x="318.3" y="228.1" width="49.1" height="48.9" fill="none" stroke="#888" stroke-width="0.9"/>
<text x="350.7" y="234.1" font-size="6" stroke="#000" textLength="16" lengthAdjust="spacingAndGlyphs" font-weight="bold" style="stroke-width:0">28.8%</text>
<text x="353.9" y="275.8" font-size="6" stroke="#000" textLength="12.8" lengthAdjust="spacingAndGlyphs" font-weight="bold" style="stroke-width:0">8.0%</text>
<text x="222" y="206.98" font-size="6.8" stroke="#000" textLength="32.2" lengthAdjust="spacingAndGlyphs">Control IgG</text>
<text x="219.2" y="253.18" font-size="6.8" stroke="#000" textLength="35" lengthAdjust="spacingAndGlyphs">anti-CD137L</text>
<line x1="259.2" y1="250" x2="259.2" y2="184.5" stroke="#000" stroke-width="0.9"/>
<path d="M257.3 185.5L259.2 180.8L261.1 185.5Z" fill="#000"/>
<text x="261.6" y="276.15" font-size="9.2" text-anchor="start" textLength="23.9" lengthAdjust="spacingAndGlyphs" transform="rotate(-90 261.6 276.15)" stroke="#000">7-AAD</text>
<text x="267.4" y="287.12" font-size="9.2" stroke="#000" textLength="37.6" lengthAdjust="spacingAndGlyphs">Annexin V</text>
<line x1="308.5" y1="284.3" x2="355.5" y2="284.3" stroke="#000" stroke-width="0.9"/>
<path d="M354.5 282.4L359.2 284.3L354.5 286.2Z" fill="#000"/>
<text x="408.4" y="171.7" font-size="10" stroke="#000" textLength="62.6" lengthAdjust="spacingAndGlyphs">Apoptotic cells</text>
<text x="394.5" y="195" font-size="6.6" stroke="#000" textLength="9.5" lengthAdjust="spacingAndGlyphs">(%)</text>
<line x1="410.3" y1="197.3" x2="410.3" y2="271.3" stroke="#000" stroke-width="1.2"/>
<line x1="409.7" y1="270.7" x2="463.5" y2="270.7" stroke="#000" stroke-width="1.2"/>
<line x1="407.1" y1="270.7" x2="410.3" y2="270.7" stroke="#000" stroke-width="0.9"/>
<text x="401.2" y="273.08" font-size="6.6" stroke="#000" textLength="3.3" lengthAdjust="spacingAndGlyphs">0</text>
<line x1="407.1" y1="247.3" x2="410.3" y2="247.3" stroke="#000" stroke-width="0.9"/>
<text x="397.9" y="249.68" font-size="6.6" stroke="#000" textLength="6.6" lengthAdjust="spacingAndGlyphs">10</text>
<line x1="407.1" y1="223.9" x2="410.3" y2="223.9" stroke="#000" stroke-width="0.9"/>
<text x="397.9" y="226.28" font-size="6.6" stroke="#000" textLength="6.6" lengthAdjust="spacingAndGlyphs">20</text>
<line x1="407.1" y1="200.5" x2="410.3" y2="200.5" stroke="#000" stroke-width="0.9"/>
<text x="397.9" y="202.88" font-size="6.6" stroke="#000" textLength="6.6" lengthAdjust="spacingAndGlyphs">30</text>
<line x1="418.45" y1="244.49" x2="418.45" y2="246.83" stroke="#222" stroke-width="1.1"/>
<line x1="416.75" y1="244.49" x2="420.15" y2="244.49" stroke="#222" stroke-width="1.1"/>
<line x1="416.75" y1="246.83" x2="420.15" y2="246.83" stroke="#222" stroke-width="1.1"/>
<rect x="414" y="246.83" width="8.9" height="23.87" fill="#6ca840"/>
<line x1="429.3" y1="209.39" x2="429.3" y2="215.01" stroke="#222" stroke-width="1.1"/>
<line x1="427.6" y1="209.39" x2="431" y2="209.39" stroke="#222" stroke-width="1.1"/>
<line x1="427.6" y1="215.01" x2="431" y2="215.01" stroke="#222" stroke-width="1.1"/>
<rect x="425" y="215.01" width="8.6" height="55.69" fill="#a5002d"/>
<line x1="444.2" y1="262.28" x2="444.2" y2="262.74" stroke="#222" stroke-width="1.1"/>
<line x1="442.5" y1="262.28" x2="445.9" y2="262.28" stroke="#222" stroke-width="1.1"/>
<line x1="442.5" y1="262.74" x2="445.9" y2="262.74" stroke="#222" stroke-width="1.1"/>
<rect x="439.8" y="262.74" width="8.8" height="7.96" fill="#6ca840"/>
<line x1="454.9" y1="249.87" x2="454.9" y2="251.04" stroke="#222" stroke-width="1.1"/>
<line x1="453.2" y1="249.87" x2="456.6" y2="249.87" stroke="#222" stroke-width="1.1"/>
<line x1="453.2" y1="251.04" x2="456.6" y2="251.04" stroke="#222" stroke-width="1.1"/>
<rect x="450.6" y="251.04" width="8.6" height="19.66" fill="#a5002d"/>
<polyline points="418.1,207.3 418.1,206.3 429.6,206.3 429.6,207.3" fill="none" stroke="#000" stroke-width="0.9"/>
<text x="421.82" y="205.96" font-size="5.2" stroke="#000" textLength="4.16" lengthAdjust="spacingAndGlyphs">**</text>
<polyline points="443.2,227.3 443.2,226.3 454.8,226.3 454.8,227.3" fill="none" stroke="#000" stroke-width="0.9"/>
<text x="446.92" y="226.16" font-size="5.2" stroke="#000" textLength="4.16" lengthAdjust="spacingAndGlyphs">**</text>
<text x="377.3" y="281.31" font-size="6.6" stroke="#000" textLength="34.6" lengthAdjust="spacingAndGlyphs">anti-CD137L</text>
<text x="418.4" y="280.8" font-size="6" text-anchor="middle" stroke="#000">-</text>
<text x="429.3" y="280.8" font-size="6" text-anchor="middle" stroke="#000">+</text>
<text x="444.2" y="280.8" font-size="6" text-anchor="middle" stroke="#000">-</text>
<text x="454.9" y="280.8" font-size="6" text-anchor="middle" stroke="#000">+</text>
<line x1="414.6" y1="282" x2="431.5" y2="282" stroke="#000" stroke-width="0.9"/>
<line x1="440.2" y1="282" x2="458" y2="282" stroke="#000" stroke-width="0.9"/>
<text x="414.2" y="291.71" font-size="6.6" stroke="#000" textLength="17.3" lengthAdjust="spacingAndGlyphs">Hut78</text>
<text x="442.1" y="291.71" font-size="6.6" stroke="#000" textLength="14.8" lengthAdjust="spacingAndGlyphs">MyLa</text>
<text x="79.8" y="335.51" font-size="8.6" stroke="#000" textLength="15.8" lengthAdjust="spacingAndGlyphs">EL-4</text>
<text x="41.3" y="346.78" font-size="6.8" stroke="#000" textLength="32.4" lengthAdjust="spacingAndGlyphs">Control IgG</text>
<text x="100" y="346.58" font-size="6.8" stroke="#000" textLength="38" lengthAdjust="spacingAndGlyphs">anti-CD137L</text>
<rect x="30.6" y="351.2" width="54.3" height="53.9" fill="#fff"/>
<g filter="url(#bl)">
<path d="M40.2 390.8h.6M40.7 392.2h.6M41.0 391.8h.6M38.8 391.1h.6M48.2 392.1h.6M43.7 389.6h.6M36.2 392.2h.6M39.2 388.7h.6M38.4 390.2h.6M43.6 390.5h.6M46.3 394.2h.6M39.6 393.3h.6M44.8 392.4h.6M41.9 389.6h.6M46.5 391.3h.6M47.2 394.0h.6M43.8 395.1h.6M45.1 388.9h.6M42.8 391.2h.6M41.6 392.5h.6M39.0 393.0h.6M43.9 392.2h.6M42.6 393.7h.6M41.6 388.9h.6M42.6 395.8h.6M42.2 389.6h.6M39.4 392.4h.6M41.1 393.4h.6M46.5 394.9h.6M42.0 394.3h.6M47.3 394.2h.6M39.1 395.1h.6M38.4 391.9h.6M43.2 393.9h.6M45.3 395.7h.6M40.7 390.5h.6M44.8 389.0h.6M45.8 389.9h.6M46.3 395.5h.6M42.4 395.1h.6M42.6 391.4h.6M37.4 392.8h.6M42.9 393.3h.6M43.7 394.6h.6M47.4 387.9h.6M38.7 391.0h.6M40.1 391.6h.6M39.6 393.0h.6M45.7 392.4h.6M34.6 391.5h.6M39.3 392.9h.6M49.5 386.4h.6M44.9 399.3h.6M38.5 394.1h.6M42.6 394.3h.6M45.5 390.7h.6M44.6 393.2h.6M42.1 397.0h.6M40.2 396.4h.6M45.5 392.4h.6M42.8 389.4h.6M45.4 392.6h.6M44.1 391.6h.6M41.3 394.2h.6M47.5 389.3h.6M41.2 391.8h.6M44.2 392.9h.6M40.8 391.2h.6M42.1 394.7h.6M42.0 389.7h.6M40.7 389.4h.6M43.6 391.5h.6M47.0 394.2h.6M48.8 391.6h.6M47.4 390.9h.6M42.2 394.1h.6M47.5 392.8h.6M44.2 391.0h.6M48.6 392.5h.6M38.7 391.7h.6M47.6 393.7h.6M40.9 392.6h.6M46.5 390.4h.6M41.3 391.2h.6M45.7 391.3h.6M41.9 393.1h.6M36.7 393.1h.6M39.7 390.3h.6M42.0 391.8h.6M42.9 393.0h.6M35.6 394.8h.6M38.9 392.8h.6M40.4 396.7h.6M42.1 392.3h.6M43.5 393.9h.6M40.2 391.5h.6M37.9 390.0h.6M43.8 392.5h.6M41.7 393.4h.6M45.7 393.0h.6M41.1 392.6h.6M44.9 391.5h.6M39.9 390.4h.6M43.7 391.6h.6M43.1 393.3h.6M44.3 394.5h.6M39.8 384.7h.6M42.4 393.7h.6M40.1 394.7h.6M42.3 395.2h.6M44.8 393.1h.6M52.4 393.8h.6M42.9 391.2h.6M45.1 392.1h.6M43.2 393.5h.6M46.5 389.7h.6M44.3 390.4h.6M46.2 392.7h.6M43.9 389.2h.6M50.5 392.4h.6M47.2 388.8h.6M37.3 392.7h.6M43.8 392.3h.6M43.1 391.0h.6M35.7 390.1h.6M40.0 391.1h.6M41.3 387.1h.6M40.4 391.3h.6M43.2 392.5h.6M37.0 395.0h.6M45.2 391.1h.6M45.3 391.9h.6M43.9 395.5h.6M41.7 396.2h.6M42.8 391.1h.6M41.3 394.7h.6M46.5 395.0h.6M44.4 393.4h.6M49.2 390.0h.6M41.6 390.1h.6M47.5 393.6h.6M41.0 397.6h.6M42.3 391.8h.6M39.5 395.9h.6M44.5 396.6h.6M42.6 389.4h.6M44.8 390.9h.6M47.6 395.7h.6M42.6 394.5h.6M44.0 393.5h.6M45.7 392.2h.6M42.6 393.7h.6M41.1 390.8h.6M44.0 398.0h.6M44.4 389.6h.6M45.3 388.1h.6M45.5 392.6h.6M40.7 395.6h.6M44.2 391.1h.6M46.8 392.1h.6M41.3 389.9h.6M44.0 392.1h.6M40.8 389.9h.6M43.4 389.9h.6M48.4 388.9h.6M43.4 391.0h.6M39.7 396.5h.6M43.9 392.1h.6M43.5 392.7h.6M46.4 397.4h.6M38.4 390.8h.6M39.9 390.0h.6M42.6 393.5h.6M37.8 389.4h.6M46.5 393.0h.6M36.3 394.9h.6M40.2 389.8h.6M38.1 391.1h.6M40.7 396.2h.6M45.4 389.8h.6M44.8 390.7h.6M45.8 392.8h.6M44.8 391.5h.6M36.3 390.3h.6M43.8 395.9h.6M36.9 390.9h.6M41.2 393.0h.6M41.6 391.3h.6M41.1 391.7h.6M44.4 389.1h.6M40.2 394.4h.6M48.4 391.3h.6M44.7 395.2h.6M46.6 389.6h.6M45.3 391.1h.6M45.7 393.4h.6M42.7 392.5h.6M49.1 390.7h.6M39.4 391.9h.6M44.3 389.3h.6M42.8 392.4h.6M42.1 386.1h.6M43.8 392.7h.6M40.4 395.4h.6M45.6 394.3h.6M45.3 394.2h.6M43.1 391.3h.6M45.2 393.4h.6M39.5 391.3h.6M37.0 392.0h.6M41.0 392.0h.6M42.1 384.5h.6M50.8 394.4h.6M42.1 393.3h.6M46.1 394.2h.6M45.5 390.1h.6M49.6 393.9h.6M43.2 393.4h.6M44.9 387.1h.6M42.2 388.2h.6M40.1 392.4h.6M39.6 390.7h.6M40.3 392.2h.6M47.4 390.8h.6M43.7 395.7h.6M42.3 387.9h.6M42.9 389.1h.6M41.0 390.0h.6M42.7 389.1h.6M42.7 390.9h.6M44.9 392.2h.6M45.8 389.2h.6M37.6 393.1h.6M43.6 395.3h.6M47.2 394.8h.6M39.6 396.9h.6M42.0 394.9h.6M43.4 392.2h.6M46.4 396.4h.6M44.7 393.9h.6M42.1 396.6h.6M44.4 391.8h.6M46.2 387.4h.6M44.1 389.6h.6M48.8 392.7h.6M44.2 393.5h.6M39.5 391.8h.6M40.3 394.6h.6M42.4 389.6h.6M42.2 390.6h.6M44.8 394.6h.6M44.0 392.4h.6M48.3 392.5h.6M45.4 395.5h.6M47.6 394.8h.6M40.4 390.4h.6M41.5 392.7h.6M45.0 388.3h.6M43.1 392.3h.6M44.9 393.2h.6M43.6 388.3h.6M40.9 395.9h.6M48.3 396.9h.6M46.5 393.4h.6M37.9 394.4h.6M40.9 395.8h.6M42.9 391.9h.6M45.0 394.7h.6M42.6 393.2h.6M38.5 388.8h.6M45.5 390.2h.6M42.2 391.0h.6M46.7 394.8h.6M43.8 392.5h.6M46.1 394.6h.6M45.5 391.2h.6M45.7 389.3h.6M41.2 397.1h.6M46.1 398.6h.6M43.5 393.2h.6M38.9 391.8h.6M41.6 395.0h.6M41.8 389.7h.6M44.4 391.8h.6M45.1 389.0h.6M39.3 393.4h.6M45.2 392.9h.6M42.7 391.4h.6M39.5 390.8h.6M45.5 388.8h.6M40.4 390.4h.6M39.1 395.1h.6M45.3 391.5h.6M45.7 395.2h.6M40.8 390.3h.6M46.3 392.1h.6M46.1 391.2h.6M41.2 391.7h.6M49.3 394.1h.6M42.7 387.6h.6M43.6 394.0h.6M35.3 393.9h.6M44.9 392.3h.6M40.9 392.5h.6M44.3 391.8h.6M37.4 393.9h.6M46.6 392.4h.6M47.5 390.3h.6M48.9 392.7h.6M33.5 394.5h.6M44.8 393.2h.6M44.0 392.4h.6M33.2 392.8h.6M40.6 391.2h.6M42.6 391.2h.6M47.4 388.0h.6M40.2 391.9h.6M43.6 394.6h.6M42.7 391.4h.6M44.1 390.2h.6M41.6 394.4h.6M45.8 392.7h.6M46.0 392.6h.6M38.6 393.4h.6M46.5 393.9h.6M40.5 392.2h.6M42.0 390.4h.6M46.5 396.3h.6M43.2 392.4h.6M44.8 390.5h.6M45.4 392.7h.6M44.8 395.0h.6M41.2 389.0h.6M39.9 395.3h.6M45.1 392.0h.6M45.4 396.9h.6M44.1 393.8h.6M42.3 392.1h.6M45.7 395.2h.6M42.9 395.2h.6M38.6 391.5h.6M43.8 392.8h.6M44.6 391.1h.6M45.4 394.4h.6M40.1 389.1h.6M40.6 391.9h.6M44.0 387.4h.6M41.5 393.7h.6M42.8 387.2h.6M46.0 389.9h.6M44.2 392.9h.6M48.8 391.5h.6M43.9 391.3h.6M48.4 390.1h.6M46.4 391.2h.6M51.1 388.3h.6M43.1 393.0h.6M42.7 394.2h.6M47.2 394.1h.6M41.4 392.2h.6M41.5 395.1h.6M43.8 393.4h.6M44.2 394.5h.6M38.6 393.2h.6M43.8 392.4h.6M42.1 390.6h.6M43.0 386.3h.6M43.6 393.8h.6M42.4 392.0h.6M46.5 396.9h.6M44.6 387.8h.6M42.5 394.2h.6M43.3 390.1h.6M46.4 392.3h.6M45.6 390.3h.6M47.1 393.1h.6M42.6 392.2h.6M43.5 394.3h.6M49.5 392.6h.6M43.0 393.4h.6M48.4 395.2h.6M45.8 393.5h.6M41.7 392.0h.6M38.7 395.1h.6M45.1 392.1h.6M40.9 393.2h.6M40.9 391.6h.6M37.6 390.8h.6M46.9 385.5h.6M43.4 393.9h.6M43.2 389.7h.6M44.4 394.0h.6M43.9 396.4h.6M43.4 389.3h.6M44.8 394.3h.6M42.3 392.1h.6M34.9 393.4h.6M45.5 389.6h.6M44.5 392.4h.6M43.2 392.7h.6M48.2 395.6h.6M38.7 397.2h.6M33.9 393.0h.6M47.9 391.5h.6M44.5 397.4h.6M37.9 392.1h.6M41.8 392.2h.6M45.1 392.6h.6M39.3 393.4h.6M44.9 393.9h.6M49.9 391.0h.6M47.6 392.1h.6M43.0 396.6h.6M44.2 396.0h.6M40.1 393.3h.6M43.6 393.0h.6M42.1 391.8h.6M40.0 394.7h.6M38.9 391.2h.6M49.3 392.6h.6M43.4 391.3h.6M39.9 390.9h.6M41.8 392.4h.6M47.9 392.3h.6M48.3 391.0h.6M41.2 392.2h.6M43.8 392.5h.6M46.0 391.3h.6M42.0 390.8h.6M39.4 392.0h.6M40.0 393.9h.6M43.2 394.9h.6M40.7 392.8h.6M39.0 391.7h.6M42.4 392.3h.6M46.1 396.7h.6M45.3 394.4h.6M42.4 390.2h.6M49.2 392.2h.6M40.6 391.1h.6M42.9 391.5h.6M38.8 388.5h.6M45.6 392.4h.6M42.7 389.2h.6M37.8 391.0h.6M40.5 395.8h.6M48.8 394.6h.6M45.4 390.4h.6M43.5 390.0h.6M45.9 390.3h.6M38.0 388.0h.6M40.5 390.1h.6M38.9 391.7h.6M40.5 390.0h.6M41.9 394.1h.6M44.8 392.2h.6M46.3 391.1h.6M46.2 396.3h.6M51.6 394.0h.6M41.5 392.5h.6M43.0 396.6h.6M44.7 395.3h.6M40.5 390.7h.6M42.2 393.1h.6M44.4 391.3h.6M40.3 389.1h.6M44.6 396.7h.6M47.0 395.8h.6M39.6 389.4h.6M35.8 393.5h.6M43.4 388.6h.6M39.8 394.8h.6M43.6 392.2h.6M41.7 391.7h.6M44.1 395.2h.6M46.7 392.4h.6M45.7 391.8h.6M42.0 394.4h.6M39.4 391.7h.6M35.2 394.3h.6M36.2 392.3h.6M40.6 394.2h.6M43.4 393.8h.6M40.9 394.2h.6M41.2 390.0h.6M38.0 396.7h.6M37.8 392.0h.6M37.6 396.4h.6M45.0 391.0h.6M36.7 391.7h.6M45.2 391.7h.6M40.1 395.0h.6M44.7 391.4h.6M43.7 393.3h.6M45.4 388.7h.6M46.7 391.2h.6M40.4 392.9h.6M39.8 392.1h.6M41.5 388.0h.6M40.4 393.5h.6M45.0 390.1h.6M42.5 396.8h.6M42.9 391.9h.6M44.2 397.6h.6M41.4 393.9h.6M46.3 393.4h.6M37.0 391.2h.6M43.6 392.1h.6M44.4 393.4h.6M40.4 387.9h.6M40.6 394.6h.6M45.7 389.6h.6M41.8 391.7h.6M36.7 386.0h.6M38.5 393.4h.6M46.0 394.1h.6M40.0 393.0h.6M47.0 393.1h.6M47.2 391.5h.6M42.2 392.7h.6M44.5 395.1h.6M40.2 391.4h.6M41.5 393.5h.6M40.6 394.0h.6M44.7 391.8h.6M38.7 392.9h.6M42.4 392.9h.6M43.0 391.2h.6M44.4 398.0h.6M36.0 391.3h.6M37.1 396.3h.6M40.0 394.8h.6M42.1 387.6h.6M43.2 392.9h.6M43.4 394.7h.6M49.2 394.2h.6M44.9 390.2h.6M44.6 392.9h.6M41.2 389.6h.6M45.3 389.9h.6M45.0 391.8h.6M44.9 392.8h.6M42.4 396.1h.6M44.8 393.2h.6M47.6 394.8h.6M40.2 389.6h.6M35.9 389.7h.6M45.4 391.2h.6M45.1 396.4h.6M42.0 389.2h.6M41.3 388.7h.6M51.5 392.2h.6M41.3 395.1h.6M38.9 388.5h.6M41.2 391.8h.6M44.4 389.2h.6M40.8 395.7h.6M41.5 393.9h.6M43.7 393.0h.6M41.4 392.2h.6M43.2 391.8h.6M42.6 392.7h.6M39.4 390.8h.6M43.0 390.3h.6M39.1 389.7h.6M45.7 392.4h.6M39.8 390.5h.6M42.0 394.4h.6M37.0 387.4h.6M41.3 393.7h.6M38.8 393.6h.6M47.5 395.2h.6M42.4 391.7h.6M44.4 388.8h.6M37.2 390.2h.6M38.8 395.0h.6M42.2 391.6h.6M38.4 391.4h.6M46.4 391.0h.6M41.5 392.2h.6M43.2 391.8h.6M43.7 388.7h.6M42.3 390.9h.6M45.2 394.7h.6M40.6 395.7h.6M43.9 392.0h.6M46.5 391.1h.6M43.4 395.5h.6M43.1 391.9h.6M41.7 389.6h.6M42.9 392.0h.6M44.9 393.9h.6M41.9 396.0h.6M37.4 391.2h.6M43.2 393.6h.6M42.2 391.6h.6M44.2 395.0h.6M42.8 392.9h.6M47.7 392.9h.6M38.9 390.0h.6M39.7 391.6h.6M44.8 391.6h.6M39.5 383.9h.6M43.7 394.3h.6M42.7 392.3h.6M36.5 391.8h.6M44.8 391.5h.6M47.0 392.4h.6M43.4 392.9h.6M38.3 389.3h.6M45.2 392.6h.6M39.4 392.6h.6M42.3 392.4h.6M44.0 388.9h.6M40.3 392.0h.6M37.4 389.3h.6M42.3 393.1h.6M42.6 395.4h.6M40.0 394.4h.6M40.3 391.5h.6M45.0 391.1h.6M42.4 391.0h.6M41.2 393.1h.6M40.8 390.8h.6M43.2 391.1h.6M43.0 386.5h.6M42.2 390.3h.6M38.3 390.5h.6M41.5 391.1h.6M40.7 395.2h.6M42.9 389.2h.6M46.3 389.2h.6M45.7 393.7h.6M44.7 390.0h.6M43.0 391.9h.6M41.7 392.7h.6M43.7 392.4h.6M41.2 390.5h.6M41.6 394.5h.6M40.1 395.8h.6M42.5 390.0h.6M42.4 391.7h.6M48.4 394.5h.6M44.4 391.8h.6M41.5 390.0h.6M45.1 391.3h.6M41.2 394.3h.6M45.8 390.0h.6M45.1 392.9h.6M51.7 393.2h.6M39.3 390.8h.6M42.5 393.6h.6M42.3 393.9h.6M43.6 394.6h.6M44.9 394.5h.6M39.7 388.8h.6M40.4 394.4h.6M43.6 393.7h.6M45.7 394.6h.6M39.2 390.3h.6M37.9 394.4h.6M46.2 393.2h.6M45.3 389.6h.6M46.1 395.3h.6M39.7 390.5h.6M42.1 389.9h.6M43.4 393.2h.6M44.1 390.9h.6M42.3 393.2h.6M42.5 391.7h.6M45.8 393.0h.6M41.3 394.2h.6M41.0 392.2h.6M41.4 394.3h.6M41.1 394.3h.6M43.1 390.4h.6M42.0 394.3h.6M41.3 393.8h.6M47.1 392.6h.6M43.6 394.9h.6M41.7 396.2h.6M46.6 394.1h.6M41.0 388.9h.6M42.7 393.4h.6M42.4 392.0h.6M40.9 391.7h.6M41.5 393.1h.6M42.9 391.6h.6M38.3 396.1h.6M41.5 393.0h.6M43.5 392.4h.6M43.5 394.2h.6M43.6 394.2h.6M49.9 395.1h.6M44.7 393.8h.6M42.3 392.2h.6M42.3 392.6h.6M42.7 387.3h.6M44.0 388.9h.6M41.8 394.8h.6M47.3 391.6h.6M39.3 396.6h.6M44.6 396.5h.6M44.2 389.4h.6M39.2 393.1h.6M44.6 399.1h.6M44.4 390.5h.6M40.7 393.3h.6M49.8 391.8h.6M44.9 391.8h.6M41.7 391.7h.6M41.2 392.3h.6M40.4 394.1h.6M43.5 390.5h.6M42.9 393.5h.6M38.4 390.7h.6M39.5 393.6h.6M40.5 393.1h.6M41.5 390.5h.6M41.6 392.7h.6M40.6 390.6h.6M44.6 390.4h.6M45.6 395.1h.6M42.9 388.1h.6M36.0 393.6h.6M42.2 394.0h.6M44.4 391.0h.6M42.4 394.9h.6M43.5 394.5h.6M43.0 389.3h.6M38.1 393.6h.6M35.0 393.4h.6M44.6 390.6h.6M41.1 393.7h.6M43.9 394.1h.6M41.8 390.7h.6M42.2 387.7h.6M46.8 393.3h.6M39.0 390.6h.6M42.6 388.3h.6M39.4 391.4h.6M42.9 386.8h.6M44.1 391.6h.6M44.7 395.8h.6M43.1 385.7h.6M38.5 393.4h.6M43.4 390.2h.6M45.4 391.4h.6M45.7 390.2h.6M49.2 393.8h.6M44.4 392.3h.6M39.6 390.5h.6M41.1 389.3h.6M42.9 391.3h.6M45.9 395.0h.6M39.2 389.5h.6M45.5 393.3h.6M44.7 393.1h.6M40.0 387.7h.6M44.5 394.9h.6M40.4 392.2h.6M42.7 397.5h.6M41.8 396.4h.6M43.4 391.8h.6M39.1 392.0h.6M44.3 390.0h.6M36.1 389.1h.6M41.4 394.2h.6M41.0 391.8h.6M47.5 391.4h.6M44.3 391.9h.6M41.2 393.9h.6M40.0 394.5h.6M42.8 392.3h.6M40.8 391.9h.6M49.5 392.6h.6M34.2 397.2h.6M42.9 387.5h.6M35.2 389.6h.6M45.8 393.5h.6M40.2 392.7h.6M47.5 395.2h.6M41.0 395.4h.6M46.0 397.0h.6M43.3 390.5h.6M46.3 393.8h.6M42.7 391.8h.6M33.6 394.6h.6M40.5 392.8h.6M37.9 394.4h.6M45.6 390.6h.6M44.3 392.7h.6M42.7 391.1h.6M44.1 391.7h.6M43.3 391.3h.6M40.9 389.9h.6M48.6 395.0h.6M43.4 393.0h.6M42.1 394.9h.6M38.2 390.0h.6" stroke="#000" stroke-width=".6" fill="none"/>
<path d="M36.8 395.4h.6M39.7 393.3h.6M45.3 389.6h.6M46.9 396.1h.6M47.8 392.1h.6M49.7 389.8h.6M44.9 397.0h.6M41.3 387.0h.6M36.2 391.4h.6M44.7 397.0h.6M37.7 397.7h.6M35.9 392.2h.6M44.1 394.0h.6M41.9 396.0h.6M45.7 393.5h.6M36.4 390.5h.6M47.5 395.6h.6M42.8 394.5h.6M39.7 394.2h.6M36.2 398.4h.6M34.3 395.1h.6M32.6 391.8h.6M48.9 394.4h.6M32.3 401.9h.6M44.4 390.8h.6M39.2 392.7h.6M37.3 390.4h.6M37.9 395.3h.6M40.1 388.5h.6M46.0 395.6h.6M44.0 397.0h.6M40.6 390.5h.6M32.6 390.2h.6M51.6 393.9h.6M34.7 389.1h.6M31.4 391.1h.6M47.3 392.0h.6M31.8 390.9h.6M45.0 397.3h.6M46.1 400.5h.6M42.1 384.8h.6M46.3 390.4h.6M32.5 394.8h.6M33.4 389.3h.6M39.5 391.5h.6M40.6 394.6h.6M40.1 399.6h.6M43.4 398.7h.6M36.3 392.5h.6M43.0 392.2h.6M39.3 393.0h.6M45.4 388.8h.6M52.9 386.3h.6M41.1 392.2h.6M44.1 397.9h.6M35.4 397.0h.6M46.0 385.9h.6M42.6 393.0h.6M42.1 391.1h.6M46.0 395.0h.6M34.0 389.2h.6M44.0 397.6h.6M43.3 392.9h.6M50.0 396.2h.6M40.1 385.6h.6M53.5 392.9h.6M38.2 400.1h.6M38.1 393.9h.6M51.1 398.2h.6M55.4 395.5h.6M41.3 391.7h.6M36.4 395.0h.6M37.1 398.2h.6M38.3 399.2h.6M35.7 399.9h.6M35.9 389.1h.6M41.7 397.3h.6M40.9 388.0h.6M43.4 393.2h.6M40.8 392.9h.6M33.5 396.4h.6M45.0 395.1h.6M42.1 399.0h.6M37.2 391.2h.6M39.0 397.3h.6M42.5 395.4h.6M41.1 393.8h.6M39.9 388.7h.6M45.1 396.2h.6M46.9 395.1h.6M38.8 397.1h.6M40.5 393.6h.6M34.1 392.7h.6M39.6 395.4h.6M43.4 395.7h.6M45.7 396.7h.6M41.6 401.7h.6M40.1 391.2h.6M36.4 402.2h.6M41.9 381.4h.6M34.2 397.8h.6M41.4 390.4h.6M40.7 402.2h.6M35.3 390.1h.6M42.5 398.2h.6M39.4 389.6h.6M44.1 389.0h.6M37.8 397.2h.6M43.5 397.4h.6M49.8 390.9h.6M41.7 403.9h.6M45.3 392.4h.6M36.8 400.3h.6M38.5 389.5h.6M39.7 394.2h.6M34.0 389.5h.6M41.3 395.7h.6M35.5 394.5h.6M41.1 391.4h.6M42.9 389.8h.6M38.2 392.9h.6M55.7 391.9h.6M45.2 397.2h.6M41.5 395.0h.6M35.2 399.4h.6M43.7 393.5h.6M42.0 397.3h.6M43.3 392.0h.6M46.2 396.3h.6M41.2 396.0h.6M45.6 391.5h.6M55.3 388.4h.6M38.8 389.8h.6M36.8 396.1h.6M49.4 393.2h.6M44.1 392.5h.6M46.3 395.8h.6M36.9 396.8h.6M42.2 399.6h.6M44.8 391.3h.6M33.9 396.1h.6M39.3 396.7h.6M39.1 389.8h.6M38.9 394.3h.6M36.5 390.0h.6M33.2 392.8h.6M43.1 395.5h.6M42.0 386.7h.6M47.4 390.1h.6M40.2 390.4h.6M36.6 394.2h.6M32.1 390.7h.6M41.1 395.3h.6M38.7 390.2h.6M52.4 391.6h.6M54.0 396.3h.6M49.8 395.1h.6M35.3 394.4h.6M32.4 393.6h.6M39.2 398.0h.6M35.3 399.5h.6M48.9 392.2h.6M41.2 390.8h.6M38.2 389.4h.6M40.5 401.0h.6M47.9 390.1h.6M35.0 388.3h.6M43.4 394.9h.6M32.8 398.2h.6M39.3 388.6h.6M36.7 393.3h.6M42.4 387.8h.6M41.5 390.9h.6M47.6 400.6h.6M44.6 394.5h.6M37.0 392.7h.6M32.8 394.1h.6M35.8 395.0h.6M38.0 393.4h.6M39.2 388.8h.6M36.1 388.9h.6M46.9 402.2h.6M46.0 390.6h.6M39.0 398.8h.6M37.6 390.8h.6M39.2 399.2h.6M40.3 396.7h.6M40.4 392.9h.6M38.0 389.9h.6M40.7 390.2h.6M44.5 390.6h.6M34.3 392.3h.6M41.5 389.8h.6M36.9 392.4h.6M36.5 400.4h.6M52.1 386.5h.6M45.8 388.6h.6M43.4 389.8h.6M38.0 391.8h.6M42.9 398.0h.6M39.4 396.8h.6M43.2 395.8h.6M35.3 394.6h.6M40.1 403.8h.6M38.2 389.1h.6M32.2 389.0h.6M50.5 393.7h.6M45.3 394.7h.6M35.9 392.8h.6M31.9 390.3h.6M36.3 388.3h.6M35.6 392.6h.6M37.0 390.8h.6M31.6 391.8h.6M35.7 389.3h.6M40.9 399.4h.6M42.9 395.7h.6M40.5 391.6h.6M34.7 394.0h.6M34.4 392.8h.6M38.6 393.9h.6M36.5 392.7h.6M44.6 393.1h.6M44.6 385.6h.6M38.7 392.7h.6M36.7 396.7h.6M51.1 385.7h.6M51.5 392.3h.6M42.8 396.2h.6M39.6 399.1h.6M46.5 393.4h.6M49.1 395.7h.6M37.4 401.1h.6M51.2 399.2h.6M39.6 391.9h.6M47.0 391.3h.6M37.5 398.0h.6M40.9 394.7h.6M37.8 391.5h.6M40.7 392.8h.6M46.5 395.1h.6M35.2 393.0h.6M38.8 392.7h.6M43.7 392.8h.6M37.8 387.6h.6M52.5 401.0h.6M31.9 398.9h.6M55.5 400.1h.6M36.6 393.2h.6M46.3 394.3h.6M50.1 396.2h.6M43.7 397.2h.6M32.2 386.2h.6M38.5 395.3h.6M40.9 389.6h.6M43.9 393.5h.6M46.3 391.0h.6M47.2 400.9h.6M49.2 396.0h.6M34.9 393.7h.6M46.4 399.6h.6M41.4 390.8h.6M34.2 393.0h.6M46.0 394.0h.6M40.3 397.3h.6M46.4 393.3h.6M33.3 398.0h.6M39.9 395.0h.6M36.6 397.8h.6M40.9 394.4h.6M36.8 388.4h.6M38.5 389.1h.6M33.7 386.9h.6M48.1 398.5h.6M38.6 395.5h.6M33.5 391.8h.6M44.6 389.7h.6M43.4 395.3h.6M41.8 393.2h.6M41.8 395.1h.6M38.2 390.3h.6M39.7 389.2h.6M33.2 393.7h.6M42.2 399.4h.6M47.8 386.2h.6M39.5 396.7h.6M38.9 394.1h.6M47.2 393.2h.6M38.3 394.9h.6M44.4 388.9h.6M43.1 384.5h.6M32.6 401.7h.6M42.4 392.6h.6M41.7 397.5h.6M33.7 398.4h.6M34.3 395.0h.6M32.9 395.7h.6M48.7 396.8h.6M53.1 400.4h.6M44.7 395.8h.6M49.9 399.0h.6M32.5 392.6h.6M48.9 392.0h.6M52.3 394.2h.6M50.1 395.5h.6M34.9 396.0h.6M47.0 401.9h.6M39.8 397.3h.6M46.9 394.1h.6M36.7 402.1h.6M40.6 395.2h.6M37.1 395.3h.6M43.4 395.9h.6M39.9 392.4h.6M47.2 389.3h.6M45.4 394.4h.6M43.0 392.5h.6M40.3 390.2h.6M38.7 394.3h.6M40.5 393.0h.6M45.0 391.3h.6M41.3 386.4h.6M42.3 393.1h.6M40.3 401.1h.6M40.1 397.5h.6M36.5 398.3h.6M43.9 398.2h.6M43.9 391.0h.6M34.7 391.9h.6M51.9 396.0h.6M33.5 387.9h.6M46.5 394.0h.6M42.0 395.1h.6M42.4 400.8h.6M47.3 390.9h.6M46.0 395.6h.6M40.7 391.1h.6M34.2 391.5h.6M33.2 382.6h.6M41.7 389.9h.6M50.0 398.6h.6M45.8 396.0h.6M40.3 394.5h.6M44.6 396.1h.6M50.8 388.7h.6M36.0 393.0h.6M44.9 393.6h.6M42.2 400.5h.6M36.0 390.1h.6M34.4 395.6h.6M48.1 397.9h.6M42.5 390.5h.6M39.3 394.2h.6M41.1 385.5h.6M46.4 394.2h.6M41.1 384.7h.6M50.1 392.2h.6M39.0 401.0h.6M35.8 395.5h.6M39.9 394.0h.6M34.9 394.4h.6M38.4 402.8h.6M47.9 396.1h.6M50.7 398.1h.6M44.3 392.0h.6M41.7 392.0h.6M35.1 389.5h.6M34.5 393.1h.6M42.7 390.9h.6M41.5 397.9h.6M37.1 396.5h.6M37.9 393.3h.6M49.9 391.6h.6M46.5 381.8h.6M40.9 391.4h.6M41.9 395.1h.6M48.2 396.6h.6M42.7 381.0h.6M42.0 383.9h.6M40.4 396.3h.6M42.5 386.1h.6M35.3 391.5h.6M43.2 397.7h.6M43.2 394.7h.6M40.1 390.4h.6M31.7 395.7h.6M49.2 395.0h.6M48.8 390.1h.6M37.1 396.7h.6M52.2 396.6h.6M40.8 393.3h.6M35.8 397.7h.6M38.1 389.0h.6M38.4 393.0h.6M47.3 391.3h.6M42.4 398.7h.6M32.2 391.5h.6M44.0 392.4h.6M41.5 390.5h.6M43.4 397.8h.6M40.9 403.0h.6M33.8 399.4h.6M39.9 395.9h.6M39.4 397.0h.6M40.9 392.4h.6M49.4 391.8h.6M50.7 389.0h.6M50.0 399.8h.6M36.7 392.4h.6M36.0 390.9h.6M40.7 391.2h.6M43.1 394.6h.6M36.8 393.9h.6M51.3 394.5h.6M33.1 399.4h.6M36.1 388.7h.6M36.3 395.1h.6M43.4 390.9h.6M40.1 392.0h.6M38.6 400.6h.6M31.4 396.4h.6M44.2 392.2h.6M40.5 395.9h.6M36.5 393.7h.6M40.7 398.4h.6M45.2 391.8h.6M31.7 395.9h.6M34.4 393.9h.6M35.3 393.2h.6M36.9 394.3h.6M47.2 397.9h.6M38.5 391.3h.6M46.6 392.2h.6M39.8 390.7h.6M48.8 397.4h.6M49.9 396.8h.6M37.5 384.3h.6M35.5 391.1h.6M42.8 389.4h.6M33.2 397.3h.6M38.3 397.7h.6M41.0 391.0h.6M40.5 393.5h.6M50.3 392.3h.6M42.7 396.8h.6M36.5 397.9h.6M39.9 396.3h.6M32.8 398.4h.6M40.7 397.7h.6M39.2 393.5h.6M43.0 392.0h.6M46.1 390.8h.6M42.5 397.5h.6M44.9 398.1h.6M33.3 392.5h.6M51.9 392.2h.6M36.2 394.9h.6M55.3 399.0h.6M45.2 395.3h.6M46.3 394.8h.6M42.1 390.4h.6M46.6 395.7h.6M34.3 396.1h.6M35.7 389.9h.6M43.8 390.0h.6M36.2 397.7h.6M45.0 393.0h.6M44.1 394.5h.6M32.4 390.6h.6M44.7 391.5h.6M42.1 396.8h.6M41.7 393.0h.6M43.3 392.4h.6M40.3 397.5h.6M40.6 396.8h.6M46.8 394.5h.6M34.5 394.8h.6M33.3 401.0h.6M35.9 393.2h.6M46.7 395.5h.6M38.6 395.6h.6M52.0 388.1h.6M36.2 394.4h.6M37.8 397.4h.6M42.1 394.7h.6M48.5 391.7h.6M39.4 391.2h.6M34.4 397.2h.6M45.5 392.6h.6M49.8 387.2h.6M44.0 394.8h.6M42.3 395.4h.6M35.5 398.2h.6M37.6 399.3h.6M42.2 396.2h.6M40.7 393.1h.6M39.0 385.1h.6M33.5 395.1h.6M42.2 393.2h.6M36.5 399.3h.6M41.0 399.1h.6M37.0 395.8h.6M41.7 399.5h.6M45.0 393.6h.6M41.9 393.7h.6M44.4 390.4h.6M32.2 392.6h.6M43.3 394.7h.6M42.2 398.2h.6M36.7 390.8h.6M39.5 397.2h.6M41.0 388.3h.6M38.0 392.8h.6M43.5 398.0h.6M36.6 402.1h.6M42.2 399.0h.6M39.0 393.7h.6M43.4 390.3h.6M41.0 393.6h.6M38.7 393.7h.6M43.4 394.9h.6M45.5 390.2h.6M40.6 390.9h.6M36.9 396.7h.6M33.8 394.7h.6M48.3 389.3h.6M46.2 394.1h.6M34.3 393.9h.6M33.8 393.1h.6M45.4 397.2h.6M36.7 391.9h.6M39.7 390.1h.6M47.3 383.5h.6M37.7 399.0h.6M39.8 394.9h.6M50.9 394.2h.6M45.7 389.8h.6M49.0 387.9h.6M44.2 386.1h.6M35.5 391.6h.6M53.8 386.2h.6M41.6 396.7h.6M39.7 396.8h.6M35.9 390.3h.6M34.4 391.9h.6M53.9 394.0h.6M40.0 399.3h.6M40.8 398.0h.6M32.0 395.6h.6M40.1 398.5h.6M42.7 386.4h.6M40.0 402.2h.6M44.2 393.6h.6M35.4 388.4h.6M42.4 392.2h.6M45.8 391.1h.6" stroke="#555" stroke-width=".6" fill="none"/>
<path d="M41.9 394.1h.6M39.3 397.8h.6M43.8 393.3h.6M37.7 386.2h.6M37.9 394.5h.6M43.8 400.8h.6M46.7 397.9h.6M46.5 387.6h.6M42.6 386.6h.6M51.6 389.2h.6M51.8 397.6h.6M50.5 391.7h.6M37.2 390.5h.6M46.6 402.1h.6M33.3 386.2h.6M51.8 401.2h.6M43.0 392.4h.6M32.5 401.0h.6M33.7 391.4h.6M44.6 395.6h.6M45.3 388.6h.6M38.8 391.1h.6M40.4 398.0h.6M48.0 398.6h.6M47.4 389.1h.6M46.9 397.8h.6M38.3 397.2h.6M44.8 391.2h.6M33.0 398.6h.6M45.2 396.8h.6M45.4 398.2h.6M47.1 401.5h.6M36.2 403.3h.6M38.2 388.8h.6M36.1 390.5h.6M40.2 388.4h.6M49.5 399.9h.6M43.3 397.5h.6M47.7 388.9h.6M51.2 391.6h.6M47.7 388.4h.6M35.5 392.7h.6M38.2 387.8h.6M32.0 386.4h.6M39.5 387.1h.6M40.3 394.2h.6M37.8 389.0h.6M38.9 387.1h.6M35.3 399.9h.6M48.3 400.1h.6M39.3 403.5h.6M31.4 400.9h.6M40.3 403.5h.6M38.7 398.1h.6M34.8 395.8h.6M45.7 393.7h.6M39.7 392.2h.6M47.4 386.3h.6M43.9 399.1h.6M51.1 391.9h.6M38.1 399.6h.6M31.8 403.4h.6M34.9 400.6h.6M46.9 395.4h.6M35.1 396.3h.6M43.5 402.4h.6M33.4 390.4h.6M49.0 396.9h.6M39.1 397.0h.6M37.1 397.2h.6M49.7 391.4h.6M45.8 394.5h.6M43.7 395.4h.6M50.0 400.7h.6M48.0 403.9h.6M50.1 400.7h.6M35.2 395.0h.6M46.3 397.9h.6M37.3 396.0h.6M37.2 400.9h.6M39.9 393.5h.6M48.7 396.2h.6M44.4 393.8h.6M34.0 393.9h.6M33.0 395.4h.6M41.2 389.0h.6M39.8 397.1h.6M46.1 397.3h.6M40.1 402.5h.6M41.7 392.4h.6M42.9 397.4h.6M34.1 390.7h.6M38.9 393.2h.6M48.5 387.4h.6M51.8 391.2h.6M41.2 393.2h.6M37.5 391.5h.6M48.9 393.7h.6M42.5 391.3h.6M31.9 390.7h.6M34.4 392.3h.6M44.5 398.4h.6M33.6 397.5h.6M51.3 388.5h.6M41.9 400.9h.6M40.5 387.5h.6M47.8 390.2h.6M42.0 386.3h.6M48.6 395.2h.6M48.7 387.2h.6M34.5 398.0h.6M35.6 398.0h.6M42.9 387.8h.6M45.4 397.5h.6M34.4 393.9h.6M47.7 402.1h.6M41.1 396.7h.6M46.8 395.7h.6M38.5 391.1h.6M42.2 394.4h.6M44.9 400.3h.6M47.2 399.4h.6M38.1 386.8h.6M44.0 386.2h.6M36.4 391.2h.6M39.5 387.2h.6M50.5 386.4h.6M46.3 403.0h.6M32.6 388.6h.6M44.4 391.9h.6M39.0 402.0h.6M37.8 393.4h.6M35.4 386.8h.6M45.7 393.7h.6M48.9 399.5h.6M40.3 388.9h.6M41.5 390.9h.6M38.0 392.2h.6M48.0 386.2h.6M51.7 398.7h.6M40.5 387.7h.6M40.4 390.0h.6M35.0 394.3h.6M37.0 400.0h.6M39.3 387.5h.6M39.7 403.9h.6M34.5 395.4h.6M38.5 389.1h.6M32.3 389.3h.6M36.9 396.0h.6M44.8 387.7h.6M50.1 389.0h.6M35.6 403.7h.6M45.7 402.2h.6M35.8 397.4h.6M50.9 399.8h.6M36.2 388.0h.6M32.0 391.1h.6M50.9 386.3h.6M38.3 396.8h.6M35.4 386.1h.6M40.6 388.0h.6M39.3 387.7h.6M44.7 396.0h.6M31.5 395.0h.6M50.1 388.4h.6M46.0 393.3h.6M43.4 392.5h.6M38.5 398.9h.6M32.6 392.0h.6M43.5 403.9h.6M45.2 395.0h.6M34.2 393.6h.6M48.7 400.0h.6M40.2 397.9h.6M38.0 396.0h.6M46.0 388.6h.6M39.6 400.8h.6M34.4 390.5h.6M40.0 397.2h.6M31.8 389.5h.6M37.5 390.3h.6M43.3 397.6h.6M32.7 399.8h.6M41.1 398.6h.6M31.7 397.8h.6M35.4 397.1h.6M32.0 391.4h.6M41.9 402.9h.6M44.4 396.8h.6M42.9 394.8h.6M49.1 392.3h.6M31.9 388.9h.6M43.5 398.8h.6M37.7 400.9h.6M34.0 402.6h.6M49.3 402.2h.6M48.8 389.5h.6M49.9 396.6h.6M36.3 393.5h.6M49.3 399.4h.6M50.1 398.8h.6M49.6 391.1h.6M44.3 390.1h.6M42.1 391.0h.6M49.0 394.9h.6M48.9 391.7h.6M49.7 388.8h.6M41.8 400.8h.6M33.2 387.2h.6M38.2 390.5h.6M37.3 398.6h.6M44.1 393.5h.6M36.6 397.9h.6M42.7 387.5h.6M37.5 403.3h.6M40.8 393.3h.6M44.5 401.3h.6M48.1 393.7h.6M31.9 401.4h.6M40.5 386.6h.6M37.8 391.1h.6M46.1 387.4h.6M46.0 401.8h.6M34.3 393.0h.6M34.1 394.9h.6M49.2 391.3h.6M37.6 392.4h.6M43.5 388.6h.6M35.9 400.1h.6M45.0 389.9h.6M32.7 395.9h.6M49.5 400.5h.6M45.4 394.4h.6M44.1 387.8h.6M40.9 399.5h.6M47.7 403.1h.6" stroke="#999" stroke-width=".6" fill="none"/>
<path d="M58.7 382.0h.6M56.8 384.7h.6M56.1 383.3h.6M59.9 380.5h.6M54.9 384.4h.6M56.0 385.7h.6M58.9 382.6h.6M57.7 384.2h.6M57.4 384.6h.6M57.9 384.1h.6M61.6 380.0h.6M55.3 384.5h.6M57.6 384.2h.6M57.2 382.3h.6M57.4 386.3h.6M57.6 383.4h.6M58.7 382.7h.6M55.2 384.0h.6M60.1 382.0h.6M56.3 385.9h.6M56.3 382.4h.6M57.7 382.3h.6M62.6 377.5h.6M54.1 385.8h.6M58.9 383.6h.6M63.2 380.3h.6M55.8 383.5h.6M60.0 382.0h.6M57.7 382.7h.6M56.0 386.5h.6M56.6 381.0h.6M55.7 384.4h.6M58.4 383.8h.6M54.5 385.3h.6M59.5 382.7h.6M53.1 387.0h.6M57.9 384.2h.6M60.1 381.4h.6M58.1 382.1h.6M56.4 383.3h.6M57.0 383.5h.6M57.5 384.7h.6M62.1 378.6h.6M57.0 382.9h.6M59.6 385.3h.6M55.2 383.4h.6M56.6 383.9h.6M58.9 382.5h.6M55.8 383.6h.6M56.1 384.6h.6M56.3 383.9h.6M56.0 382.9h.6M58.1 383.2h.6M56.0 383.3h.6M56.7 383.0h.6M57.0 385.3h.6M58.9 380.4h.6M58.0 383.4h.6M57.7 384.5h.6M58.6 383.3h.6M57.7 383.6h.6M54.7 385.7h.6M56.3 382.6h.6M60.4 380.5h.6M58.6 382.6h.6M59.2 380.9h.6M55.7 383.7h.6M55.5 386.3h.6M55.6 383.7h.6M60.1 381.2h.6M55.5 384.6h.6M55.1 383.5h.6M60.4 382.3h.6M57.5 384.0h.6M57.5 383.9h.6M57.2 381.6h.6M57.6 383.0h.6M57.2 383.9h.6M57.4 382.3h.6M57.3 385.5h.6" stroke="#333" stroke-width=".6" fill="none"/>
<path d="M54.9 382.5h.6M65.5 377.1h.6M51.4 378.9h.6M58.5 383.2h.6M57.6 381.0h.6M61.1 374.2h.6M58.3 378.6h.6M61.1 380.8h.6M60.3 381.3h.6M60.8 384.7h.6M56.9 378.4h.6M53.8 376.3h.6M58.6 376.8h.6M59.2 377.7h.6M53.5 383.4h.6M61.8 381.3h.6M69.0 377.6h.6M60.3 379.1h.6M56.3 373.7h.6M61.2 381.2h.6M57.4 377.8h.6M60.5 377.3h.6M59.1 382.8h.6M61.0 378.2h.6M56.1 382.0h.6M62.1 376.5h.6M58.3 383.3h.6M63.7 376.2h.6M67.9 377.9h.6M49.5 376.2h.6M60.5 373.5h.6M58.1 377.2h.6M65.4 375.1h.6M59.7 379.1h.6M61.8 379.6h.6" stroke="#888" stroke-width=".6" fill="none"/>
<path d="M73.4 368.3h.6M58.6 398.2h.6M39.1 384.3h.6M57.8 401.9h.6M49.4 395.1h.6M51.4 363.0h.6M37.3 387.9h.6M62.7 360.2h.6M74.1 360.6h.6M51.4 384.7h.6" stroke="#666" stroke-width=".6" fill="none"/>
</g>
<line x1="52.6" y1="351.2" x2="52.6" y2="405.1" stroke="#777" stroke-width="0.8"/>
<line x1="30.6" y1="384.5" x2="84.9" y2="384.5" stroke="#777" stroke-width="0.8"/>
<rect x="30.6" y="351.2" width="54.3" height="53.9" fill="none" stroke="#888" stroke-width="0.9"/>
<text x="71.4" y="357.2" font-size="6" stroke="#000" textLength="12.8" lengthAdjust="spacingAndGlyphs" font-weight="bold" style="stroke-width:0">2.9%</text>
<text x="71.4" y="403.9" font-size="6" stroke="#000" textLength="12.8" lengthAdjust="spacingAndGlyphs" font-weight="bold" style="stroke-width:0">4.0%</text>
<rect x="90.2" y="351.2" width="53.9" height="53.9" fill="#fff"/>
<g filter="url(#bl)">
<path d="M105.3 390.8h.6M98.8 399.2h.6M107.6 394.0h.6M99.3 394.8h.6M98.2 395.4h.6M101.3 395.3h.6M101.7 387.4h.6M97.5 399.7h.6M106.2 394.3h.6M101.3 391.3h.6M105.1 389.4h.6M94.0 390.7h.6M95.0 391.1h.6M100.5 393.9h.6M96.7 389.9h.6M101.2 394.3h.6M104.9 394.5h.6M107.8 390.7h.6M106.1 393.3h.6M98.2 395.4h.6M104.9 394.3h.6M99.2 393.1h.6M104.8 396.9h.6M96.4 400.1h.6M109.1 393.5h.6M104.1 389.9h.6M100.4 396.3h.6M94.7 384.0h.6M103.4 394.5h.6M99.2 392.9h.6M103.3 395.3h.6M98.2 386.9h.6M99.1 391.8h.6M105.2 389.1h.6M109.8 391.3h.6M95.2 396.4h.6M100.9 392.8h.6M104.0 391.0h.6M101.1 399.1h.6M99.6 393.8h.6M113.4 384.5h.6M97.5 388.9h.6M103.9 395.6h.6M99.4 395.7h.6M101.4 394.7h.6M106.7 389.6h.6M100.8 393.2h.6M96.8 388.2h.6M110.8 389.8h.6M100.5 389.5h.6M98.7 389.8h.6M97.5 392.0h.6M107.6 392.5h.6M102.1 389.9h.6M100.3 398.5h.6M94.9 391.5h.6M97.2 400.5h.6M103.8 398.1h.6M101.9 388.0h.6M91.3 397.5h.6M97.3 387.1h.6M103.2 400.0h.6M116.2 395.0h.6M98.0 389.0h.6M106.0 391.6h.6M99.4 387.3h.6M95.0 398.4h.6M104.9 387.8h.6M100.7 392.3h.6M96.9 395.6h.6M95.0 393.4h.6M101.3 394.5h.6M102.4 392.2h.6M92.5 396.6h.6M107.2 389.1h.6M95.2 395.9h.6M109.4 387.9h.6M103.7 394.1h.6M101.0 388.2h.6M103.7 392.4h.6M98.8 396.0h.6M101.6 398.9h.6M110.7 385.1h.6M98.9 389.8h.6M106.3 388.9h.6M97.2 398.8h.6M101.9 389.4h.6M107.1 396.5h.6M95.6 390.9h.6M103.7 386.7h.6M95.9 388.1h.6M99.7 396.6h.6M106.6 397.0h.6M105.8 399.3h.6M97.1 388.7h.6M101.3 400.4h.6M103.0 397.6h.6M93.7 385.1h.6M104.2 403.3h.6M109.1 400.9h.6M108.6 388.5h.6M98.8 394.7h.6M99.8 387.2h.6M97.0 392.6h.6M99.3 394.1h.6M100.6 396.1h.6M105.6 389.5h.6M102.4 393.1h.6M97.0 389.0h.6M106.3 395.0h.6M106.6 396.3h.6M98.7 393.6h.6M100.7 398.5h.6M101.4 396.7h.6M93.3 394.9h.6M102.7 398.5h.6M105.5 387.6h.6M112.3 393.1h.6M103.0 385.2h.6M100.5 393.2h.6M101.2 391.1h.6M105.2 397.0h.6M106.2 391.2h.6M97.4 390.3h.6M103.0 392.8h.6M105.4 392.6h.6M91.3 395.6h.6M109.2 389.3h.6M100.9 386.4h.6M106.6 386.0h.6M101.7 398.5h.6M100.7 387.5h.6M101.6 391.1h.6M103.5 388.2h.6M106.6 397.3h.6M100.6 390.7h.6M96.1 398.8h.6M98.3 390.0h.6M96.8 394.6h.6M106.0 396.7h.6M96.9 397.6h.6M110.1 387.8h.6M102.7 391.6h.6M101.5 392.9h.6M108.9 384.9h.6M100.1 396.5h.6M100.4 395.0h.6M106.1 395.6h.6M105.9 386.9h.6M96.7 394.1h.6M115.0 395.2h.6M105.0 397.9h.6M95.4 390.9h.6M101.1 396.3h.6M106.9 402.2h.6M103.2 391.3h.6M106.6 391.4h.6M114.6 391.8h.6M107.0 386.5h.6M112.7 391.6h.6M105.7 400.7h.6M98.5 389.0h.6M110.1 392.4h.6M98.4 398.7h.6M107.1 395.9h.6M105.5 394.3h.6M97.6 391.8h.6M98.4 392.8h.6M101.2 393.3h.6M104.2 396.4h.6M109.2 393.6h.6M102.5 397.6h.6M112.2 384.8h.6M106.8 397.0h.6M98.8 390.9h.6M98.9 393.3h.6M102.6 391.4h.6M99.4 396.2h.6M101.7 392.8h.6M106.3 396.1h.6M103.6 389.6h.6M107.4 394.2h.6M98.6 398.9h.6M97.7 398.4h.6M94.8 391.7h.6M92.8 393.9h.6M99.9 391.6h.6M102.6 392.8h.6M101.2 393.4h.6M102.3 398.8h.6M113.1 396.0h.6M96.5 399.9h.6M100.9 400.3h.6M99.7 387.6h.6M97.5 394.7h.6M109.5 391.3h.6M102.1 386.0h.6M109.0 388.4h.6M96.3 391.0h.6M112.3 400.9h.6M114.3 393.7h.6M97.7 392.5h.6M102.3 393.2h.6M101.7 389.9h.6M105.3 394.1h.6M95.5 392.9h.6M104.8 385.9h.6M106.2 390.9h.6M98.8 392.9h.6M100.3 396.3h.6M106.4 388.9h.6M99.1 393.7h.6M96.3 397.3h.6M105.6 386.1h.6M104.3 390.0h.6M106.3 391.5h.6M102.6 392.0h.6M108.0 391.0h.6M105.1 394.6h.6M92.9 397.9h.6M103.4 394.9h.6M106.5 398.0h.6M102.6 398.0h.6M110.1 390.6h.6M100.0 394.6h.6M106.1 391.6h.6M95.9 396.3h.6M102.4 391.8h.6M99.5 392.5h.6M97.1 401.0h.6M95.5 392.5h.6M103.6 386.3h.6M104.7 393.9h.6M99.0 394.7h.6M95.8 391.1h.6M97.8 393.7h.6M106.4 397.9h.6M96.0 391.0h.6M108.4 392.5h.6M93.6 390.2h.6M103.9 394.8h.6M105.9 392.8h.6M108.9 389.2h.6M100.1 392.6h.6M98.4 401.6h.6M94.9 385.7h.6M107.2 387.1h.6M101.7 394.9h.6M100.0 387.1h.6M100.2 402.1h.6M103.8 386.7h.6M102.6 387.5h.6M108.7 391.0h.6M91.0 398.2h.6M106.9 397.0h.6M99.6 395.9h.6M102.0 394.7h.6M100.8 399.2h.6M102.0 385.2h.6M106.4 394.6h.6M103.6 399.8h.6M94.8 388.6h.6M102.1 394.8h.6M101.9 398.9h.6M104.4 399.0h.6M102.7 392.8h.6M102.0 401.7h.6M107.9 395.6h.6M96.7 398.2h.6M114.0 388.6h.6M99.5 390.0h.6M97.0 390.0h.6M106.6 401.3h.6M108.2 382.9h.6M109.1 385.1h.6M110.2 396.9h.6M105.0 394.0h.6M102.8 380.1h.6M104.5 391.6h.6M102.5 392.0h.6M99.6 398.8h.6M111.0 384.8h.6M112.1 391.0h.6M102.5 398.1h.6M101.3 396.8h.6M99.9 389.2h.6M93.6 392.1h.6M98.9 386.8h.6M99.8 399.5h.6M102.4 391.5h.6M97.2 399.1h.6M92.4 397.0h.6M106.0 389.4h.6M111.6 392.7h.6M91.2 396.3h.6M101.8 395.4h.6M107.0 400.2h.6M96.3 398.4h.6M94.9 394.8h.6M102.7 396.5h.6M101.3 390.2h.6M99.1 390.7h.6M111.2 396.1h.6M110.5 394.9h.6M106.0 388.5h.6M102.2 393.0h.6M100.8 389.8h.6M107.2 390.9h.6M101.3 399.2h.6M110.4 389.2h.6M109.2 390.5h.6M99.4 395.9h.6M106.6 393.8h.6M110.9 394.2h.6M106.1 387.0h.6M97.6 393.3h.6M101.2 391.8h.6M100.8 389.8h.6M103.3 390.9h.6M102.8 392.1h.6M100.8 397.2h.6M107.2 401.8h.6M109.8 393.9h.6M99.7 400.0h.6M94.9 393.9h.6M104.7 386.8h.6M102.7 393.7h.6M104.9 399.2h.6M99.1 399.7h.6M104.3 389.5h.6M97.9 403.4h.6M108.5 390.2h.6M111.7 390.2h.6M97.8 391.1h.6M100.2 395.2h.6M100.0 397.5h.6M103.8 383.6h.6M102.9 393.2h.6M105.4 393.0h.6M117.2 396.6h.6M99.9 391.4h.6M100.9 398.8h.6M105.1 390.4h.6M93.0 387.3h.6M107.0 386.2h.6M99.6 399.1h.6M95.2 396.9h.6M98.4 390.0h.6M105.5 398.4h.6M107.3 392.7h.6M109.5 393.0h.6M105.2 387.0h.6M99.1 391.1h.6M105.9 394.0h.6M102.5 394.4h.6M115.3 391.0h.6M92.0 397.9h.6M111.5 399.9h.6M107.0 389.9h.6M105.1 395.3h.6M102.5 386.7h.6M100.0 395.3h.6M97.8 389.2h.6M94.7 392.8h.6M113.8 394.3h.6M107.9 392.4h.6M106.5 398.2h.6M104.9 390.1h.6M92.8 391.4h.6M101.5 395.0h.6M103.6 393.4h.6M109.1 394.7h.6M97.7 392.6h.6M104.5 389.9h.6M101.8 396.5h.6M103.2 393.9h.6M98.9 397.5h.6M104.9 399.5h.6M103.5 392.0h.6M93.1 390.2h.6M109.5 391.5h.6M114.7 390.7h.6M98.4 384.7h.6M109.2 400.8h.6M97.9 395.4h.6M100.3 403.9h.6M112.4 391.1h.6M104.1 396.2h.6M111.1 394.8h.6M104.6 393.2h.6M108.5 397.9h.6M102.2 393.6h.6M110.7 393.2h.6M112.6 394.3h.6M106.7 383.6h.6M100.1 390.4h.6M101.2 390.3h.6M98.1 400.9h.6M106.4 396.2h.6M105.9 397.0h.6M99.5 396.3h.6M108.0 392.7h.6M100.1 400.9h.6M112.8 392.6h.6M107.5 387.3h.6M111.6 396.4h.6M99.4 398.8h.6M97.9 394.0h.6M93.5 395.2h.6M106.6 397.8h.6M97.2 400.3h.6M110.3 396.2h.6M104.0 401.0h.6M107.3 394.9h.6M96.4 402.9h.6M100.1 387.5h.6M104.2 397.8h.6M107.1 394.9h.6M96.4 394.1h.6M105.0 387.9h.6M98.9 398.3h.6M107.5 392.7h.6M102.0 389.2h.6M101.7 390.8h.6M105.5 392.6h.6M109.4 394.0h.6M102.0 389.6h.6M109.7 389.5h.6M98.0 395.4h.6M104.7 393.3h.6M97.3 402.3h.6M104.4 391.7h.6M98.4 396.9h.6M103.4 401.3h.6M106.5 392.7h.6M98.1 397.9h.6M94.0 394.9h.6M102.3 393.8h.6M106.0 400.7h.6M104.5 389.2h.6M98.4 390.9h.6M107.6 385.8h.6M101.7 393.0h.6M107.3 397.9h.6M98.6 392.5h.6M105.5 397.2h.6M109.4 390.2h.6M99.7 398.6h.6M101.7 393.1h.6M106.5 391.5h.6M106.0 400.8h.6M105.1 393.5h.6M102.6 396.1h.6M94.9 394.1h.6M103.2 396.7h.6M96.4 394.1h.6M103.6 388.3h.6M110.8 395.7h.6M113.2 395.3h.6M105.5 392.6h.6M98.7 401.6h.6M101.6 390.4h.6M107.8 394.1h.6M106.6 394.5h.6M99.5 388.8h.6M109.5 388.3h.6M107.0 396.5h.6M106.0 396.6h.6M101.3 394.2h.6M103.1 386.5h.6M99.4 392.3h.6M104.1 394.6h.6M118.7 374.1h.6M121.1 369.9h.6M128.2 367.5h.6M126.3 371.3h.6M121.5 372.2h.6M123.7 370.0h.6M125.7 374.6h.6M122.0 373.1h.6M124.6 371.8h.6M114.6 376.4h.6M123.7 367.8h.6M119.0 366.3h.6M118.3 370.7h.6M121.2 375.3h.6M122.3 378.1h.6M122.6 370.7h.6M120.2 369.3h.6M123.2 371.6h.6M129.5 369.0h.6M116.5 378.4h.6M122.8 376.0h.6M120.4 374.2h.6M122.1 366.8h.6M119.8 371.0h.6M119.5 374.4h.6M128.2 375.7h.6M124.9 371.9h.6M126.1 366.6h.6M123.8 371.8h.6M121.9 373.7h.6" stroke="#888" stroke-width=".6" fill="none"/>
<path d="M104.5 390.5h.6M106.1 392.6h.6M104.0 393.7h.6M105.5 390.0h.6M107.5 387.1h.6M96.0 390.2h.6M105.5 394.4h.6M101.4 388.3h.6M104.1 395.6h.6M103.3 391.2h.6M99.7 393.3h.6M100.1 390.7h.6M103.9 394.6h.6M102.2 393.1h.6M104.8 394.0h.6M101.6 387.3h.6M108.8 395.0h.6M101.9 388.1h.6M108.6 392.0h.6M100.5 394.4h.6M104.3 392.4h.6M105.9 394.3h.6M98.9 393.4h.6M99.9 393.2h.6M103.8 390.6h.6M106.0 395.8h.6M106.6 396.1h.6M104.3 391.4h.6M105.7 390.3h.6M99.3 393.5h.6M101.4 390.7h.6M106.8 393.3h.6M101.1 395.2h.6M102.0 394.8h.6M97.7 397.1h.6M102.1 394.2h.6M98.1 389.9h.6M103.7 390.5h.6M106.9 394.4h.6M103.6 398.3h.6M103.1 391.9h.6M101.5 390.3h.6M104.2 396.9h.6M99.5 392.5h.6M101.3 394.9h.6M108.9 396.0h.6M98.9 390.1h.6M101.0 391.9h.6M98.6 391.3h.6M106.2 394.4h.6M102.0 394.7h.6M99.0 391.5h.6M99.0 394.5h.6M105.8 387.8h.6M104.6 393.9h.6M104.9 393.9h.6M102.5 392.9h.6M105.2 388.8h.6M106.4 392.6h.6M104.5 389.9h.6M98.0 397.0h.6M97.0 392.1h.6M98.4 392.3h.6M103.4 392.6h.6M98.3 394.4h.6M99.5 393.1h.6M102.7 394.4h.6M100.1 390.3h.6M98.9 396.0h.6M105.4 391.5h.6M104.0 395.0h.6M104.9 393.6h.6M105.2 395.9h.6M106.7 392.7h.6M102.5 388.7h.6M102.0 389.6h.6M97.5 392.2h.6M101.9 396.8h.6M100.8 391.7h.6M105.6 393.0h.6M104.5 396.4h.6M106.8 391.3h.6M105.7 393.8h.6M106.0 393.7h.6M104.1 391.2h.6M102.9 393.5h.6M101.4 395.8h.6M102.5 395.8h.6M99.8 391.9h.6M103.7 401.1h.6M102.3 393.9h.6M96.7 392.1h.6M94.7 390.9h.6M100.4 390.1h.6M101.2 395.2h.6M101.6 384.8h.6M106.2 392.5h.6M100.7 389.0h.6M98.8 392.4h.6M103.6 392.8h.6M105.4 389.2h.6M107.2 390.1h.6M99.6 396.5h.6M101.8 391.3h.6M101.3 392.9h.6M106.8 392.0h.6M104.5 395.2h.6M102.6 396.3h.6M104.6 395.5h.6M101.5 394.4h.6M101.9 394.5h.6M102.4 389.5h.6M101.0 396.6h.6M101.8 391.3h.6M103.5 390.4h.6M103.2 391.8h.6M106.7 390.6h.6M105.0 394.0h.6M102.3 394.9h.6M96.2 396.5h.6M98.2 392.6h.6M101.0 391.2h.6M101.4 392.1h.6M98.7 389.6h.6M101.4 390.8h.6M102.8 398.5h.6M100.6 390.7h.6M102.0 391.6h.6M102.2 394.7h.6M100.4 393.6h.6M117.0 385.3h.6M121.5 377.5h.6M118.4 383.0h.6M120.7 378.1h.6M120.2 378.8h.6M117.1 380.5h.6M120.0 384.9h.6M116.9 385.1h.6M120.4 382.7h.6M116.8 380.6h.6M122.1 377.4h.6M116.7 382.1h.6M117.5 380.2h.6M122.4 376.0h.6M120.5 382.0h.6M121.2 381.7h.6M123.6 377.1h.6M118.3 382.0h.6M120.3 381.5h.6M119.2 379.1h.6M117.5 382.6h.6M116.4 387.1h.6M115.2 388.3h.6M119.1 383.9h.6M118.4 376.8h.6M122.0 379.4h.6M121.1 375.7h.6M122.3 380.0h.6M118.6 385.9h.6M113.8 387.5h.6M117.3 384.6h.6M118.8 384.1h.6M115.8 384.9h.6M119.4 378.4h.6M116.4 385.5h.6M120.7 380.8h.6M121.3 380.1h.6M114.2 389.2h.6M118.6 384.8h.6M123.0 378.6h.6M121.4 379.8h.6M117.7 381.6h.6M115.0 386.4h.6M117.3 385.5h.6M119.7 382.8h.6M121.7 377.8h.6M119.0 380.3h.6M117.0 382.2h.6M120.6 382.5h.6M119.9 379.4h.6M117.2 390.8h.6M114.8 385.7h.6M118.1 382.2h.6M120.2 377.3h.6M123.2 379.6h.6M118.4 386.5h.6M117.8 382.1h.6M114.3 384.2h.6M119.1 384.9h.6M118.9 382.1h.6M116.2 383.2h.6M115.3 383.7h.6M116.5 387.5h.6M114.8 388.7h.6M118.2 383.4h.6M119.4 382.1h.6M119.3 379.9h.6M116.4 385.6h.6M117.8 385.9h.6M121.0 377.5h.6M119.0 380.7h.6M121.2 379.5h.6M114.6 383.4h.6M118.6 386.3h.6M116.6 387.5h.6M119.5 378.1h.6M115.8 387.0h.6M116.4 390.3h.6M117.6 385.9h.6M118.8 376.3h.6M114.1 366.0h.6M138.1 354.2h.6M129.7 394.6h.6M126.8 358.4h.6M137.9 353.6h.6M100.9 380.4h.6M100.4 365.6h.6M121.9 359.9h.6M109.0 378.6h.6M99.1 373.4h.6" stroke="#666" stroke-width=".6" fill="none"/>
<path d="M105.2 389.2h.6M92.7 400.9h.6M100.2 402.3h.6M111.3 388.7h.6M105.5 386.0h.6M99.4 390.8h.6M109.6 386.8h.6M98.5 387.3h.6M99.2 401.3h.6M102.3 386.5h.6M105.2 390.9h.6M103.0 387.4h.6M98.0 388.6h.6M102.8 396.0h.6M98.4 402.8h.6M105.1 402.1h.6M102.7 388.1h.6M93.3 401.4h.6M104.2 402.1h.6M110.7 390.6h.6M104.1 389.8h.6M92.5 392.8h.6M102.6 400.4h.6M99.8 396.0h.6M94.5 393.5h.6M110.3 392.7h.6M107.2 394.3h.6M103.0 390.5h.6M97.2 399.0h.6M93.2 396.8h.6M105.9 392.4h.6M96.1 399.0h.6M110.1 400.4h.6M109.4 389.5h.6M94.4 393.2h.6M111.9 397.5h.6M111.3 399.8h.6M92.7 387.2h.6M101.7 388.0h.6M97.1 400.4h.6M104.2 400.0h.6M108.6 389.9h.6M96.6 393.2h.6M92.5 398.6h.6M98.7 395.4h.6M95.2 400.5h.6M105.9 389.8h.6M97.2 393.8h.6M103.6 392.1h.6M93.3 401.5h.6M96.7 392.1h.6M107.1 399.4h.6M108.5 394.1h.6M102.6 389.3h.6M103.1 397.6h.6M92.2 389.0h.6M103.4 388.2h.6M103.3 401.9h.6M95.6 402.6h.6M106.2 392.4h.6M93.6 392.8h.6M102.2 397.2h.6M92.9 397.4h.6M108.8 396.8h.6M99.5 390.9h.6M111.2 400.6h.6M100.4 391.6h.6M107.3 402.1h.6M101.6 403.4h.6M92.0 391.0h.6M97.7 397.2h.6M103.3 399.0h.6M107.7 390.2h.6M92.3 403.9h.6M101.7 394.3h.6M107.3 395.5h.6M95.6 392.5h.6M98.3 393.3h.6M97.0 387.6h.6M106.6 403.4h.6M97.0 402.2h.6M110.1 400.2h.6M102.5 402.0h.6M111.5 397.4h.6M97.7 386.5h.6M91.3 403.7h.6M105.3 400.4h.6M108.1 395.8h.6M110.8 395.3h.6M94.5 397.7h.6M91.7 399.4h.6M103.4 396.2h.6M99.4 392.5h.6M95.8 387.4h.6M105.0 393.4h.6M102.0 387.8h.6M103.9 393.0h.6M110.4 402.2h.6M109.1 400.8h.6M94.7 395.4h.6M92.3 398.8h.6M104.6 393.9h.6M91.2 396.4h.6M95.4 402.4h.6M110.3 403.7h.6M99.2 391.2h.6M106.4 400.2h.6M104.8 393.1h.6M93.3 394.4h.6M106.6 393.4h.6M106.8 389.0h.6M91.3 390.2h.6M111.1 402.2h.6M93.2 396.6h.6M101.0 388.9h.6M100.9 400.4h.6M111.9 400.1h.6" stroke="#aaa" stroke-width=".6" fill="none"/>
<path d="M119.7 380.9h.6M121.0 378.2h.6M119.1 381.8h.6M120.5 380.4h.6M118.2 382.7h.6M118.4 382.5h.6M118.7 380.2h.6M118.3 383.0h.6M120.4 378.4h.6M119.3 382.8h.6M119.5 382.1h.6M117.4 383.7h.6M119.0 382.7h.6M118.9 384.4h.6M118.4 382.5h.6M116.1 385.3h.6M120.9 382.4h.6M121.9 377.4h.6M117.3 386.2h.6M123.2 378.2h.6M118.5 381.4h.6M120.6 379.4h.6M116.6 383.2h.6M122.2 376.7h.6M118.1 384.2h.6M118.6 381.3h.6M120.6 377.4h.6M117.4 384.5h.6M116.0 387.0h.6M120.2 382.2h.6M118.1 383.2h.6M117.8 383.8h.6M117.9 383.6h.6M116.2 384.4h.6M120.7 377.9h.6M119.8 378.0h.6M117.5 384.8h.6M117.5 380.9h.6M117.8 382.2h.6M120.8 378.9h.6M116.6 382.7h.6M120.2 376.9h.6M119.9 381.8h.6M117.3 382.9h.6M119.1 381.7h.6M118.7 383.0h.6M121.4 375.6h.6M118.2 380.5h.6M119.7 383.2h.6M118.9 381.0h.6M121.5 378.1h.6M117.4 383.5h.6M117.3 385.7h.6M120.0 377.8h.6M119.0 379.5h.6M117.9 382.2h.6M118.7 381.4h.6M120.2 378.5h.6M115.4 388.0h.6M121.2 378.5h.6M118.6 381.7h.6M120.7 380.2h.6M118.7 381.4h.6M123.7 374.1h.6M119.3 383.5h.6M121.9 379.4h.6M114.4 387.1h.6M120.5 382.0h.6M119.0 378.9h.6M118.2 385.8h.6M116.5 386.5h.6M119.6 381.4h.6M119.9 378.6h.6M121.4 378.9h.6M118.8 383.4h.6M119.3 380.4h.6M116.9 384.7h.6M122.1 377.5h.6M119.2 383.3h.6M121.4 378.6h.6M118.6 382.0h.6M118.8 382.3h.6M122.0 377.8h.6M118.7 383.9h.6M121.7 378.7h.6M118.8 382.4h.6M117.6 383.4h.6M118.3 383.7h.6M121.0 378.9h.6M118.7 381.5h.6M119.1 382.5h.6M116.6 384.9h.6M120.9 378.7h.6M120.1 378.7h.6M121.1 381.5h.6M121.1 380.0h.6M115.1 389.6h.6M117.6 382.3h.6M118.5 380.6h.6M119.8 381.5h.6M118.3 382.8h.6M119.7 381.0h.6M117.1 382.7h.6M117.3 382.5h.6M117.6 384.6h.6M119.2 381.1h.6M117.3 382.8h.6M118.0 382.4h.6M121.6 378.4h.6M118.8 381.4h.6M119.6 381.8h.6M118.3 385.9h.6M118.7 382.9h.6M120.6 379.1h.6M119.5 379.9h.6M120.1 381.8h.6M117.9 381.4h.6M118.5 380.9h.6M119.7 380.5h.6M117.7 381.7h.6M116.6 388.0h.6M121.3 376.4h.6M121.1 378.9h.6M118.8 381.8h.6M120.9 377.9h.6M117.5 384.7h.6M119.5 377.6h.6M118.7 380.6h.6M120.0 379.1h.6M120.3 383.2h.6M120.0 381.4h.6M120.5 380.3h.6M119.8 378.5h.6M120.5 380.6h.6M120.7 380.9h.6M118.9 383.2h.6M123.3 378.2h.6M118.5 380.5h.6M118.1 381.7h.6M118.6 382.2h.6M116.9 384.1h.6M118.3 383.3h.6M117.6 385.5h.6M119.5 381.0h.6M119.2 381.7h.6M119.8 381.1h.6M118.1 384.9h.6M118.2 382.3h.6M117.9 382.8h.6M121.3 379.5h.6M117.0 385.1h.6M116.6 384.9h.6M121.1 378.4h.6M119.4 380.5h.6M117.2 385.4h.6M120.9 378.1h.6M121.6 378.0h.6M121.3 379.0h.6M115.9 386.3h.6M118.5 380.7h.6M119.2 384.2h.6M118.4 381.9h.6M116.0 384.8h.6M120.1 376.5h.6M118.3 383.2h.6M119.1 380.6h.6M119.0 378.8h.6M119.3 379.6h.6M119.0 380.1h.6M119.4 382.8h.6M119.6 381.0h.6M118.9 382.0h.6M115.3 386.6h.6M120.4 379.0h.6M118.8 383.3h.6M118.6 382.8h.6M119.4 382.9h.6M117.4 385.0h.6M118.1 384.8h.6M117.1 386.1h.6M119.4 380.1h.6M121.7 379.1h.6M119.5 381.5h.6M118.3 384.6h.6M120.2 377.9h.6M118.0 381.9h.6M117.0 385.4h.6M116.1 385.9h.6M119.9 381.3h.6M121.4 378.1h.6M119.5 382.9h.6M118.8 383.3h.6M118.0 381.8h.6M118.7 384.0h.6M118.0 382.6h.6M119.0 380.6h.6M118.3 383.3h.6M120.4 379.2h.6M118.6 384.3h.6M122.1 380.8h.6M119.9 380.8h.6M119.7 383.0h.6M118.6 382.2h.6M119.0 382.4h.6M121.0 377.2h.6M117.8 383.4h.6M121.7 379.1h.6M120.8 379.2h.6M119.1 382.5h.6M120.7 377.2h.6M117.3 388.0h.6M119.4 380.8h.6M118.9 380.9h.6M119.2 381.5h.6M120.8 379.7h.6M119.2 382.8h.6M120.0 382.5h.6M119.9 378.3h.6M118.7 381.6h.6M118.9 384.7h.6M121.5 381.0h.6M118.6 381.5h.6M118.4 382.9h.6M118.8 379.6h.6M117.6 383.1h.6M117.3 383.6h.6M118.8 382.1h.6M118.1 381.5h.6M119.9 381.7h.6M117.6 384.5h.6M121.3 377.2h.6M120.7 380.2h.6M119.2 381.1h.6M118.6 380.5h.6M115.9 387.7h.6M121.9 380.0h.6M117.9 384.1h.6M120.2 380.5h.6M117.5 384.4h.6M120.3 379.0h.6M118.8 383.0h.6M117.0 381.0h.6M120.3 377.3h.6M120.1 378.8h.6M117.2 384.8h.6M119.3 383.8h.6M121.2 382.0h.6M119.3 382.3h.6M120.5 379.7h.6M118.8 383.5h.6M117.8 386.7h.6M117.3 383.4h.6M118.6 381.8h.6M120.0 380.2h.6M120.4 379.8h.6M119.5 377.7h.6M119.8 381.1h.6M117.8 381.4h.6M120.7 380.0h.6M119.6 382.1h.6M117.0 381.8h.6M118.9 382.9h.6M120.5 379.3h.6M120.7 377.6h.6M121.6 378.6h.6M118.5 386.2h.6M121.0 379.0h.6M116.9 383.9h.6M117.7 381.8h.6M119.1 379.6h.6M116.7 384.4h.6M118.4 385.0h.6M118.4 383.5h.6M121.4 377.3h.6M121.2 379.2h.6M118.0 383.7h.6M119.4 381.2h.6M118.8 380.9h.6M119.2 380.5h.6M118.3 383.3h.6M120.3 377.5h.6M119.9 383.1h.6M120.3 379.5h.6M116.6 385.5h.6M120.4 380.9h.6M118.6 380.8h.6M121.7 378.5h.6M115.8 388.0h.6M121.2 380.8h.6M119.9 379.3h.6M118.6 382.0h.6M120.3 377.9h.6M121.1 375.8h.6M120.5 379.4h.6M119.5 379.1h.6M121.2 378.3h.6M119.3 380.2h.6M121.5 378.9h.6M118.2 379.1h.6M118.6 383.4h.6M117.8 384.1h.6M120.7 378.6h.6M119.5 379.8h.6M119.5 383.8h.6M118.9 381.3h.6M121.4 378.0h.6M116.7 385.6h.6M117.7 383.6h.6M120.2 379.8h.6M120.7 379.7h.6M116.9 384.0h.6M117.5 383.8h.6M118.4 380.6h.6M121.3 378.2h.6M118.6 381.2h.6M115.6 387.0h.6M121.0 379.2h.6M119.1 381.6h.6M118.9 382.8h.6M117.6 384.3h.6M121.0 378.7h.6M119.6 380.9h.6M118.9 380.1h.6M119.8 380.7h.6M119.5 380.3h.6M120.1 379.3h.6M121.6 377.4h.6M117.4 383.9h.6M118.3 381.3h.6M119.4 383.1h.6M122.7 378.0h.6M118.6 382.1h.6M117.9 385.9h.6M119.4 381.7h.6M117.8 383.1h.6M117.6 383.0h.6M118.4 382.5h.6M117.2 384.6h.6M116.4 386.2h.6M121.7 376.6h.6M118.2 381.4h.6M118.6 384.1h.6M119.2 379.5h.6M120.2 377.8h.6M117.5 386.2h.6M119.1 382.9h.6M120.6 381.4h.6M118.2 383.6h.6M119.3 380.1h.6M118.4 385.0h.6M118.2 383.1h.6M118.9 381.8h.6M119.1 380.1h.6M119.5 381.6h.6M116.6 382.3h.6M119.1 382.6h.6M115.0 386.0h.6M122.6 376.5h.6M117.5 381.9h.6M119.3 382.5h.6M121.3 381.8h.6M119.7 380.0h.6M118.8 380.2h.6M119.7 383.9h.6M116.7 385.4h.6M118.2 381.5h.6M119.0 384.0h.6M116.4 381.8h.6M118.1 381.0h.6M118.6 380.4h.6M120.4 378.1h.6M117.6 381.1h.6M117.5 386.1h.6M120.7 380.4h.6M120.4 379.2h.6M116.7 385.4h.6M118.9 379.4h.6M119.8 381.2h.6M118.0 382.6h.6M119.8 381.3h.6M120.4 380.9h.6M120.0 380.1h.6M119.2 377.9h.6M118.5 381.2h.6M120.1 382.0h.6M122.5 375.6h.6M118.8 384.7h.6M117.2 381.4h.6M118.6 382.4h.6M120.1 379.5h.6M119.5 378.2h.6M117.0 384.5h.6M121.5 378.8h.6M118.0 384.7h.6M122.2 374.9h.6M118.5 383.3h.6M121.5 379.2h.6M118.1 381.8h.6M120.3 379.9h.6M118.9 383.8h.6" stroke="#000" stroke-width=".6" fill="none"/>
<path d="M107.8 403.7h.6M133.1 403.9h.6M132.6 403.8h.6M92.7 403.9h.6M100.4 403.9h.6M133.9 403.5h.6" stroke="#999" stroke-width=".6" fill="none"/>
</g>
<line x1="112.4" y1="351.2" x2="112.4" y2="405.1" stroke="#777" stroke-width="0.8"/>
<line x1="90.2" y1="384.7" x2="144.1" y2="384.7" stroke="#777" stroke-width="0.8"/>
<rect x="90.2" y="351.2" width="53.9" height="53.9" fill="none" stroke="#888" stroke-width="0.9"/>
<text x="127.4" y="357.2" font-size="6" stroke="#000" textLength="16" lengthAdjust="spacingAndGlyphs" font-weight="bold" style="stroke-width:0">36.5%</text>
<text x="127.4" y="403.9" font-size="6" stroke="#000" textLength="16" lengthAdjust="spacingAndGlyphs" font-weight="bold" style="stroke-width:0">13.5%</text>
<text x="25.4" y="405.55" font-size="9.2" text-anchor="start" textLength="22.9" lengthAdjust="spacingAndGlyphs" transform="rotate(-90 25.4 405.55)" stroke="#000">7-AAD</text>
<line x1="23.7" y1="380" x2="23.7" y2="358.5" stroke="#000" stroke-width="0.9"/>
<path d="M21.8 359.5L23.7 354.8L25.6 359.5Z" fill="#000"/>
<text x="28.3" y="415.02" font-size="9.2" stroke="#000" textLength="36.9" lengthAdjust="spacingAndGlyphs">Annexin V</text>
<line x1="68.7" y1="412.1" x2="122.5" y2="412.1" stroke="#000" stroke-width="0.9"/>
<path d="M121.5 410.2L126.2 412.1L121.5 414Z" fill="#000"/>
<text x="170" y="336" font-size="10" stroke="#000" textLength="55.8" lengthAdjust="spacingAndGlyphs">Apoptotic cells</text>
<text x="149.8" y="351" font-size="6.4" stroke="#000" textLength="9.6" lengthAdjust="spacingAndGlyphs">(%)</text>
<line x1="165.2" y1="354" x2="165.2" y2="401.4" stroke="#000" stroke-width="1.2"/>
<line x1="164.6" y1="400.8" x2="230.6" y2="400.8" stroke="#000" stroke-width="1.2"/>
<line x1="162" y1="400.8" x2="165.2" y2="400.8" stroke="#000" stroke-width="0.9"/>
<text x="156.1" y="403.18" font-size="6.6" stroke="#000" textLength="3.3" lengthAdjust="spacingAndGlyphs">0</text>
<line x1="162" y1="386.17" x2="165.2" y2="386.17" stroke="#000" stroke-width="0.9"/>
<text x="156.1" y="388.54" font-size="6.6" stroke="#000" textLength="3.3" lengthAdjust="spacingAndGlyphs">5</text>
<line x1="162" y1="371.53" x2="165.2" y2="371.53" stroke="#000" stroke-width="0.9"/>
<text x="152.8" y="373.91" font-size="6.6" stroke="#000" textLength="6.6" lengthAdjust="spacingAndGlyphs">10</text>
<line x1="162" y1="356.9" x2="165.2" y2="356.9" stroke="#000" stroke-width="0.9"/>
<text x="152.8" y="359.28" font-size="6.6" stroke="#000" textLength="6.6" lengthAdjust="spacingAndGlyphs">15</text>
<line x1="183.75" y1="386.75" x2="183.75" y2="387.63" stroke="#222" stroke-width="1.1"/>
<line x1="181.25" y1="386.75" x2="186.25" y2="386.75" stroke="#222" stroke-width="1.1"/>
<line x1="181.25" y1="387.63" x2="186.25" y2="387.63" stroke="#222" stroke-width="1.1"/>
<rect x="174.4" y="387.63" width="18.7" height="13.17" fill="#6ca840"/>
<line x1="211.65" y1="361.58" x2="211.65" y2="363.34" stroke="#222" stroke-width="1.1"/>
<line x1="209.15" y1="361.58" x2="214.15" y2="361.58" stroke="#222" stroke-width="1.1"/>
<line x1="209.15" y1="363.34" x2="214.15" y2="363.34" stroke="#222" stroke-width="1.1"/>
<rect x="202.3" y="363.34" width="18.7" height="37.46" fill="#a5002d"/>
<polyline points="184.4,358.3 184.4,357.1 211.9,357.1 211.9,358.3" fill="none" stroke="#000" stroke-width="0.9"/>
<text x="195.82" y="356.96" font-size="5.2" stroke="#000" textLength="4.16" lengthAdjust="spacingAndGlyphs">**</text>
<text x="190" y="406.8" font-size="7.5" text-anchor="end" stroke="#000" textLength="34.5" lengthAdjust="spacingAndGlyphs" transform="rotate(-45 190 406.8)">Control IgG</text>
<text x="215" y="407.3" font-size="7.5" text-anchor="end" stroke="#000" textLength="35.5" lengthAdjust="spacingAndGlyphs" transform="rotate(-45 215 407.3)">anti-CD137L</text>
<text x="296.1" y="333.66" font-size="9.6" stroke="#000" textLength="80.8" lengthAdjust="spacingAndGlyphs">Recombinant CD137L</text>
<line x1="278.8" y1="339" x2="278.8" y2="414.5" stroke="#000" stroke-width="1.2"/>
<line x1="278.2" y1="413.9" x2="387.9" y2="413.9" stroke="#000" stroke-width="1.2"/>
<line x1="275.6" y1="413.9" x2="278.8" y2="413.9" stroke="#000" stroke-width="0.9"/>
<text x="269.7" y="416.28" font-size="6.6" stroke="#000" textLength="3.3" lengthAdjust="spacingAndGlyphs">0</text>
<line x1="275.6" y1="389.67" x2="278.8" y2="389.67" stroke="#000" stroke-width="0.9"/>
<text x="265.08" y="392.04" font-size="6.6" stroke="#000" textLength="7.92" lengthAdjust="spacingAndGlyphs">0.5</text>
<line x1="275.6" y1="365.43" x2="278.8" y2="365.43" stroke="#000" stroke-width="0.9"/>
<text x="265.08" y="367.81" font-size="6.6" stroke="#000" textLength="7.92" lengthAdjust="spacingAndGlyphs">1.0</text>
<line x1="275.6" y1="341.2" x2="278.8" y2="341.2" stroke="#000" stroke-width="0.9"/>
<text x="265.08" y="343.58" font-size="6.6" stroke="#000" textLength="7.92" lengthAdjust="spacingAndGlyphs">1.5</text>
<line x1="287.5" y1="367.37" x2="287.5" y2="375.13" stroke="#222" stroke-width="1.1"/>
<line x1="285" y1="367.37" x2="290" y2="367.37" stroke="#222" stroke-width="1.1"/>
<line x1="285" y1="375.13" x2="290" y2="375.13" stroke="#222" stroke-width="1.1"/>
<rect x="283.2" y="375.13" width="8.6" height="38.77" fill="#6ca840"/>
<line x1="298.45" y1="351.38" x2="298.45" y2="355.74" stroke="#222" stroke-width="1.1"/>
<line x1="295.95" y1="351.38" x2="300.95" y2="351.38" stroke="#222" stroke-width="1.1"/>
<line x1="295.95" y1="355.74" x2="300.95" y2="355.74" stroke="#222" stroke-width="1.1"/>
<rect x="294.1" y="355.74" width="8.7" height="58.16" fill="#58236a"/>
<polyline points="286.5,348.8 286.5,347.6 299.45,347.6 299.45,348.8" fill="none" stroke="#000" stroke-width="0.9"/>
<text x="292.98" y="347.88" font-size="6.8" text-anchor="middle" stroke="#000">*</text>
<text x="287.5" y="424" font-size="6" text-anchor="middle" stroke="#000">-</text>
<text x="298.45" y="424" font-size="6" text-anchor="middle" stroke="#000">+</text>
<line x1="282.2" y1="425.7" x2="303.8" y2="425.7" stroke="#000" stroke-width="0.9"/>
<line x1="314.2" y1="368.83" x2="314.2" y2="371.73" stroke="#222" stroke-width="1.1"/>
<line x1="311.7" y1="368.83" x2="316.7" y2="368.83" stroke="#222" stroke-width="1.1"/>
<line x1="311.7" y1="371.73" x2="316.7" y2="371.73" stroke="#222" stroke-width="1.1"/>
<rect x="310" y="371.73" width="8.4" height="42.17" fill="#6ca840"/>
<line x1="325.15" y1="355.26" x2="325.15" y2="360.1" stroke="#222" stroke-width="1.1"/>
<line x1="322.65" y1="355.26" x2="327.65" y2="355.26" stroke="#222" stroke-width="1.1"/>
<line x1="322.65" y1="360.1" x2="327.65" y2="360.1" stroke="#222" stroke-width="1.1"/>
<rect x="321" y="360.1" width="8.3" height="53.8" fill="#58236a"/>
<polyline points="313.2,348.8 313.2,347.6 326.15,347.6 326.15,348.8" fill="none" stroke="#000" stroke-width="0.9"/>
<text x="319.67" y="347.88" font-size="6.8" text-anchor="middle" stroke="#000">*</text>
<text x="314.2" y="424" font-size="6" text-anchor="middle" stroke="#000">-</text>
<text x="325.15" y="424" font-size="6" text-anchor="middle" stroke="#000">+</text>
<line x1="309" y1="425.7" x2="330.3" y2="425.7" stroke="#000" stroke-width="0.9"/>
<line x1="341.15" y1="371.73" x2="341.15" y2="375.13" stroke="#222" stroke-width="1.1"/>
<line x1="338.65" y1="371.73" x2="343.65" y2="371.73" stroke="#222" stroke-width="1.1"/>
<line x1="338.65" y1="375.13" x2="343.65" y2="375.13" stroke="#222" stroke-width="1.1"/>
<rect x="337.1" y="375.13" width="8.1" height="38.77" fill="#6ca840"/>
<line x1="352.05" y1="358.65" x2="352.05" y2="359.62" stroke="#222" stroke-width="1.1"/>
<line x1="349.55" y1="358.65" x2="354.55" y2="358.65" stroke="#222" stroke-width="1.1"/>
<line x1="349.55" y1="359.62" x2="354.55" y2="359.62" stroke="#222" stroke-width="1.1"/>
<rect x="348" y="359.62" width="8.1" height="54.28" fill="#58236a"/>
<polyline points="340.15,348.8 340.15,347.6 353.05,347.6 353.05,348.8" fill="none" stroke="#000" stroke-width="0.9"/>
<text x="346.6" y="347.88" font-size="6.8" text-anchor="middle" stroke="#000">*</text>
<text x="341.15" y="424" font-size="6" text-anchor="middle" stroke="#000">-</text>
<text x="352.05" y="424" font-size="6" text-anchor="middle" stroke="#000">+</text>
<line x1="336.1" y1="425.7" x2="357.1" y2="425.7" stroke="#000" stroke-width="0.9"/>
<line x1="367.85" y1="376.58" x2="367.85" y2="379" stroke="#222" stroke-width="1.1"/>
<line x1="365.35" y1="376.58" x2="370.35" y2="376.58" stroke="#222" stroke-width="1.1"/>
<line x1="365.35" y1="379" x2="370.35" y2="379" stroke="#222" stroke-width="1.1"/>
<rect x="364" y="379" width="7.7" height="34.9" fill="#6ca840"/>
<line x1="378.65" y1="362.53" x2="378.65" y2="367.37" stroke="#222" stroke-width="1.1"/>
<line x1="376.15" y1="362.53" x2="381.15" y2="362.53" stroke="#222" stroke-width="1.1"/>
<line x1="376.15" y1="367.37" x2="381.15" y2="367.37" stroke="#222" stroke-width="1.1"/>
<rect x="374.6" y="367.37" width="8.1" height="46.53" fill="#58236a"/>
<polyline points="366.85,348.8 366.85,347.6 379.65,347.6 379.65,348.8" fill="none" stroke="#000" stroke-width="0.9"/>
<text x="373.25" y="347.88" font-size="6.8" text-anchor="middle" stroke="#000">*</text>
<text x="367.85" y="424" font-size="6" text-anchor="middle" stroke="#000">-</text>
<text x="378.65" y="424" font-size="6" text-anchor="middle" stroke="#000">+</text>
<line x1="363" y1="425.7" x2="383.7" y2="425.7" stroke="#000" stroke-width="0.9"/>
<text x="250" y="425.01" font-size="6.6" stroke="#000" textLength="22.7" lengthAdjust="spacingAndGlyphs">rCD137L</text>
<text x="283.5" y="433.91" font-size="6.6" stroke="#000" textLength="19" lengthAdjust="spacingAndGlyphs">Hut78</text>
<text x="311.95" y="433.91" font-size="6.6" stroke="#000" textLength="15.5" lengthAdjust="spacingAndGlyphs">MyLa</text>
<text x="342.35" y="433.91" font-size="6.6" stroke="#000" textLength="8.5" lengthAdjust="spacingAndGlyphs">HH</text>
<text x="365.9" y="433.91" font-size="6.6" stroke="#000" textLength="15" lengthAdjust="spacingAndGlyphs">SeAx</text>
<text x="258" y="411.5" font-size="8.8" text-anchor="start" textLength="71" lengthAdjust="spacingAndGlyphs" transform="rotate(-90 258 411.5)" stroke="#000">Cell number (×10<tspan dy="-3.52" font-size="6.6">5</tspan><tspan dy="3.52">)</tspan></text>
<line x1="41.4" y1="478" x2="41.4" y2="556.1" stroke="#000" stroke-width="1.2"/>
<line x1="40.8" y1="555.5" x2="153.82" y2="555.5" stroke="#000" stroke-width="1.2"/>
<line x1="37.9" y1="555.5" x2="41.4" y2="555.5" stroke="#000" stroke-width="0.9"/>
<text x="31.8" y="557.88" font-size="6.6" stroke="#000" textLength="3.3" lengthAdjust="spacingAndGlyphs">0</text>
<line x1="37.9" y1="536.65" x2="41.4" y2="536.65" stroke="#000" stroke-width="0.9"/>
<text x="25.2" y="539.03" font-size="6.6" stroke="#000" textLength="9.9" lengthAdjust="spacingAndGlyphs">200</text>
<line x1="37.9" y1="517.8" x2="41.4" y2="517.8" stroke="#000" stroke-width="0.9"/>
<text x="25.2" y="520.18" font-size="6.6" stroke="#000" textLength="9.9" lengthAdjust="spacingAndGlyphs">400</text>
<line x1="37.9" y1="498.95" x2="41.4" y2="498.95" stroke="#000" stroke-width="0.9"/>
<text x="25.2" y="501.33" font-size="6.6" stroke="#000" textLength="9.9" lengthAdjust="spacingAndGlyphs">600</text>
<line x1="37.9" y1="480.1" x2="41.4" y2="480.1" stroke="#000" stroke-width="0.9"/>
<text x="25.2" y="482.48" font-size="6.6" stroke="#000" textLength="9.9" lengthAdjust="spacingAndGlyphs">800</text>
<line x1="41.4" y1="555.5" x2="41.4" y2="558.3" stroke="#000" stroke-width="0.9"/>
<text x="39.75" y="567.7" font-size="6.6" stroke="#000" textLength="3.3" lengthAdjust="spacingAndGlyphs">0</text>
<line x1="56.46" y1="555.5" x2="56.46" y2="558.3" stroke="#000" stroke-width="0.9"/>
<text x="54.81" y="567.7" font-size="6.6" stroke="#000" textLength="3.3" lengthAdjust="spacingAndGlyphs">2</text>
<line x1="71.52" y1="555.5" x2="71.52" y2="558.3" stroke="#000" stroke-width="0.9"/>
<text x="69.87" y="567.7" font-size="6.6" stroke="#000" textLength="3.3" lengthAdjust="spacingAndGlyphs">4</text>
<line x1="86.58" y1="555.5" x2="86.58" y2="558.3" stroke="#000" stroke-width="0.9"/>
<text x="84.93" y="567.7" font-size="6.6" stroke="#000" textLength="3.3" lengthAdjust="spacingAndGlyphs">6</text>
<line x1="101.64" y1="555.5" x2="101.64" y2="558.3" stroke="#000" stroke-width="0.9"/>
<text x="99.99" y="567.7" font-size="6.6" stroke="#000" textLength="3.3" lengthAdjust="spacingAndGlyphs">8</text>
<line x1="116.7" y1="555.5" x2="116.7" y2="558.3" stroke="#000" stroke-width="0.9"/>
<text x="113.4" y="567.7" font-size="6.6" stroke="#000" textLength="6.6" lengthAdjust="spacingAndGlyphs">10</text>
<line x1="131.76" y1="555.5" x2="131.76" y2="558.3" stroke="#000" stroke-width="0.9"/>
<text x="128.46" y="567.7" font-size="6.6" stroke="#000" textLength="6.6" lengthAdjust="spacingAndGlyphs">12</text>
<line x1="146.82" y1="555.5" x2="146.82" y2="558.3" stroke="#000" stroke-width="0.9"/>
<text x="143.52" y="567.7" font-size="6.6" stroke="#000" textLength="6.6" lengthAdjust="spacingAndGlyphs">14</text>
<line x1="116.7" y1="551.26" x2="116.7" y2="552.2" stroke="#ae0f3b" stroke-width="1.1"/>
<line x1="115.4" y1="551.26" x2="118" y2="551.26" stroke="#ae0f3b" stroke-width="1.1"/>
<line x1="115.4" y1="552.2" x2="118" y2="552.2" stroke="#ae0f3b" stroke-width="1.1"/>
<line x1="131.76" y1="547.02" x2="131.76" y2="549.85" stroke="#ae0f3b" stroke-width="1.1"/>
<line x1="130.46" y1="547.02" x2="133.06" y2="547.02" stroke="#ae0f3b" stroke-width="1.1"/>
<line x1="130.46" y1="549.85" x2="133.06" y2="549.85" stroke="#ae0f3b" stroke-width="1.1"/>
<line x1="146.82" y1="539.01" x2="146.82" y2="544.66" stroke="#ae0f3b" stroke-width="1.1"/>
<line x1="145.52" y1="539.01" x2="148.12" y2="539.01" stroke="#ae0f3b" stroke-width="1.1"/>
<line x1="145.52" y1="544.66" x2="148.12" y2="544.66" stroke="#ae0f3b" stroke-width="1.1"/>
<polyline points="41.4,555.5 56.46,555.5 71.52,555.5 86.58,555.03 101.64,554.09 116.7,551.73 131.76,548.43 146.82,541.83" fill="none" stroke="#ae0f3b" stroke-width="1.2"/>
<circle cx="41.4" cy="555.5" r="1.4" fill="#ae0f3b"/>
<circle cx="56.46" cy="555.5" r="1.4" fill="#ae0f3b"/>
<circle cx="71.52" cy="555.5" r="1.4" fill="#ae0f3b"/>
<circle cx="86.58" cy="555.03" r="1.4" fill="#ae0f3b"/>
<circle cx="101.64" cy="554.09" r="1.4" fill="#ae0f3b"/>
<circle cx="116.7" cy="551.73" r="1.4" fill="#ae0f3b"/>
<circle cx="131.76" cy="548.43" r="1.4" fill="#ae0f3b"/>
<circle cx="146.82" cy="541.83" r="1.4" fill="#ae0f3b"/>
<line x1="116.7" y1="538.06" x2="116.7" y2="541.83" stroke="#6cad3e" stroke-width="1.1"/>
<line x1="115.4" y1="538.06" x2="118" y2="538.06" stroke="#6cad3e" stroke-width="1.1"/>
<line x1="115.4" y1="541.83" x2="118" y2="541.83" stroke="#6cad3e" stroke-width="1.1"/>
<line x1="131.76" y1="525.34" x2="131.76" y2="531.94" stroke="#6cad3e" stroke-width="1.1"/>
<line x1="130.46" y1="525.34" x2="133.06" y2="525.34" stroke="#6cad3e" stroke-width="1.1"/>
<line x1="130.46" y1="531.94" x2="133.06" y2="531.94" stroke="#6cad3e" stroke-width="1.1"/>
<line x1="146.82" y1="490" x2="146.82" y2="507.9" stroke="#6cad3e" stroke-width="1.1"/>
<line x1="145.52" y1="490" x2="148.12" y2="490" stroke="#6cad3e" stroke-width="1.1"/>
<line x1="145.52" y1="507.9" x2="148.12" y2="507.9" stroke="#6cad3e" stroke-width="1.1"/>
<polyline points="41.4,555.5 56.46,555.5 71.52,555.5 86.58,550.79 101.64,546.55 116.7,539.95 131.76,528.64 146.82,498.95" fill="none" stroke="#6cad3e" stroke-width="1.2"/>
<circle cx="41.4" cy="555.5" r="1.4" fill="#6cad3e"/>
<circle cx="56.46" cy="555.5" r="1.4" fill="#6cad3e"/>
<circle cx="71.52" cy="555.5" r="1.4" fill="#6cad3e"/>
<circle cx="86.58" cy="550.79" r="1.4" fill="#6cad3e"/>
<circle cx="101.64" cy="546.55" r="1.4" fill="#6cad3e"/>
<circle cx="116.7" cy="539.95" r="1.4" fill="#6cad3e"/>
<circle cx="131.76" cy="528.64" r="1.4" fill="#6cad3e"/>
<circle cx="146.82" cy="498.95" r="1.4" fill="#6cad3e"/>
<text x="99.64" y="552.65" font-size="5" stroke="#000" textLength="4" lengthAdjust="spacingAndGlyphs">**</text>
<text x="114.7" y="550.55" font-size="5" stroke="#000" textLength="4" lengthAdjust="spacingAndGlyphs">**</text>
<text x="129.76" y="545.85" font-size="5" stroke="#000" textLength="4" lengthAdjust="spacingAndGlyphs">**</text>
<text x="144.82" y="537.35" font-size="5" stroke="#000" textLength="4" lengthAdjust="spacingAndGlyphs">**</text>
<text x="98.2" y="471.78" font-size="8.8" text-anchor="middle" stroke="#000">Hut78</text>
<line x1="50" y1="492.3" x2="57.8" y2="492.3" stroke="#6cad3e" stroke-width="1.2"/>
<circle cx="53.9" cy="492.3" r="1.4" fill="#6cad3e"/>
<text x="63.8" y="494.4" font-size="6" stroke="#000" textLength="27" lengthAdjust="spacingAndGlyphs">Control IgG</text>
<line x1="50" y1="502.7" x2="57.8" y2="502.7" stroke="#ae0f3b" stroke-width="1.2"/>
<circle cx="53.9" cy="502.7" r="1.4" fill="#ae0f3b"/>
<text x="63.8" y="504.8" font-size="6" stroke="#000" textLength="28.5" lengthAdjust="spacingAndGlyphs">anti-CD137L</text>
<text x="84.86" y="577.75" font-size="9" stroke="#000" textLength="18.5" lengthAdjust="spacingAndGlyphs">Days</text>
<line x1="209" y1="478" x2="209" y2="556.4" stroke="#000" stroke-width="1.2"/>
<line x1="208.4" y1="555.8" x2="321.42" y2="555.8" stroke="#000" stroke-width="1.2"/>
<line x1="205.5" y1="555.8" x2="209" y2="555.8" stroke="#000" stroke-width="0.9"/>
<text x="199.4" y="558.18" font-size="6.6" stroke="#000" textLength="3.3" lengthAdjust="spacingAndGlyphs">0</text>
<line x1="205.5" y1="540.66" x2="209" y2="540.66" stroke="#000" stroke-width="0.9"/>
<text x="192.8" y="543.04" font-size="6.6" stroke="#000" textLength="9.9" lengthAdjust="spacingAndGlyphs">200</text>
<line x1="205.5" y1="525.52" x2="209" y2="525.52" stroke="#000" stroke-width="0.9"/>
<text x="192.8" y="527.9" font-size="6.6" stroke="#000" textLength="9.9" lengthAdjust="spacingAndGlyphs">400</text>
<line x1="205.5" y1="510.38" x2="209" y2="510.38" stroke="#000" stroke-width="0.9"/>
<text x="192.8" y="512.76" font-size="6.6" stroke="#000" textLength="9.9" lengthAdjust="spacingAndGlyphs">600</text>
<line x1="205.5" y1="495.24" x2="209" y2="495.24" stroke="#000" stroke-width="0.9"/>
<text x="192.8" y="497.62" font-size="6.6" stroke="#000" textLength="9.9" lengthAdjust="spacingAndGlyphs">800</text>
<line x1="205.5" y1="480.1" x2="209" y2="480.1" stroke="#000" stroke-width="0.9"/>
<text x="189.5" y="482.48" font-size="6.6" stroke="#000" textLength="13.2" lengthAdjust="spacingAndGlyphs">1000</text>
<line x1="209" y1="555.8" x2="209" y2="558.6" stroke="#000" stroke-width="0.9"/>
<text x="207.35" y="568" font-size="6.6" stroke="#000" textLength="3.3" lengthAdjust="spacingAndGlyphs">0</text>
<line x1="224.06" y1="555.8" x2="224.06" y2="558.6" stroke="#000" stroke-width="0.9"/>
<text x="222.41" y="568" font-size="6.6" stroke="#000" textLength="3.3" lengthAdjust="spacingAndGlyphs">2</text>
<line x1="239.12" y1="555.8" x2="239.12" y2="558.6" stroke="#000" stroke-width="0.9"/>
<text x="237.47" y="568" font-size="6.6" stroke="#000" textLength="3.3" lengthAdjust="spacingAndGlyphs">4</text>
<line x1="254.18" y1="555.8" x2="254.18" y2="558.6" stroke="#000" stroke-width="0.9"/>
<text x="252.53" y="568" font-size="6.6" stroke="#000" textLength="3.3" lengthAdjust="spacingAndGlyphs">6</text>
<line x1="269.24" y1="555.8" x2="269.24" y2="558.6" stroke="#000" stroke-width="0.9"/>
<text x="267.59" y="568" font-size="6.6" stroke="#000" textLength="3.3" lengthAdjust="spacingAndGlyphs">8</text>
<line x1="284.3" y1="555.8" x2="284.3" y2="558.6" stroke="#000" stroke-width="0.9"/>
<text x="281" y="568" font-size="6.6" stroke="#000" textLength="6.6" lengthAdjust="spacingAndGlyphs">10</text>
<line x1="299.36" y1="555.8" x2="299.36" y2="558.6" stroke="#000" stroke-width="0.9"/>
<text x="296.06" y="568" font-size="6.6" stroke="#000" textLength="6.6" lengthAdjust="spacingAndGlyphs">12</text>
<line x1="314.42" y1="555.8" x2="314.42" y2="558.6" stroke="#000" stroke-width="0.9"/>
<text x="311.12" y="568" font-size="6.6" stroke="#000" textLength="6.6" lengthAdjust="spacingAndGlyphs">14</text>
<line x1="284.3" y1="550.5" x2="284.3" y2="551.26" stroke="#ae0f3b" stroke-width="1.1"/>
<line x1="283" y1="550.5" x2="285.6" y2="550.5" stroke="#ae0f3b" stroke-width="1.1"/>
<line x1="283" y1="551.26" x2="285.6" y2="551.26" stroke="#ae0f3b" stroke-width="1.1"/>
<line x1="299.36" y1="545.2" x2="299.36" y2="548.99" stroke="#ae0f3b" stroke-width="1.1"/>
<line x1="298.06" y1="545.2" x2="300.66" y2="545.2" stroke="#ae0f3b" stroke-width="1.1"/>
<line x1="298.06" y1="548.99" x2="300.66" y2="548.99" stroke="#ae0f3b" stroke-width="1.1"/>
<line x1="314.42" y1="539.52" x2="314.42" y2="545.58" stroke="#ae0f3b" stroke-width="1.1"/>
<line x1="313.12" y1="539.52" x2="315.72" y2="539.52" stroke="#ae0f3b" stroke-width="1.1"/>
<line x1="313.12" y1="545.58" x2="315.72" y2="545.58" stroke="#ae0f3b" stroke-width="1.1"/>
<polyline points="209,555.8 224.06,555.8 239.12,555.8 254.18,555.42 269.24,554.29 284.3,550.88 299.36,547.09 314.42,542.55" fill="none" stroke="#ae0f3b" stroke-width="1.2"/>
<circle cx="209" cy="555.8" r="1.4" fill="#ae0f3b"/>
<circle cx="224.06" cy="555.8" r="1.4" fill="#ae0f3b"/>
<circle cx="239.12" cy="555.8" r="1.4" fill="#ae0f3b"/>
<circle cx="254.18" cy="555.42" r="1.4" fill="#ae0f3b"/>
<circle cx="269.24" cy="554.29" r="1.4" fill="#ae0f3b"/>
<circle cx="284.3" cy="550.88" r="1.4" fill="#ae0f3b"/>
<circle cx="299.36" cy="547.09" r="1.4" fill="#ae0f3b"/>
<circle cx="314.42" cy="542.55" r="1.4" fill="#ae0f3b"/>
<line x1="284.3" y1="542.55" x2="284.3" y2="545.58" stroke="#6cad3e" stroke-width="1.1"/>
<line x1="283" y1="542.55" x2="285.6" y2="542.55" stroke="#6cad3e" stroke-width="1.1"/>
<line x1="283" y1="545.58" x2="285.6" y2="545.58" stroke="#6cad3e" stroke-width="1.1"/>
<line x1="299.36" y1="527.41" x2="299.36" y2="533.47" stroke="#6cad3e" stroke-width="1.1"/>
<line x1="298.06" y1="527.41" x2="300.66" y2="527.41" stroke="#6cad3e" stroke-width="1.1"/>
<line x1="298.06" y1="533.47" x2="300.66" y2="533.47" stroke="#6cad3e" stroke-width="1.1"/>
<line x1="314.42" y1="492.59" x2="314.42" y2="508.49" stroke="#6cad3e" stroke-width="1.1"/>
<line x1="313.12" y1="492.59" x2="315.72" y2="492.59" stroke="#6cad3e" stroke-width="1.1"/>
<line x1="313.12" y1="508.49" x2="315.72" y2="508.49" stroke="#6cad3e" stroke-width="1.1"/>
<polyline points="209,555.8 224.06,555.8 239.12,555.8 254.18,552.39 269.24,550.5 284.3,544.07 299.36,530.44 314.42,500.54" fill="none" stroke="#6cad3e" stroke-width="1.2"/>
<circle cx="209" cy="555.8" r="1.4" fill="#6cad3e"/>
<circle cx="224.06" cy="555.8" r="1.4" fill="#6cad3e"/>
<circle cx="239.12" cy="555.8" r="1.4" fill="#6cad3e"/>
<circle cx="254.18" cy="552.39" r="1.4" fill="#6cad3e"/>
<circle cx="269.24" cy="550.5" r="1.4" fill="#6cad3e"/>
<circle cx="284.3" cy="544.07" r="1.4" fill="#6cad3e"/>
<circle cx="299.36" cy="530.44" r="1.4" fill="#6cad3e"/>
<circle cx="314.42" cy="500.54" r="1.4" fill="#6cad3e"/>
<text x="297.36" y="543.55" font-size="5" stroke="#000" textLength="4" lengthAdjust="spacingAndGlyphs">**</text>
<text x="312.42" y="538.65" font-size="5" stroke="#000" textLength="4" lengthAdjust="spacingAndGlyphs">**</text>
<text x="266.2" y="472.48" font-size="8.8" text-anchor="middle" stroke="#000">EL-4</text>
<line x1="217.2" y1="492.3" x2="225" y2="492.3" stroke="#6cad3e" stroke-width="1.2"/>
<circle cx="221.1" cy="492.3" r="1.4" fill="#6cad3e"/>
<text x="231" y="494.4" font-size="6" stroke="#000" textLength="27" lengthAdjust="spacingAndGlyphs">Control IgG</text>
<line x1="217.2" y1="503.1" x2="225" y2="503.1" stroke="#ae0f3b" stroke-width="1.2"/>
<circle cx="221.1" cy="503.1" r="1.4" fill="#ae0f3b"/>
<text x="231" y="505.2" font-size="6" stroke="#000" textLength="28.5" lengthAdjust="spacingAndGlyphs">anti-CD137L</text>
<text x="252.46" y="581.95" font-size="9" stroke="#000" textLength="18.5" lengthAdjust="spacingAndGlyphs">Days</text>
<text x="17.4" y="556.6" font-size="8.5" text-anchor="start" textLength="78.8" lengthAdjust="spacingAndGlyphs" transform="rotate(-90 17.4 556.6)" stroke="#000">Tumor volume (mm³)</text>
<text x="182.6" y="556.6" font-size="8.5" text-anchor="start" textLength="78.8" lengthAdjust="spacingAndGlyphs" transform="rotate(-90 182.6 556.6)" stroke="#000">Tumor volume (mm³)</text>
</g>
<rect x="0.75" y="0.75" width="518.5" height="589.5" fill="none" stroke="#000" stroke-width="1.5"/>
</svg></body></html>
